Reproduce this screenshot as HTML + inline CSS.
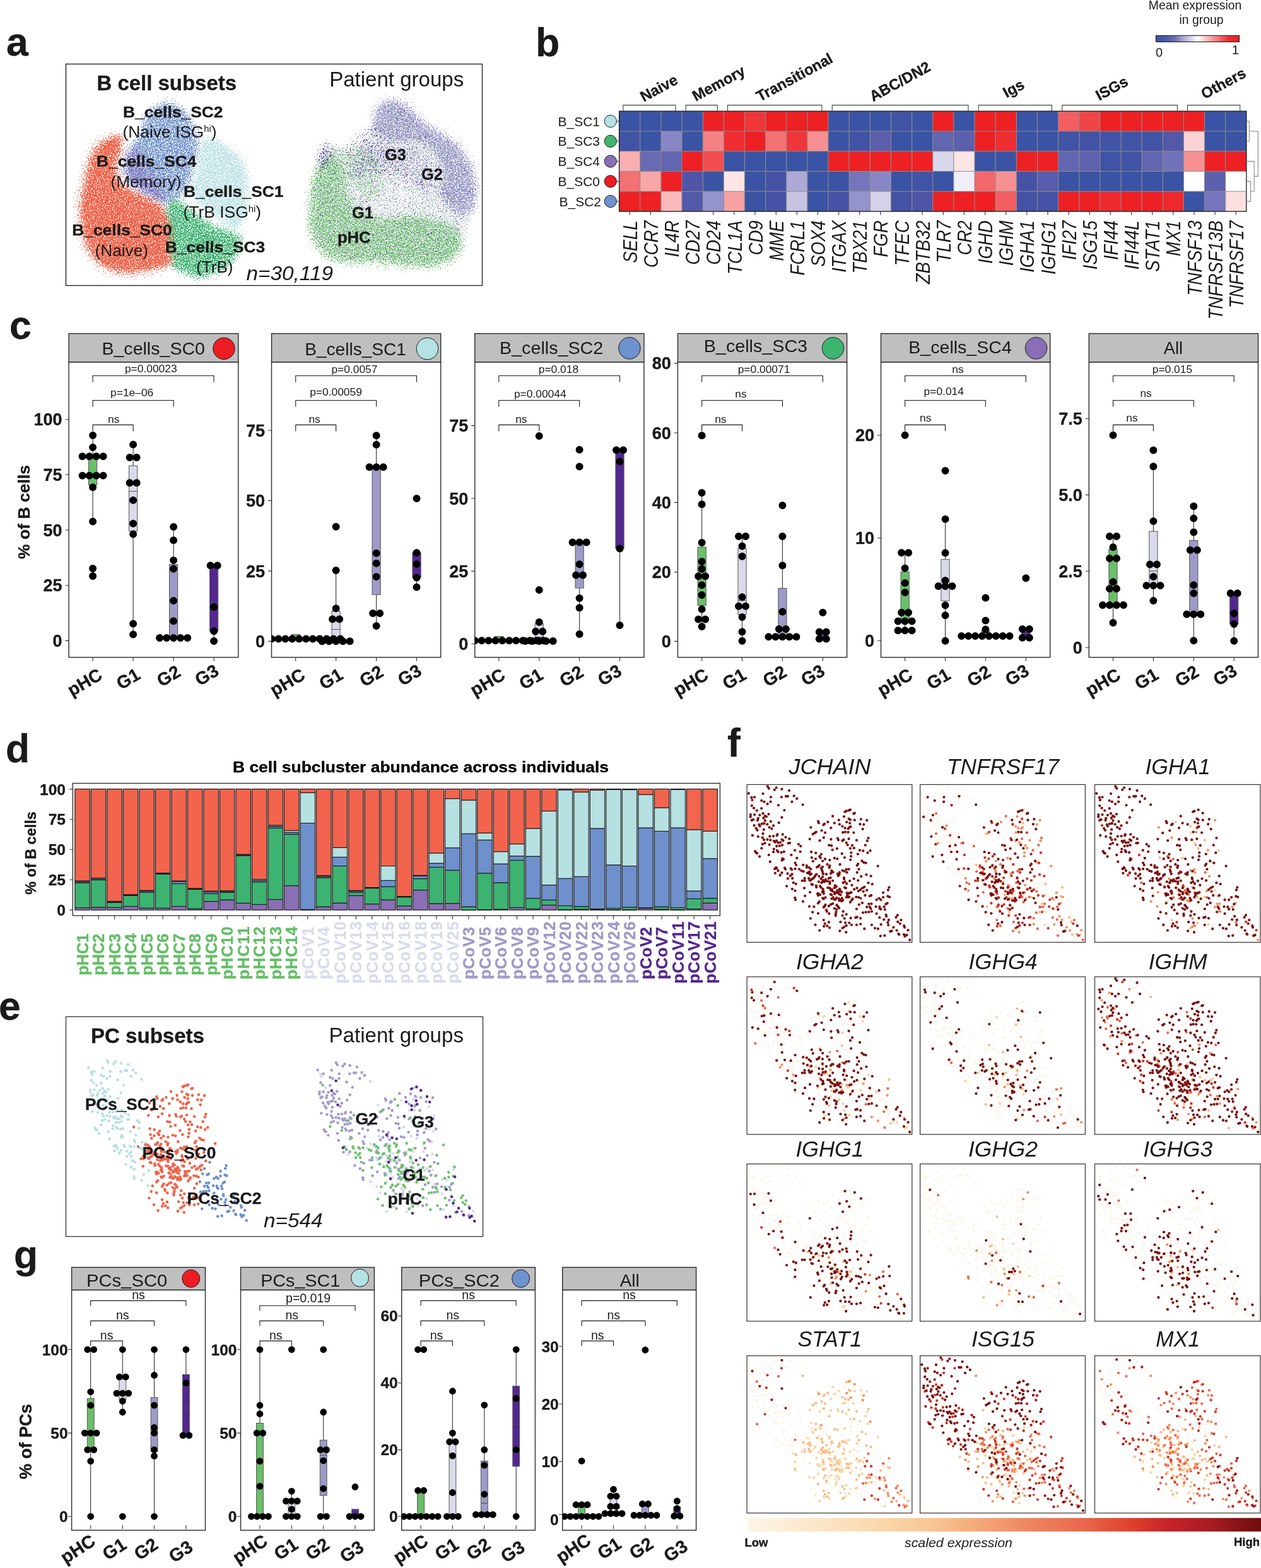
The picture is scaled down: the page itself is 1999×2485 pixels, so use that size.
<!DOCTYPE html>
<html lang="en">
<head>
<meta charset="utf-8">
<title>B cell and plasma cell subsets</title>
<style>
html,body{margin:0;padding:0;background:#fff;}
body{width:1999px;height:2485px;overflow:hidden;}
svg{display:block;font-family:'Liberation Sans', Arial, Helvetica, sans-serif;fill:#1a1a1a;}
</style>
</head>
<body>
<svg width="1999" height="2485" viewBox="0 0 1999 2485">
<defs>
<filter id="fa_red" x="-15%" y="-15%" width="130%" height="130%" color-interpolation-filters="sRGB"><feGaussianBlur in="SourceAlpha" stdDeviation="7" result="b"/><feTurbulence type="fractalNoise" baseFrequency="0.55" numOctaves="2" seed="3" result="n"/><feColorMatrix in="n" type="matrix" values="0 0 0 0 0 0 0 0 0 0 0 0 0 0 0 1 0 0 0 0" result="na"/><feComposite in="b" in2="na" operator="arithmetic" k1="0" k2="5" k3="13" k4="-9.500" result="m"/><feComponentTransfer in="b" result="bm"><feFuncA type="linear" slope="30" intercept="-1.2"/></feComponentTransfer><feComposite in="m" in2="bm" operator="in" result="mm"/><feFlood flood-color="#F0634A" result="c"/><feComposite in="c" in2="mm" operator="in"/></filter>
<filter id="fa_redtop" x="-15%" y="-15%" width="130%" height="130%" color-interpolation-filters="sRGB"><feGaussianBlur in="SourceAlpha" stdDeviation="6" result="b"/><feTurbulence type="fractalNoise" baseFrequency="0.55" numOctaves="2" seed="4" result="n"/><feColorMatrix in="n" type="matrix" values="0 0 0 0 0 0 0 0 0 0 0 0 0 0 0 1 0 0 0 0" result="na"/><feComposite in="b" in2="na" operator="arithmetic" k1="0" k2="5" k3="13" k4="-12.500" result="m"/><feComponentTransfer in="b" result="bm"><feFuncA type="linear" slope="30" intercept="-1.2"/></feComponentTransfer><feComposite in="m" in2="bm" operator="in" result="mm"/><feFlood flood-color="#F0634A" result="c"/><feComposite in="c" in2="mm" operator="in"/></filter>
<filter id="fa_blue" x="-15%" y="-15%" width="130%" height="130%" color-interpolation-filters="sRGB"><feGaussianBlur in="SourceAlpha" stdDeviation="7" result="b"/><feTurbulence type="fractalNoise" baseFrequency="0.55" numOctaves="2" seed="5" result="n"/><feColorMatrix in="n" type="matrix" values="0 0 0 0 0 0 0 0 0 0 0 0 0 0 0 1 0 0 0 0" result="na"/><feComposite in="b" in2="na" operator="arithmetic" k1="0" k2="5" k3="13" k4="-10.300" result="m"/><feComponentTransfer in="b" result="bm"><feFuncA type="linear" slope="30" intercept="-1.2"/></feComponentTransfer><feComposite in="m" in2="bm" operator="in" result="mm"/><feFlood flood-color="#6E90CC" result="c"/><feComposite in="c" in2="mm" operator="in"/></filter>
<filter id="fa_purp" x="-15%" y="-15%" width="130%" height="130%" color-interpolation-filters="sRGB"><feGaussianBlur in="SourceAlpha" stdDeviation="8" result="b"/><feTurbulence type="fractalNoise" baseFrequency="0.55" numOctaves="2" seed="7" result="n"/><feColorMatrix in="n" type="matrix" values="0 0 0 0 0 0 0 0 0 0 0 0 0 0 0 1 0 0 0 0" result="na"/><feComposite in="b" in2="na" operator="arithmetic" k1="0" k2="5" k3="13" k4="-11.250" result="m"/><feComponentTransfer in="b" result="bm"><feFuncA type="linear" slope="30" intercept="-1.2"/></feComponentTransfer><feComposite in="m" in2="bm" operator="in" result="mm"/><feFlood flood-color="#8B72B8" result="c"/><feComposite in="c" in2="mm" operator="in"/></filter>
<filter id="fa_cyan" x="-15%" y="-15%" width="130%" height="130%" color-interpolation-filters="sRGB"><feGaussianBlur in="SourceAlpha" stdDeviation="7" result="b"/><feTurbulence type="fractalNoise" baseFrequency="0.55" numOctaves="2" seed="9" result="n"/><feColorMatrix in="n" type="matrix" values="0 0 0 0 0 0 0 0 0 0 0 0 0 0 0 1 0 0 0 0" result="na"/><feComposite in="b" in2="na" operator="arithmetic" k1="0" k2="5" k3="13" k4="-10.400" result="m"/><feComponentTransfer in="b" result="bm"><feFuncA type="linear" slope="30" intercept="-1.2"/></feComponentTransfer><feComposite in="m" in2="bm" operator="in" result="mm"/><feFlood flood-color="#B7E0E4" result="c"/><feComposite in="c" in2="mm" operator="in"/></filter>
<filter id="fa_green" x="-15%" y="-15%" width="130%" height="130%" color-interpolation-filters="sRGB"><feGaussianBlur in="SourceAlpha" stdDeviation="7" result="b"/><feTurbulence type="fractalNoise" baseFrequency="0.55" numOctaves="2" seed="11" result="n"/><feColorMatrix in="n" type="matrix" values="0 0 0 0 0 0 0 0 0 0 0 0 0 0 0 1 0 0 0 0" result="na"/><feComposite in="b" in2="na" operator="arithmetic" k1="0" k2="5" k3="13" k4="-10.100" result="m"/><feComponentTransfer in="b" result="bm"><feFuncA type="linear" slope="30" intercept="-1.2"/></feComponentTransfer><feComposite in="m" in2="bm" operator="in" result="mm"/><feFlood flood-color="#3DB371" result="c"/><feComposite in="c" in2="mm" operator="in"/></filter>
<filter id="fb_g1" x="-15%" y="-15%" width="130%" height="130%" color-interpolation-filters="sRGB"><feGaussianBlur in="SourceAlpha" stdDeviation="7" result="b"/><feTurbulence type="fractalNoise" baseFrequency="0.47" numOctaves="2" seed="21" result="n"/><feColorMatrix in="n" type="matrix" values="0 0 0 0 0 0 0 0 0 0 0 0 0 0 0 1 0 0 0 0" result="na"/><feComposite in="b" in2="na" operator="arithmetic" k1="0" k2="5" k3="13" k4="-11.900" result="m"/><feComponentTransfer in="b" result="bm"><feFuncA type="linear" slope="30" intercept="-1.2"/></feComponentTransfer><feComposite in="m" in2="bm" operator="in" result="mm"/><feFlood flood-color="#DADAEB" result="c"/><feComposite in="c" in2="mm" operator="in"/></filter>
<filter id="fb_phc" x="-15%" y="-15%" width="130%" height="130%" color-interpolation-filters="sRGB"><feGaussianBlur in="SourceAlpha" stdDeviation="8" result="b"/><feTurbulence type="fractalNoise" baseFrequency="0.47" numOctaves="2" seed="25" result="n"/><feColorMatrix in="n" type="matrix" values="0 0 0 0 0 0 0 0 0 0 0 0 0 0 0 1 0 0 0 0" result="na"/><feComposite in="b" in2="na" operator="arithmetic" k1="0" k2="5" k3="13" k4="-10.750" result="m"/><feComponentTransfer in="b" result="bm"><feFuncA type="linear" slope="30" intercept="-1.2"/></feComponentTransfer><feComposite in="m" in2="bm" operator="in" result="mm"/><feFlood flood-color="#6CC46A" result="c"/><feComposite in="c" in2="mm" operator="in"/></filter>
<filter id="fb_phcm" x="-15%" y="-15%" width="130%" height="130%" color-interpolation-filters="sRGB"><feGaussianBlur in="SourceAlpha" stdDeviation="8" result="b"/><feTurbulence type="fractalNoise" baseFrequency="0.47" numOctaves="2" seed="26" result="n"/><feColorMatrix in="n" type="matrix" values="0 0 0 0 0 0 0 0 0 0 0 0 0 0 0 1 0 0 0 0" result="na"/><feComposite in="b" in2="na" operator="arithmetic" k1="0" k2="5" k3="13" k4="-12.300" result="m"/><feComponentTransfer in="b" result="bm"><feFuncA type="linear" slope="30" intercept="-1.2"/></feComponentTransfer><feComposite in="m" in2="bm" operator="in" result="mm"/><feFlood flood-color="#6CC46A" result="c"/><feComposite in="c" in2="mm" operator="in"/></filter>
<filter id="fb_g2" x="-15%" y="-15%" width="130%" height="130%" color-interpolation-filters="sRGB"><feGaussianBlur in="SourceAlpha" stdDeviation="7" result="b"/><feTurbulence type="fractalNoise" baseFrequency="0.47" numOctaves="2" seed="23" result="n"/><feColorMatrix in="n" type="matrix" values="0 0 0 0 0 0 0 0 0 0 0 0 0 0 0 1 0 0 0 0" result="na"/><feComposite in="b" in2="na" operator="arithmetic" k1="0" k2="5" k3="13" k4="-10.350" result="m"/><feComponentTransfer in="b" result="bm"><feFuncA type="linear" slope="30" intercept="-1.2"/></feComponentTransfer><feComposite in="m" in2="bm" operator="in" result="mm"/><feFlood flood-color="#A19CCF" result="c"/><feComposite in="c" in2="mm" operator="in"/></filter>
<filter id="fb_g2m" x="-15%" y="-15%" width="130%" height="130%" color-interpolation-filters="sRGB"><feGaussianBlur in="SourceAlpha" stdDeviation="8" result="b"/><feTurbulence type="fractalNoise" baseFrequency="0.47" numOctaves="2" seed="24" result="n"/><feColorMatrix in="n" type="matrix" values="0 0 0 0 0 0 0 0 0 0 0 0 0 0 0 1 0 0 0 0" result="na"/><feComposite in="b" in2="na" operator="arithmetic" k1="0" k2="5" k3="13" k4="-12.100" result="m"/><feComponentTransfer in="b" result="bm"><feFuncA type="linear" slope="30" intercept="-1.2"/></feComponentTransfer><feComposite in="m" in2="bm" operator="in" result="mm"/><feFlood flood-color="#A19CCF" result="c"/><feComposite in="c" in2="mm" operator="in"/></filter>
<filter id="fb_g1o" x="-15%" y="-15%" width="130%" height="130%" color-interpolation-filters="sRGB"><feGaussianBlur in="SourceAlpha" stdDeviation="8" result="b"/><feTurbulence type="fractalNoise" baseFrequency="0.47" numOctaves="2" seed="33" result="n"/><feColorMatrix in="n" type="matrix" values="0 0 0 0 0 0 0 0 0 0 0 0 0 0 0 1 0 0 0 0" result="na"/><feComposite in="b" in2="na" operator="arithmetic" k1="0" k2="5" k3="13" k4="-13.000" result="m"/><feComponentTransfer in="b" result="bm"><feFuncA type="linear" slope="30" intercept="-1.2"/></feComponentTransfer><feComposite in="m" in2="bm" operator="in" result="mm"/><feFlood flood-color="#DADAEB" result="c"/><feComposite in="c" in2="mm" operator="in"/></filter>
<filter id="fb_g2o" x="-15%" y="-15%" width="130%" height="130%" color-interpolation-filters="sRGB"><feGaussianBlur in="SourceAlpha" stdDeviation="8" result="b"/><feTurbulence type="fractalNoise" baseFrequency="0.47" numOctaves="2" seed="35" result="n"/><feColorMatrix in="n" type="matrix" values="0 0 0 0 0 0 0 0 0 0 0 0 0 0 0 1 0 0 0 0" result="na"/><feComposite in="b" in2="na" operator="arithmetic" k1="0" k2="5" k3="13" k4="-13.400" result="m"/><feComponentTransfer in="b" result="bm"><feFuncA type="linear" slope="30" intercept="-1.2"/></feComponentTransfer><feComposite in="m" in2="bm" operator="in" result="mm"/><feFlood flood-color="#A19CCF" result="c"/><feComposite in="c" in2="mm" operator="in"/></filter>
<filter id="fb_phco" x="-15%" y="-15%" width="130%" height="130%" color-interpolation-filters="sRGB"><feGaussianBlur in="SourceAlpha" stdDeviation="8" result="b"/><feTurbulence type="fractalNoise" baseFrequency="0.47" numOctaves="2" seed="37" result="n"/><feColorMatrix in="n" type="matrix" values="0 0 0 0 0 0 0 0 0 0 0 0 0 0 0 1 0 0 0 0" result="na"/><feComposite in="b" in2="na" operator="arithmetic" k1="0" k2="5" k3="13" k4="-13.500" result="m"/><feComponentTransfer in="b" result="bm"><feFuncA type="linear" slope="30" intercept="-1.2"/></feComponentTransfer><feComposite in="m" in2="bm" operator="in" result="mm"/><feFlood flood-color="#6CC46A" result="c"/><feComposite in="c" in2="mm" operator="in"/></filter>
<filter id="fb_g3" x="-15%" y="-15%" width="130%" height="130%" color-interpolation-filters="sRGB"><feGaussianBlur in="SourceAlpha" stdDeviation="6" result="b"/><feTurbulence type="fractalNoise" baseFrequency="0.42" numOctaves="2" seed="27" result="n"/><feColorMatrix in="n" type="matrix" values="0 0 0 0 0 0 0 0 0 0 0 0 0 0 0 1 0 0 0 0" result="na"/><feComposite in="b" in2="na" operator="arithmetic" k1="0" k2="5" k3="13" k4="-12.300" result="m"/><feComponentTransfer in="b" result="bm"><feFuncA type="linear" slope="30" intercept="-1.2"/></feComponentTransfer><feComposite in="m" in2="bm" operator="in" result="mm"/><feFlood flood-color="#54278F" result="c"/><feComposite in="c" in2="mm" operator="in"/></filter>
<filter id="fb_g3b" x="-15%" y="-15%" width="130%" height="130%" color-interpolation-filters="sRGB"><feGaussianBlur in="SourceAlpha" stdDeviation="8" result="b"/><feTurbulence type="fractalNoise" baseFrequency="0.42" numOctaves="2" seed="29" result="n"/><feColorMatrix in="n" type="matrix" values="0 0 0 0 0 0 0 0 0 0 0 0 0 0 0 1 0 0 0 0" result="na"/><feComposite in="b" in2="na" operator="arithmetic" k1="0" k2="5" k3="13" k4="-13.300" result="m"/><feComponentTransfer in="b" result="bm"><feFuncA type="linear" slope="30" intercept="-1.2"/></feComponentTransfer><feComposite in="m" in2="bm" operator="in" result="mm"/><feFlood flood-color="#54278F" result="c"/><feComposite in="c" in2="mm" operator="in"/></filter>
<filter id="fb_g3c" x="-15%" y="-15%" width="130%" height="130%" color-interpolation-filters="sRGB"><feGaussianBlur in="SourceAlpha" stdDeviation="8" result="b"/><feTurbulence type="fractalNoise" baseFrequency="0.42" numOctaves="2" seed="30" result="n"/><feColorMatrix in="n" type="matrix" values="0 0 0 0 0 0 0 0 0 0 0 0 0 0 0 1 0 0 0 0" result="na"/><feComposite in="b" in2="na" operator="arithmetic" k1="0" k2="5" k3="13" k4="-14.000" result="m"/><feComponentTransfer in="b" result="bm"><feFuncA type="linear" slope="30" intercept="-1.2"/></feComponentTransfer><feComposite in="m" in2="bm" operator="in" result="mm"/><feFlood flood-color="#54278F" result="c"/><feComposite in="c" in2="mm" operator="in"/></filter>
<filter id="fb_w" x="-15%" y="-15%" width="130%" height="130%" color-interpolation-filters="sRGB"><feGaussianBlur in="SourceAlpha" stdDeviation="7" result="b"/><feTurbulence type="fractalNoise" baseFrequency="0.47" numOctaves="2" seed="31" result="n"/><feColorMatrix in="n" type="matrix" values="0 0 0 0 0 0 0 0 0 0 0 0 0 0 0 1 0 0 0 0" result="na"/><feComposite in="b" in2="na" operator="arithmetic" k1="0" k2="5" k3="13" k4="-11.250" result="m"/><feComponentTransfer in="b" result="bm"><feFuncA type="linear" slope="30" intercept="-1.2"/></feComponentTransfer><feComposite in="m" in2="bm" operator="in" result="mm"/><feFlood flood-color="#FFFFFF" result="c"/><feComposite in="c" in2="mm" operator="in"/></filter>
<linearGradient id="bwr" x1="0" x2="1" y1="0" y2="0"><stop offset="0" stop-color="#3A53A4"/><stop offset="0.1" stop-color="#4456A7"/><stop offset="0.22" stop-color="#6D6DB3"/><stop offset="0.35" stop-color="#B5B2DA"/><stop offset="0.5" stop-color="#FFFFFF"/><stop offset="0.88" stop-color="#EE2A2E"/><stop offset="1" stop-color="#ED2024"/></linearGradient>
<clipPath id="clip_c1"><rect x="109.1" y="574" width="268.7" height="467.7"/></clipPath>
<clipPath id="clip_c2"><rect x="430.5" y="574" width="268.2" height="467.7"/></clipPath>
<clipPath id="clip_c3"><rect x="752.7" y="574" width="268.2" height="467.7"/></clipPath>
<clipPath id="clip_c4"><rect x="1074.4" y="574" width="268.2" height="467.7"/></clipPath>
<clipPath id="clip_c5"><rect x="1396.5" y="574" width="268.2" height="467.7"/></clipPath>
<clipPath id="clip_c6"><rect x="1726.3" y="574" width="268.2" height="467.7"/></clipPath>
<linearGradient id="orrd" x1="0" x2="1" y1="0" y2="0"><stop offset="0" stop-color="#FDF5E6"/><stop offset="0.12" stop-color="#FCE8CC"/><stop offset="0.25" stop-color="#FAD9AE"/><stop offset="0.36" stop-color="#F8C692"/><stop offset="0.45" stop-color="#F4A878"/><stop offset="0.55" stop-color="#EE8462"/><stop offset="0.65" stop-color="#E96A4C"/><stop offset="0.75" stop-color="#DD3F2C"/><stop offset="0.82" stop-color="#C6222A"/><stop offset="0.9" stop-color="#A81C22"/><stop offset="1" stop-color="#6E0C0C"/></linearGradient>
<clipPath id="clip_g1"><rect x="113.6" y="2044.5" width="211.9" height="380.7"/></clipPath>
<clipPath id="clip_g2"><rect x="381.5" y="2044.5" width="211.9" height="380.7"/></clipPath>
<clipPath id="clip_g3"><rect x="636.7" y="2044.5" width="211.7" height="380.7"/></clipPath>
<clipPath id="clip_g4"><rect x="891.7" y="2044.5" width="211.9" height="380.7"/></clipPath>
</defs>
<rect width="1999" height="2485" fill="#fff"/>
<g id="panel-a">
<rect x="104.5" y="101.5" width="660" height="351" fill="none" stroke="#1a1a1a" stroke-width="1.3"/>
<path d="M317 218L343 216L368 232L391 256L397 281L396 319L393 345L381 365L368 370L355 357L317 332L294 306L305 281L312 243Z" fill="#000" filter="url(#fa_cyan)"/>
<path d="M262 158L240 168L224 189L218 214L205 230L196 245L192 267L200 290L222 306L246 320L262 332L278 322L299 302L307 280L313 254L319 229L313 203L300 178L285 164Z" fill="#000" filter="url(#fa_blue)"/>
<path d="M262 322L279 308L305 332L343 357L381 370L388 383L381 400L368 421L343 436L317 444L292 437L268 423L262 395L260 357Z" fill="#000" filter="url(#fa_green)"/>
<path d="M124 327L130 294L136 263L145 238L158 224L178 213L196 214L194 240L184 266L192 290L218 304L246 316L262 330L270 350L272 375L274 398L274 421L244 430L203 435L172 430L150 415L134 392L127 357Z" fill="#000" filter="url(#fa_red)"/>
<path d="M150 232L165 218L185 208L200 212L196 235L180 250L160 250Z" fill="#000" filter="url(#fa_redtop)"/>
<path d="M218 222L196 238L186 262L192 286L212 304L238 318L262 332L270 310L256 284L240 262L232 238Z" fill="#000" filter="url(#fa_purp)"/>
<path d="M620.5 153L598.4 161.4L587.3 185.4L578.1 203.8L570.7 216.7L556 233.3L533.8 222.3L511.7 216.7L496.9 233.3L491.4 277.6L484 351.4L493.2 388.4L515.4 412.3L552.3 423.4L589.2 419.7L635.3 425.3L681.4 429L718.4 417.9L736.8 397.6L745 370L757 340L759 296.1L751.6 259.2L727.6 226L699.9 207.5L672.2 194.6L663 178L644.5 161.4Z" fill="#000" filter="url(#fb_g1)"/>
<path d="M487.7 314.5L491.4 277.6L506.1 250L533.8 240.7L548.6 268.4L556 305.3L570.7 333L607.6 342.2L644.5 336.7L681.4 338.5L718.4 351.4L736.8 369.9L736.8 397.6L718.4 417.9L681.4 429L635.3 425.3L589.2 419.7L552.3 423.4L515.4 412.3L493.2 388.4L484 351.4Z" fill="#000" filter="url(#fb_phc)"/>
<path d="M500 232L543 229L580 218.6L607.6 240.7L616.9 277.6L610 318L570.7 326L552.3 296.1L520 270Z" fill="#000" filter="url(#fb_phcm)"/>
<path d="M570.7 213L607.6 226L663 222.3L690.7 250L699.9 277.6L690.7 305.3L663 314.5L644.5 286.9L616.9 273.9L589.2 277.6L561.5 296.1L548.6 268.4L561.5 240.7Z" fill="#000" filter="url(#fb_g2m)"/>
<path d="M598.4 161.4L620.5 154L644.5 161.4L663 178L674 192L699.9 206L727.6 225L751.6 259.2L759 296.1L755.3 333L736.8 347.8L709.1 333L690.7 305.3L699.9 277.6L690.7 250L672.2 233.3L655 226L635.3 229.6L607.6 226L589.2 207.5L589.2 181.7Z" fill="#000" filter="url(#fb_g2)"/>
<path d="M487.7 314.5L491.4 277.6L506.1 250L533.8 240.7L548.6 268.4L556 305.3L570.7 333L607.6 342.2L644.5 336.7L681.4 338.5L718.4 351.4L736.8 369.9L736.8 397.6L718.4 417.9L681.4 429L635.3 425.3L589.2 419.7L552.3 423.4L515.4 412.3L493.2 388.4L484 351.4Z" fill="#000" filter="url(#fb_g1o)"/>
<path d="M620.5 153L598.4 161.4L587.3 185.4L578.1 203.8L570.7 216.7L556 233.3L533.8 222.3L511.7 216.7L496.9 233.3L491.4 277.6L484 351.4L493.2 388.4L515.4 412.3L552.3 423.4L589.2 419.7L635.3 425.3L681.4 429L718.4 417.9L736.8 397.6L745 370L757 340L759 296.1L751.6 259.2L727.6 226L699.9 207.5L672.2 194.6L663 178L644.5 161.4Z" fill="#000" filter="url(#fb_g2o)"/>
<path d="M620.5 153L598.4 161.4L587.3 185.4L578.1 203.8L570.7 216.7L556 233.3L533.8 222.3L511.7 216.7L496.9 233.3L491.4 277.6L484 351.4L493.2 388.4L515.4 412.3L552.3 423.4L589.2 419.7L635.3 425.3L681.4 429L718.4 417.9L736.8 397.6L745 370L757 340L759 296.1L751.6 259.2L727.6 226L699.9 207.5L672.2 194.6L663 178L644.5 161.4Z" fill="#000" filter="url(#fb_phco)"/>
<path d="M612 300L636 292L655 300L660 325L640 338L618 332Z" fill="#000" filter="url(#fb_w)"/>
<path d="M503 226L524 220L538 238L530 262L512 280L498 262Z" fill="#000" filter="url(#fb_g3)"/>
<path d="M545 215L585 190L610 185L640 235L680 275L725 300L735 325L700 318L650 300L610 290L570 300L540 270L535 235Z" fill="#000" filter="url(#fb_g3b)"/>
<path d="M620.5 153L598.4 161.4L587.3 185.4L578.1 203.8L570.7 216.7L556 233.3L533.8 222.3L511.7 216.7L496.9 233.3L491.4 277.6L484 351.4L493.2 388.4L515.4 412.3L552.3 423.4L589.2 419.7L635.3 425.3L681.4 429L718.4 417.9L736.8 397.6L745 370L757 340L759 296.1L751.6 259.2L727.6 226L699.9 207.5L672.2 194.6L663 178L644.5 161.4Z" fill="#000" filter="url(#fb_g3c)"/>
<text x="153.5" y="142.8" font-size="32.5" font-weight="bold" stroke="#1a1a1a" stroke-width="0.35" stroke-linejoin="round" textLength="221.5" lengthAdjust="spacingAndGlyphs">B cell subsets</text>
<text x="522.2" y="137.3" font-size="32.5" textLength="213" lengthAdjust="spacingAndGlyphs">Patient groups</text>
<text x="195" y="185.9" font-size="24.8" font-weight="bold" stroke="#1a1a1a" stroke-width="0.35" stroke-linejoin="round" textLength="158.5" lengthAdjust="spacingAndGlyphs">B_cells_SC2</text>
<text x="194.5" y="218.3" font-size="25" textLength="149" lengthAdjust="spacingAndGlyphs">(Naive ISG<tspan font-size="14" dy="-9">hi</tspan><tspan dy="9">)</tspan></text>
<text x="153" y="263.8" font-size="24.8" font-weight="bold" stroke="#1a1a1a" stroke-width="0.35" stroke-linejoin="round" textLength="158.5" lengthAdjust="spacingAndGlyphs">B_cells_SC4</text>
<text x="175.5" y="296.6" font-size="25" textLength="112" lengthAdjust="spacingAndGlyphs">(Memory)</text>
<text x="291" y="312.2" font-size="24.8" font-weight="bold" stroke="#1a1a1a" stroke-width="0.35" stroke-linejoin="round" textLength="158.5" lengthAdjust="spacingAndGlyphs">B_cells_SC1</text>
<text x="290.5" y="344.6" font-size="25" textLength="123.5" lengthAdjust="spacingAndGlyphs">(TrB ISG<tspan font-size="14" dy="-9">hi</tspan><tspan dy="9">)</tspan></text>
<text x="114.2" y="373" font-size="24.8" font-weight="bold" stroke="#1a1a1a" stroke-width="0.35" stroke-linejoin="round" textLength="158.5" lengthAdjust="spacingAndGlyphs">B_cells_SC0</text>
<text x="150.5" y="405.5" font-size="25" textLength="84.5" lengthAdjust="spacingAndGlyphs">(Naive)</text>
<text x="261.8" y="400.4" font-size="24.8" font-weight="bold" stroke="#1a1a1a" stroke-width="0.35" stroke-linejoin="round" textLength="158.5" lengthAdjust="spacingAndGlyphs">B_cells_SC3</text>
<text x="311" y="432.2" font-size="25" textLength="58.5" lengthAdjust="spacingAndGlyphs">(TrB)</text>
<text x="390.5" y="443.5" font-size="32" font-style="italic" textLength="137.5" lengthAdjust="spacingAndGlyphs">n=30,119</text>
<text x="610" y="254" font-size="25.5" font-weight="bold" stroke="#1a1a1a" stroke-width="0.35" stroke-linejoin="round">G3</text>
<text x="668" y="284.5" font-size="25.5" font-weight="bold" stroke="#1a1a1a" stroke-width="0.35" stroke-linejoin="round">G2</text>
<text x="558" y="346" font-size="25.5" font-weight="bold" stroke="#1a1a1a" stroke-width="0.35" stroke-linejoin="round">G1</text>
<text x="535" y="384.5" font-size="25.5" font-weight="bold" stroke="#1a1a1a" stroke-width="0.35" stroke-linejoin="round">pHC</text>
</g>
<g id="panel-b">
<rect x="981.6" y="176.2" width="33.3" height="32" fill="#3A53A4"/>
<rect x="981.6" y="208" width="33.3" height="32" fill="#4153A5"/>
<rect x="981.6" y="239.7" width="33.3" height="32" fill="#F9AFB0"/>
<rect x="981.6" y="271.5" width="33.3" height="32" fill="#F37073"/>
<rect x="981.6" y="303.2" width="33.3" height="32" fill="#ED2024"/>
<rect x="1014.7" y="176.2" width="33.3" height="32" fill="#3A53A4"/>
<rect x="1014.7" y="208" width="33.3" height="32" fill="#3A53A4"/>
<rect x="1014.7" y="239.7" width="33.3" height="32" fill="#696AB4"/>
<rect x="1014.7" y="271.5" width="33.3" height="32" fill="#F8A6A7"/>
<rect x="1014.7" y="303.2" width="33.3" height="32" fill="#ED2024"/>
<rect x="1047.9" y="176.2" width="33.3" height="32" fill="#3A53A4"/>
<rect x="1047.9" y="208" width="33.3" height="32" fill="#8986C5"/>
<rect x="1047.9" y="239.7" width="33.3" height="32" fill="#6265B0"/>
<rect x="1047.9" y="271.5" width="33.3" height="32" fill="#ED2024"/>
<rect x="1047.9" y="303.2" width="33.3" height="32" fill="#F9B8B9"/>
<rect x="1081" y="176.2" width="33.3" height="32" fill="#3A53A4"/>
<rect x="1081" y="208" width="33.3" height="32" fill="#3A53A4"/>
<rect x="1081" y="239.7" width="33.3" height="32" fill="#ED2024"/>
<rect x="1081" y="271.5" width="33.3" height="32" fill="#5055A8"/>
<rect x="1081" y="303.2" width="33.3" height="32" fill="#5458A9"/>
<rect x="1114.2" y="176.2" width="33.3" height="32" fill="#ED2024"/>
<rect x="1114.2" y="208" width="33.3" height="32" fill="#F58284"/>
<rect x="1114.2" y="239.7" width="33.3" height="32" fill="#F14D50"/>
<rect x="1114.2" y="271.5" width="33.3" height="32" fill="#3A53A4"/>
<rect x="1114.2" y="303.2" width="33.3" height="32" fill="#9593CB"/>
<rect x="1147.3" y="176.2" width="33.3" height="32" fill="#ED2024"/>
<rect x="1147.3" y="208" width="33.3" height="32" fill="#EE2D31"/>
<rect x="1147.3" y="239.7" width="33.3" height="32" fill="#3A53A4"/>
<rect x="1147.3" y="271.5" width="33.3" height="32" fill="#FDE4E5"/>
<rect x="1147.3" y="303.2" width="33.3" height="32" fill="#F7A1A3"/>
<rect x="1180.4" y="176.2" width="33.3" height="32" fill="#EF363A"/>
<rect x="1180.4" y="208" width="33.3" height="32" fill="#ED2024"/>
<rect x="1180.4" y="239.7" width="33.3" height="32" fill="#3A53A4"/>
<rect x="1180.4" y="271.5" width="33.3" height="32" fill="#3A53A4"/>
<rect x="1180.4" y="303.2" width="33.3" height="32" fill="#3A53A4"/>
<rect x="1213.6" y="176.2" width="33.3" height="32" fill="#ED2024"/>
<rect x="1213.6" y="208" width="33.3" height="32" fill="#F37073"/>
<rect x="1213.6" y="239.7" width="33.3" height="32" fill="#3A53A4"/>
<rect x="1213.6" y="271.5" width="33.3" height="32" fill="#4552A5"/>
<rect x="1213.6" y="303.2" width="33.3" height="32" fill="#4552A5"/>
<rect x="1246.7" y="176.2" width="33.3" height="32" fill="#ED2024"/>
<rect x="1246.7" y="208" width="33.3" height="32" fill="#EF363A"/>
<rect x="1246.7" y="239.7" width="33.3" height="32" fill="#3A53A4"/>
<rect x="1246.7" y="271.5" width="33.3" height="32" fill="#ADA9D6"/>
<rect x="1246.7" y="303.2" width="33.3" height="32" fill="#C6C3E2"/>
<rect x="1279.9" y="176.2" width="33.3" height="32" fill="#ED2024"/>
<rect x="1279.9" y="208" width="33.3" height="32" fill="#F69092"/>
<rect x="1279.9" y="239.7" width="33.3" height="32" fill="#3A53A4"/>
<rect x="1279.9" y="271.5" width="33.3" height="32" fill="#3A53A4"/>
<rect x="1279.9" y="303.2" width="33.3" height="32" fill="#3A53A4"/>
<rect x="1313" y="176.2" width="33.3" height="32" fill="#3A53A4"/>
<rect x="1313" y="208" width="33.3" height="32" fill="#3A53A4"/>
<rect x="1313" y="239.7" width="33.3" height="32" fill="#ED2024"/>
<rect x="1313" y="271.5" width="33.3" height="32" fill="#3A53A4"/>
<rect x="1313" y="303.2" width="33.3" height="32" fill="#4552A5"/>
<rect x="1346.1" y="176.2" width="33.3" height="32" fill="#3A53A4"/>
<rect x="1346.1" y="208" width="33.3" height="32" fill="#4153A5"/>
<rect x="1346.1" y="239.7" width="33.3" height="32" fill="#ED2024"/>
<rect x="1346.1" y="271.5" width="33.3" height="32" fill="#7675BB"/>
<rect x="1346.1" y="303.2" width="33.3" height="32" fill="#9593CB"/>
<rect x="1379.3" y="176.2" width="33.3" height="32" fill="#3A53A4"/>
<rect x="1379.3" y="208" width="33.3" height="32" fill="#5B5FAC"/>
<rect x="1379.3" y="239.7" width="33.3" height="32" fill="#ED2024"/>
<rect x="1379.3" y="271.5" width="33.3" height="32" fill="#8986C5"/>
<rect x="1379.3" y="303.2" width="33.3" height="32" fill="#D4D1E9"/>
<rect x="1412.4" y="176.2" width="33.3" height="32" fill="#4153A5"/>
<rect x="1412.4" y="208" width="33.3" height="32" fill="#3A53A4"/>
<rect x="1412.4" y="239.7" width="33.3" height="32" fill="#ED2024"/>
<rect x="1412.4" y="271.5" width="33.3" height="32" fill="#3A53A4"/>
<rect x="1412.4" y="303.2" width="33.3" height="32" fill="#4552A5"/>
<rect x="1445.6" y="176.2" width="33.3" height="32" fill="#3A53A4"/>
<rect x="1445.6" y="208" width="33.3" height="32" fill="#3A53A4"/>
<rect x="1445.6" y="239.7" width="33.3" height="32" fill="#ED2024"/>
<rect x="1445.6" y="271.5" width="33.3" height="32" fill="#4153A5"/>
<rect x="1445.6" y="303.2" width="33.3" height="32" fill="#5055A8"/>
<rect x="1478.7" y="176.2" width="33.3" height="32" fill="#ED2024"/>
<rect x="1478.7" y="208" width="33.3" height="32" fill="#6265B0"/>
<rect x="1478.7" y="239.7" width="33.3" height="32" fill="#D9D7EC"/>
<rect x="1478.7" y="271.5" width="33.3" height="32" fill="#3A53A4"/>
<rect x="1478.7" y="303.2" width="33.3" height="32" fill="#ED2024"/>
<rect x="1511.8" y="176.2" width="33.3" height="32" fill="#3A53A4"/>
<rect x="1511.8" y="208" width="33.3" height="32" fill="#5B5FAC"/>
<rect x="1511.8" y="239.7" width="33.3" height="32" fill="#FDE4E5"/>
<rect x="1511.8" y="271.5" width="33.3" height="32" fill="#F0EFF7"/>
<rect x="1511.8" y="303.2" width="33.3" height="32" fill="#ED2024"/>
<rect x="1545" y="176.2" width="33.3" height="32" fill="#ED2024"/>
<rect x="1545" y="208" width="33.3" height="32" fill="#ED2024"/>
<rect x="1545" y="239.7" width="33.3" height="32" fill="#3A53A4"/>
<rect x="1545" y="271.5" width="33.3" height="32" fill="#F3676A"/>
<rect x="1545" y="303.2" width="33.3" height="32" fill="#ED2024"/>
<rect x="1578.1" y="176.2" width="33.3" height="32" fill="#ED2024"/>
<rect x="1578.1" y="208" width="33.3" height="32" fill="#EE2D31"/>
<rect x="1578.1" y="239.7" width="33.3" height="32" fill="#3A53A4"/>
<rect x="1578.1" y="271.5" width="33.3" height="32" fill="#F69092"/>
<rect x="1578.1" y="303.2" width="33.3" height="32" fill="#F25E61"/>
<rect x="1611.3" y="176.2" width="33.3" height="32" fill="#3A53A4"/>
<rect x="1611.3" y="208" width="33.3" height="32" fill="#3A53A4"/>
<rect x="1611.3" y="239.7" width="33.3" height="32" fill="#ED2024"/>
<rect x="1611.3" y="271.5" width="33.3" height="32" fill="#4552A5"/>
<rect x="1611.3" y="303.2" width="33.3" height="32" fill="#4552A5"/>
<rect x="1644.4" y="176.2" width="33.3" height="32" fill="#3A53A4"/>
<rect x="1644.4" y="208" width="33.3" height="32" fill="#3A53A4"/>
<rect x="1644.4" y="239.7" width="33.3" height="32" fill="#ED2024"/>
<rect x="1644.4" y="271.5" width="33.3" height="32" fill="#575CAB"/>
<rect x="1644.4" y="303.2" width="33.3" height="32" fill="#4552A5"/>
<rect x="1677.5" y="176.2" width="33.3" height="32" fill="#F25E61"/>
<rect x="1677.5" y="208" width="33.3" height="32" fill="#4153A5"/>
<rect x="1677.5" y="239.7" width="33.3" height="32" fill="#6265B0"/>
<rect x="1677.5" y="271.5" width="33.3" height="32" fill="#3A53A4"/>
<rect x="1677.5" y="303.2" width="33.3" height="32" fill="#ED2024"/>
<rect x="1710.7" y="176.2" width="33.3" height="32" fill="#F04447"/>
<rect x="1710.7" y="208" width="33.3" height="32" fill="#4153A5"/>
<rect x="1710.7" y="239.7" width="33.3" height="32" fill="#5F62AE"/>
<rect x="1710.7" y="271.5" width="33.3" height="32" fill="#3A53A4"/>
<rect x="1710.7" y="303.2" width="33.3" height="32" fill="#ED2024"/>
<rect x="1743.8" y="176.2" width="33.3" height="32" fill="#ED2024"/>
<rect x="1743.8" y="208" width="33.3" height="32" fill="#4153A5"/>
<rect x="1743.8" y="239.7" width="33.3" height="32" fill="#4153A5"/>
<rect x="1743.8" y="271.5" width="33.3" height="32" fill="#3A53A4"/>
<rect x="1743.8" y="303.2" width="33.3" height="32" fill="#EE292D"/>
<rect x="1777" y="176.2" width="33.3" height="32" fill="#ED2024"/>
<rect x="1777" y="208" width="33.3" height="32" fill="#4153A5"/>
<rect x="1777" y="239.7" width="33.3" height="32" fill="#4153A5"/>
<rect x="1777" y="271.5" width="33.3" height="32" fill="#3A53A4"/>
<rect x="1777" y="303.2" width="33.3" height="32" fill="#ED2024"/>
<rect x="1810.1" y="176.2" width="33.3" height="32" fill="#ED2024"/>
<rect x="1810.1" y="208" width="33.3" height="32" fill="#4153A5"/>
<rect x="1810.1" y="239.7" width="33.3" height="32" fill="#6265B0"/>
<rect x="1810.1" y="271.5" width="33.3" height="32" fill="#3A53A4"/>
<rect x="1810.1" y="303.2" width="33.3" height="32" fill="#ED2024"/>
<rect x="1843.2" y="176.2" width="33.3" height="32" fill="#ED2024"/>
<rect x="1843.2" y="208" width="33.3" height="32" fill="#5458A9"/>
<rect x="1843.2" y="239.7" width="33.3" height="32" fill="#7272B9"/>
<rect x="1843.2" y="271.5" width="33.3" height="32" fill="#3A53A4"/>
<rect x="1843.2" y="303.2" width="33.3" height="32" fill="#EE292D"/>
<rect x="1876.4" y="176.2" width="33.3" height="32" fill="#ED2024"/>
<rect x="1876.4" y="208" width="33.3" height="32" fill="#FBD2D3"/>
<rect x="1876.4" y="239.7" width="33.3" height="32" fill="#F69092"/>
<rect x="1876.4" y="271.5" width="33.3" height="32" fill="#FFFDFD"/>
<rect x="1876.4" y="303.2" width="33.3" height="32" fill="#3A53A4"/>
<rect x="1909.5" y="176.2" width="33.3" height="32" fill="#3A53A4"/>
<rect x="1909.5" y="208" width="33.3" height="32" fill="#3A53A4"/>
<rect x="1909.5" y="239.7" width="33.3" height="32" fill="#ED2024"/>
<rect x="1909.5" y="271.5" width="33.3" height="32" fill="#5B5FAC"/>
<rect x="1909.5" y="303.2" width="33.3" height="32" fill="#7675BB"/>
<rect x="1942.7" y="176.2" width="33.3" height="32" fill="#3A53A4"/>
<rect x="1942.7" y="208" width="33.3" height="32" fill="#3A53A4"/>
<rect x="1942.7" y="239.7" width="33.3" height="32" fill="#ED2024"/>
<rect x="1942.7" y="271.5" width="33.3" height="32" fill="#FFFFFF"/>
<rect x="1942.7" y="303.2" width="33.3" height="32" fill="#FCE0E0"/>
<path d="M1014.7 176.2V335M1047.9 176.2V335M1081 176.2V335M1114.2 176.2V335M1147.3 176.2V335M1180.4 176.2V335M1213.6 176.2V335M1246.7 176.2V335M1279.9 176.2V335M1313 176.2V335M1346.1 176.2V335M1379.3 176.2V335M1412.4 176.2V335M1445.6 176.2V335M1478.7 176.2V335M1511.8 176.2V335M1545 176.2V335M1578.1 176.2V335M1611.3 176.2V335M1644.4 176.2V335M1677.5 176.2V335M1710.7 176.2V335M1743.8 176.2V335M1777 176.2V335M1810.1 176.2V335M1843.2 176.2V335M1876.4 176.2V335M1909.5 176.2V335M1942.7 176.2V335M981.6 208H1975.8M981.6 239.7H1975.8M981.6 271.5H1975.8M981.6 303.2H1975.8" fill="none" stroke="#8C8C8C" stroke-width="1.1"/>
<rect x="981.6" y="176.2" width="994.2" height="158.8" fill="none" stroke="#1a1a1a" stroke-width="1.3"/>
<path d="M998.2 335v5.8M1031.3 335v5.8M1130.7 335v5.8M1163.9 335v5.8M1197 335v5.8M1230.2 335v5.8M1263.3 335v5.8M1296.4 335v5.8M1329.6 335v5.8M1362.7 335v5.8M1395.8 335v5.8M1462.1 335v5.8M1495.3 335v5.8M1528.4 335v5.8M1561.6 335v5.8M1594.7 335v5.8M1627.8 335v5.8M1661 335v5.8M1694.1 335v5.8M1727.2 335v5.8M1760.4 335v5.8M1793.5 335v5.8M1826.7 335v5.8M1859.8 335v5.8M1893 335v5.8M1926.1 335v5.8M1959.2 335v5.8" fill="none" stroke="#333" stroke-width="1.1"/>
<text font-size="30.5" font-style="italic" text-anchor="end" transform="translate(1009.8 349.5) rotate(-90) scale(0.9 1)">SELL</text>
<text font-size="30.5" font-style="italic" text-anchor="end" transform="translate(1042.9 349.5) rotate(-90) scale(0.9 1)">CCR7</text>
<text font-size="30.5" font-style="italic" text-anchor="end" transform="translate(1076 349.5) rotate(-90) scale(0.9 1)">IL4R</text>
<text font-size="30.5" font-style="italic" text-anchor="end" transform="translate(1109.2 349.5) rotate(-90) scale(0.9 1)">CD27</text>
<text font-size="30.5" font-style="italic" text-anchor="end" transform="translate(1142.3 349.5) rotate(-90) scale(0.9 1)">CD24</text>
<text font-size="30.5" font-style="italic" text-anchor="end" transform="translate(1175.5 349.5) rotate(-90) scale(0.9 1)">TCL1A</text>
<text font-size="30.5" font-style="italic" text-anchor="end" transform="translate(1208.6 349.5) rotate(-90) scale(0.9 1)">CD9</text>
<text font-size="30.5" font-style="italic" text-anchor="end" transform="translate(1241.8 349.5) rotate(-90) scale(0.9 1)">MME</text>
<text font-size="30.5" font-style="italic" text-anchor="end" transform="translate(1274.9 349.5) rotate(-90) scale(0.9 1)">FCRL1</text>
<text font-size="30.5" font-style="italic" text-anchor="end" transform="translate(1308 349.5) rotate(-90) scale(0.9 1)">SOX4</text>
<text font-size="30.5" font-style="italic" text-anchor="end" transform="translate(1341.2 349.5) rotate(-90) scale(0.9 1)">ITGAX</text>
<text font-size="30.5" font-style="italic" text-anchor="end" transform="translate(1374.3 349.5) rotate(-90) scale(0.9 1)">TBX21</text>
<text font-size="30.5" font-style="italic" text-anchor="end" transform="translate(1407.4 349.5) rotate(-90) scale(0.9 1)">FGR</text>
<text font-size="30.5" font-style="italic" text-anchor="end" transform="translate(1440.6 349.5) rotate(-90) scale(0.9 1)">TFEC</text>
<text font-size="30.5" font-style="italic" text-anchor="end" transform="translate(1473.7 349.5) rotate(-90) scale(0.9 1)">ZBTB32</text>
<text font-size="30.5" font-style="italic" text-anchor="end" transform="translate(1506.9 349.5) rotate(-90) scale(0.9 1)">TLR7</text>
<text font-size="30.5" font-style="italic" text-anchor="end" transform="translate(1540 349.5) rotate(-90) scale(0.9 1)">CR2</text>
<text font-size="30.5" font-style="italic" text-anchor="end" transform="translate(1573.2 349.5) rotate(-90) scale(0.9 1)">IGHD</text>
<text font-size="30.5" font-style="italic" text-anchor="end" transform="translate(1606.3 349.5) rotate(-90) scale(0.9 1)">IGHM</text>
<text font-size="30.5" font-style="italic" text-anchor="end" transform="translate(1639.4 349.5) rotate(-90) scale(0.9 1)">IGHA1</text>
<text font-size="30.5" font-style="italic" text-anchor="end" transform="translate(1672.6 349.5) rotate(-90) scale(0.9 1)">IGHG1</text>
<text font-size="30.5" font-style="italic" text-anchor="end" transform="translate(1705.7 349.5) rotate(-90) scale(0.9 1)">IFI27</text>
<text font-size="30.5" font-style="italic" text-anchor="end" transform="translate(1738.8 349.5) rotate(-90) scale(0.9 1)">ISG15</text>
<text font-size="30.5" font-style="italic" text-anchor="end" transform="translate(1772 349.5) rotate(-90) scale(0.9 1)">IFI44</text>
<text font-size="30.5" font-style="italic" text-anchor="end" transform="translate(1805.1 349.5) rotate(-90) scale(0.9 1)">IFI44L</text>
<text font-size="30.5" font-style="italic" text-anchor="end" transform="translate(1838.3 349.5) rotate(-90) scale(0.9 1)">STAT1</text>
<text font-size="30.5" font-style="italic" text-anchor="end" transform="translate(1871.4 349.5) rotate(-90) scale(0.9 1)">MX1</text>
<text font-size="30.5" font-style="italic" text-anchor="end" transform="translate(1904.5 349.5) rotate(-90) scale(0.9 1)">TNFSF13</text>
<text font-size="30.5" font-style="italic" text-anchor="end" transform="translate(1937.7 349.5) rotate(-90) scale(0.9 1)">TNFRSF13B</text>
<text font-size="30.5" font-style="italic" text-anchor="end" transform="translate(1970.8 349.5) rotate(-90) scale(0.9 1)">TNFRSF17</text>
<path d="M987.8 176.2V166.6H1071V176.2" fill="none" stroke="#444" stroke-width="1.1"/>
<text x="1020.5" y="162" font-size="23.8" font-weight="bold" stroke="#1a1a1a" stroke-width="0.35" stroke-linejoin="round" transform="rotate(-28.5 1020.5 162)">Naive</text>
<path d="M1087.2 176.2V166.6H1137.2V176.2" fill="none" stroke="#444" stroke-width="1.1"/>
<text x="1103" y="161" font-size="23.8" font-weight="bold" stroke="#1a1a1a" stroke-width="0.35" stroke-linejoin="round" transform="rotate(-28.5 1103 161)">Memory</text>
<path d="M1153.5 176.2V166.6H1302.9V176.2" fill="none" stroke="#444" stroke-width="1.1"/>
<text x="1204.5" y="161.5" font-size="23.8" font-weight="bold" stroke="#1a1a1a" stroke-width="0.35" stroke-linejoin="round" transform="rotate(-28.5 1204.5 161.5)">Transitional</text>
<path d="M1319.2 176.2V166.6H1534.9V176.2" fill="none" stroke="#444" stroke-width="1.1"/>
<text x="1384" y="161.5" font-size="23.8" font-weight="bold" stroke="#1a1a1a" stroke-width="0.35" stroke-linejoin="round" transform="rotate(-28.5 1384 161.5)">ABC/DN2</text>
<path d="M1551.2 176.2V166.6H1667.5V176.2" fill="none" stroke="#444" stroke-width="1.1"/>
<text x="1595.5" y="155.5" font-size="23.8" font-weight="bold" stroke="#1a1a1a" stroke-width="0.35" stroke-linejoin="round" transform="rotate(-28.5 1595.5 155.5)">Igs</text>
<path d="M1683.7 176.2V166.6H1866.3V176.2" fill="none" stroke="#444" stroke-width="1.1"/>
<text x="1742.5" y="160" font-size="23.8" font-weight="bold" stroke="#1a1a1a" stroke-width="0.35" stroke-linejoin="round" transform="rotate(-28.5 1742.5 160)">ISGs</text>
<path d="M1882.5 176.2V166.6H1965.7V176.2" fill="none" stroke="#444" stroke-width="1.1"/>
<text x="1909.5" y="157.5" font-size="23.8" font-weight="bold" stroke="#1a1a1a" stroke-width="0.35" stroke-linejoin="round" transform="rotate(-28.5 1909.5 157.5)">Others</text>
<text x="951" y="199.7" font-size="20.5" text-anchor="end" textLength="66.5" lengthAdjust="spacingAndGlyphs">B_SC1</text>
<line x1="977" y1="192.1" x2="981.6" y2="192.1" stroke="#333" stroke-width="1"/>
<circle cx="967.8" cy="192.1" r="9.6" fill="#B5E2E4" stroke="#1a1a1a" stroke-width="1"/>
<text x="951" y="231.4" font-size="20.5" text-anchor="end" textLength="66.5" lengthAdjust="spacingAndGlyphs">B_SC3</text>
<line x1="977" y1="223.8" x2="981.6" y2="223.8" stroke="#333" stroke-width="1"/>
<circle cx="967.8" cy="223.8" r="9.6" fill="#3DB56E" stroke="#1a1a1a" stroke-width="1"/>
<text x="951" y="263.2" font-size="20.5" text-anchor="end" textLength="66.5" lengthAdjust="spacingAndGlyphs">B_SC4</text>
<line x1="977" y1="255.6" x2="981.6" y2="255.6" stroke="#333" stroke-width="1"/>
<circle cx="967.8" cy="255.6" r="9.6" fill="#8A6FB6" stroke="#1a1a1a" stroke-width="1"/>
<text x="951" y="295" font-size="20.5" text-anchor="end" textLength="66.5" lengthAdjust="spacingAndGlyphs">B_SC0</text>
<line x1="977" y1="287.4" x2="981.6" y2="287.4" stroke="#333" stroke-width="1"/>
<circle cx="967.8" cy="287.4" r="9.6" fill="#ED1C24" stroke="#1a1a1a" stroke-width="1"/>
<text x="953" y="326.7" font-size="20.5" text-anchor="end" textLength="66.5" lengthAdjust="spacingAndGlyphs">B_SC2</text>
<line x1="977" y1="319.1" x2="981.6" y2="319.1" stroke="#333" stroke-width="1"/>
<circle cx="967.8" cy="319.1" r="9.6" fill="#6E92CE" stroke="#1a1a1a" stroke-width="1"/>
<path d="M1976.4 192.1H1980.4V223.8H1976.4M1976.4 287.4H1982.6V319.1H1976.4M1976.4 255.6H1988.2V303.2H1982.6M1980.4 208H1994.3V279.4H1988.2" fill="none" stroke="#8A8A8A" stroke-width="1.1"/>
<rect x="1832.5" y="56.3" width="132" height="10" fill="url(#bwr)" stroke="#1a1a1a" stroke-width="1.1"/>
<text x="1894.5" y="15" font-size="19.8" text-anchor="middle" textLength="147.5" lengthAdjust="spacingAndGlyphs">Mean expression</text>
<text x="1904.5" y="37.7" font-size="19.8" text-anchor="middle" textLength="70" lengthAdjust="spacingAndGlyphs">in group</text>
<text x="1837.5" y="89.5" font-size="20" text-anchor="middle">0</text>
<text x="1958.5" y="85.8" font-size="20" text-anchor="middle">1</text>
</g>
<g id="panel-c">
<rect x="109.1" y="528.6" width="268.7" height="45.4" fill="#BFBFBF" stroke="#2a2a2a" stroke-width="1.4"/>
<rect x="109.1" y="574" width="268.7" height="467.7" fill="#fff" stroke="#2a2a2a" stroke-width="1.4"/>
<text x="161.4" y="562.2" font-size="27.4" textLength="163.6" lengthAdjust="spacingAndGlyphs">B<tspan dy="-2">_</tspan><tspan dy="2">cells</tspan><tspan dy="-2">_</tspan><tspan dy="2">SC0</tspan></text>
<circle cx="355" cy="552.3" r="17.2" fill="#ED1C24" stroke="#1a1a1a" stroke-width="1"/>
<text x="98.6" y="674.3" font-size="27" text-anchor="end" font-weight="bold" stroke="#1a1a1a" stroke-width="0.35" stroke-linejoin="round">100</text>
<text x="98.6" y="761.9" font-size="27" text-anchor="end" font-weight="bold" stroke="#1a1a1a" stroke-width="0.35" stroke-linejoin="round">75</text>
<text x="98.6" y="849.6" font-size="27" text-anchor="end" font-weight="bold" stroke="#1a1a1a" stroke-width="0.35" stroke-linejoin="round">50</text>
<text x="98.6" y="937.3" font-size="27" text-anchor="end" font-weight="bold" stroke="#1a1a1a" stroke-width="0.35" stroke-linejoin="round">25</text>
<text x="98.6" y="1025" font-size="27" text-anchor="end" font-weight="bold" stroke="#1a1a1a" stroke-width="0.35" stroke-linejoin="round">0</text>
<path d="M109.1 664.7h-5.6M109.1 752.3h-5.6M109.1 840h-5.6M109.1 927.7h-5.6M109.1 1015.4h-5.6M147.1 1041.7v6M211.1 1041.7v6M275.1 1041.7v6M339.1 1041.7v6" fill="none" stroke="#333" stroke-width="1.1"/>
<g clip-path="url(#clip_c1)">
<line x1="147.1" y1="690.1" x2="147.1" y2="826.6" stroke="#333" stroke-width="1.1"/>
<rect x="140.5" y="725.9" width="13.2" height="42.8" fill="#6ABF69" stroke="#555" stroke-width="1"/>
<line x1="211.1" y1="704.5" x2="211.1" y2="1005.5" stroke="#333" stroke-width="1.1"/>
<rect x="204.5" y="738.2" width="13.2" height="103.5" fill="#DADAEB" stroke="#555" stroke-width="1"/>
<line x1="204.5" y1="778.7" x2="217.7" y2="778.7" stroke="#555" stroke-width="1"/>
<line x1="275.1" y1="835" x2="275.1" y2="1011" stroke="#333" stroke-width="1.1"/>
<rect x="268.5" y="894.6" width="13.2" height="116.6" fill="#9E9AC8" stroke="#555" stroke-width="1"/>
<line x1="339.1" y1="896.2" x2="339.1" y2="1016" stroke="#333" stroke-width="1.1"/>
<rect x="332.5" y="896.2" width="13.2" height="104.1" fill="#54278F" stroke="#555" stroke-width="1"/>
<path d="M147.1 690.1h0M147.1 709h0M130.6 723.3h0M141.6 723.3h0M152.6 723.3h0M163.6 723.3h0M130.6 753.8h0M141.6 753.8h0M152.6 753.8h0M163.6 753.8h0M147.1 772.2h0M147.1 826.6h0M147.1 901h0M147.1 913h0M211.1 704.5h0M205.6 725h0M216.6 725h0M205.6 765.3h0M216.6 765.3h0M211.1 792.7h0M211.1 829.7h0M211.1 846.6h0M211.1 988.6h0M211.1 1005.5h0M275.1 835h0M275.1 856.2h0M275.1 888h0M275.1 901.6h0M275.1 952h0M275.1 984.3h0M253.1 1011h0M264.1 1011h0M275.1 1011h0M286.1 1011h0M297.1 1011h0M333.6 896.2h0M344.6 896.2h0M339.1 961.9h0M339.1 1000.3h0M339.1 1016h0" fill="none" stroke="#000" stroke-width="12" stroke-linecap="round"/>
</g>
<path d="M147.1 605.5V595.5H339.1V605.5" fill="none" stroke="#1a1a1a" stroke-width="1.1"/>
<text x="239.3" y="590" font-size="17.4" text-anchor="middle">p=0.00023</text>
<path d="M147.1 644.5V634.5H275.1V644.5" fill="none" stroke="#1a1a1a" stroke-width="1.1"/>
<text x="209.2" y="627.5" font-size="17.4" text-anchor="middle">p=1e–06</text>
<path d="M147.1 683.4V673.4H211.1V683.4" fill="none" stroke="#1a1a1a" stroke-width="1.1"/>
<text x="180.3" y="669.6" font-size="17.4" text-anchor="middle">ns</text>
<text x="139.1" y="1089.7" font-size="28.3" text-anchor="middle" font-weight="bold" stroke="#1a1a1a" stroke-width="0.35" stroke-linejoin="round" transform="rotate(-30 139.1 1089.7)">pHC</text>
<text x="208.1" y="1084.2" font-size="28.3" text-anchor="middle" font-weight="bold" stroke="#1a1a1a" stroke-width="0.35" stroke-linejoin="round" transform="rotate(-30 208.1 1084.2)">G1</text>
<text x="272.1" y="1079.7" font-size="28.3" text-anchor="middle" font-weight="bold" stroke="#1a1a1a" stroke-width="0.35" stroke-linejoin="round" transform="rotate(-30 272.1 1079.7)">G2</text>
<text x="332.6" y="1078.2" font-size="28.3" text-anchor="middle" font-weight="bold" stroke="#1a1a1a" stroke-width="0.35" stroke-linejoin="round" transform="rotate(-30 332.6 1078.2)">G3</text>
<rect x="430.5" y="528.6" width="268.2" height="45.4" fill="#BFBFBF" stroke="#2a2a2a" stroke-width="1.4"/>
<rect x="430.5" y="574" width="268.2" height="467.7" fill="#fff" stroke="#2a2a2a" stroke-width="1.4"/>
<text x="483.2" y="562.5" font-size="27.4" textLength="160.8" lengthAdjust="spacingAndGlyphs">B<tspan dy="-2">_</tspan><tspan dy="2">cells</tspan><tspan dy="-2">_</tspan><tspan dy="2">SC1</tspan></text>
<circle cx="677.4" cy="552.6" r="17.2" fill="#B5E2E4" stroke="#1a1a1a" stroke-width="1"/>
<text x="420" y="691.6" font-size="27" text-anchor="end" font-weight="bold" stroke="#1a1a1a" stroke-width="0.35" stroke-linejoin="round">75</text>
<text x="420" y="803" font-size="27" text-anchor="end" font-weight="bold" stroke="#1a1a1a" stroke-width="0.35" stroke-linejoin="round">50</text>
<text x="420" y="914.5" font-size="27" text-anchor="end" font-weight="bold" stroke="#1a1a1a" stroke-width="0.35" stroke-linejoin="round">25</text>
<text x="420" y="1026" font-size="27" text-anchor="end" font-weight="bold" stroke="#1a1a1a" stroke-width="0.35" stroke-linejoin="round">0</text>
<path d="M430.5 682h-5.6M430.5 793.4h-5.6M430.5 904.9h-5.6M430.5 1016.4h-5.6M468.7 1041.7v6M532.6 1041.7v6M596.6 1041.7v6M660.5 1041.7v6" fill="none" stroke="#333" stroke-width="1.1"/>
<g clip-path="url(#clip_c2)">
<rect x="462.1" y="1005.5" width="13.2" height="6.9" fill="#6ABF69" stroke="#555" stroke-width="1"/>
<line x1="532.6" y1="904" x2="532.6" y2="1015" stroke="#333" stroke-width="1.1"/>
<rect x="526" y="968.5" width="13.2" height="46.8" fill="#DADAEB" stroke="#555" stroke-width="1"/>
<line x1="526" y1="997.5" x2="539.2" y2="997.5" stroke="#555" stroke-width="1"/>
<line x1="596.6" y1="690.2" x2="596.6" y2="991.9" stroke="#333" stroke-width="1.1"/>
<rect x="590" y="740.3" width="13.2" height="202" fill="#9E9AC8" stroke="#555" stroke-width="1"/>
<line x1="660.5" y1="876.1" x2="660.5" y2="930.4" stroke="#333" stroke-width="1.1"/>
<rect x="653.9" y="876.1" width="13.2" height="39.4" fill="#54278F" stroke="#555" stroke-width="1"/>
<path d="M397.8 1012.4h0M408.8 1012.4h0M419.6 1012.4h0M430.6 1012.4h0M441.4 1012.4h0M452.3 1012.4h0M463.2 1012.4h0M474.1 1012.4h0M485.1 1012.4h0M495.9 1012.4h0M506.8 1012.4h0M517.8 1012.4h0M528.6 1012.4h0M539.5 1012.4h0M532.6 834.7h0M532.6 904h0M532.6 964.3h0M527.1 981.2h0M538.1 981.2h0M510.6 1016.2h0M521.6 1016.2h0M532.6 1016.2h0M543.6 1016.2h0M554.6 1016.2h0M596.6 690.2h0M596.6 704.7h0M585.6 740.3h0M596.6 740.3h0M607.6 740.3h0M596.6 876.8h0M596.6 892.8h0M596.6 914h0M591.1 972.1h0M602.1 972.1h0M596.6 991.9h0M660.5 790h0M660.5 876.1h0M660.5 893.9h0M660.5 915.5h0M660.5 930.4h0" fill="none" stroke="#000" stroke-width="12" stroke-linecap="round"/>
</g>
<path d="M468.7 605.5V595.5H660.5V605.5" fill="none" stroke="#1a1a1a" stroke-width="1.1"/>
<text x="561.9" y="591.4" font-size="17.4" text-anchor="middle">p=0.0057</text>
<path d="M468.7 644.5V634.5H596.6V644.5" fill="none" stroke="#1a1a1a" stroke-width="1.1"/>
<text x="532.5" y="627" font-size="17.4" text-anchor="middle">p=0.00059</text>
<path d="M468.7 683.4V673.4H532.6V683.4" fill="none" stroke="#1a1a1a" stroke-width="1.1"/>
<text x="498.6" y="669.6" font-size="17.4" text-anchor="middle">ns</text>
<text x="460.5" y="1089.7" font-size="28.3" text-anchor="middle" font-weight="bold" stroke="#1a1a1a" stroke-width="0.35" stroke-linejoin="round" transform="rotate(-30 460.5 1089.7)">pHC</text>
<text x="529.5" y="1084.2" font-size="28.3" text-anchor="middle" font-weight="bold" stroke="#1a1a1a" stroke-width="0.35" stroke-linejoin="round" transform="rotate(-30 529.5 1084.2)">G1</text>
<text x="593.5" y="1079.7" font-size="28.3" text-anchor="middle" font-weight="bold" stroke="#1a1a1a" stroke-width="0.35" stroke-linejoin="round" transform="rotate(-30 593.5 1079.7)">G2</text>
<text x="654" y="1078.2" font-size="28.3" text-anchor="middle" font-weight="bold" stroke="#1a1a1a" stroke-width="0.35" stroke-linejoin="round" transform="rotate(-30 654 1078.2)">G3</text>
<rect x="752.7" y="528.6" width="268.2" height="45.4" fill="#BFBFBF" stroke="#2a2a2a" stroke-width="1.4"/>
<rect x="752.7" y="574" width="268.2" height="467.7" fill="#fff" stroke="#2a2a2a" stroke-width="1.4"/>
<text x="792" y="561.2" font-size="27.4" textLength="164.3" lengthAdjust="spacingAndGlyphs">B<tspan dy="-2">_</tspan><tspan dy="2">cells</tspan><tspan dy="-2">_</tspan><tspan dy="2">SC2</tspan></text>
<circle cx="997.9" cy="551.8" r="17.2" fill="#6E92CE" stroke="#1a1a1a" stroke-width="1"/>
<text x="742.2" y="684.2" font-size="27" text-anchor="end" font-weight="bold" stroke="#1a1a1a" stroke-width="0.35" stroke-linejoin="round">75</text>
<text x="742.2" y="799.6" font-size="27" text-anchor="end" font-weight="bold" stroke="#1a1a1a" stroke-width="0.35" stroke-linejoin="round">50</text>
<text x="742.2" y="914.7" font-size="27" text-anchor="end" font-weight="bold" stroke="#1a1a1a" stroke-width="0.35" stroke-linejoin="round">25</text>
<text x="742.2" y="1029.8" font-size="27" text-anchor="end" font-weight="bold" stroke="#1a1a1a" stroke-width="0.35" stroke-linejoin="round">0</text>
<path d="M752.7 674.6h-5.6M752.7 790h-5.6M752.7 905.1h-5.6M752.7 1020.2h-5.6M790.8 1041.7v6M854.7 1041.7v6M918.6 1041.7v6M982.5 1041.7v6" fill="none" stroke="#333" stroke-width="1.1"/>
<g clip-path="url(#clip_c3)">
<rect x="784.2" y="1008.5" width="13.2" height="6.8" fill="#6ABF69" stroke="#555" stroke-width="1"/>
<line x1="854.7" y1="985.9" x2="854.7" y2="1015" stroke="#333" stroke-width="1.1"/>
<rect x="848.1" y="988.5" width="13.2" height="21.2" fill="#DADAEB" stroke="#555" stroke-width="1"/>
<line x1="918.6" y1="859.4" x2="918.6" y2="1005" stroke="#333" stroke-width="1.1"/>
<rect x="912" y="859.4" width="13.2" height="72.6" fill="#9E9AC8" stroke="#555" stroke-width="1"/>
<line x1="982.5" y1="713.2" x2="982.5" y2="991" stroke="#333" stroke-width="1.1"/>
<rect x="975.9" y="713.2" width="13.2" height="156.2" fill="#54278F" stroke="#555" stroke-width="1"/>
<path d="M720 1015.3h0M730.9 1015.3h0M741.8 1015.3h0M752.7 1015.3h0M763.6 1015.3h0M774.5 1015.3h0M785.4 1015.3h0M796.3 1015.3h0M807.2 1015.3h0M818.1 1015.3h0M829 1015.3h0M839.9 1015.3h0M850.8 1015.3h0M861.7 1015.3h0M854.7 690.9h0M854.7 935.1h0M854.7 985.9h0M849.2 1000.8h0M860.2 1000.8h0M832.7 1015.9h0M843.7 1015.9h0M854.7 1015.9h0M865.7 1015.9h0M876.7 1015.9h0M918.6 712.7h0M918.6 739.6h0M907.6 859.4h0M918.6 859.4h0M929.6 859.4h0M918.6 894.2h0M913.1 911.5h0M924.1 911.5h0M918.6 948h0M918.6 963.2h0M918.6 1005h0M977 713.2h0M988 713.2h0M982.5 731.4h0M982.5 869.4h0M982.5 991h0" fill="none" stroke="#000" stroke-width="12" stroke-linecap="round"/>
</g>
<path d="M790.8 605.5V595.5H982.5V605.5" fill="none" stroke="#1a1a1a" stroke-width="1.1"/>
<text x="885.4" y="591.2" font-size="17.4" text-anchor="middle">p=0.018</text>
<path d="M790.8 644.5V634.5H918.6V644.5" fill="none" stroke="#1a1a1a" stroke-width="1.1"/>
<text x="856.3" y="630.1" font-size="17.4" text-anchor="middle">p=0.00044</text>
<path d="M790.8 683.4V673.4H854.7V683.4" fill="none" stroke="#1a1a1a" stroke-width="1.1"/>
<text x="826.4" y="669.6" font-size="17.4" text-anchor="middle">ns</text>
<text x="777.7" y="1089.7" font-size="28.3" text-anchor="middle" font-weight="bold" stroke="#1a1a1a" stroke-width="0.35" stroke-linejoin="round" transform="rotate(-30 777.7 1089.7)">pHC</text>
<text x="846.7" y="1084.2" font-size="28.3" text-anchor="middle" font-weight="bold" stroke="#1a1a1a" stroke-width="0.35" stroke-linejoin="round" transform="rotate(-30 846.7 1084.2)">G1</text>
<text x="910.7" y="1079.7" font-size="28.3" text-anchor="middle" font-weight="bold" stroke="#1a1a1a" stroke-width="0.35" stroke-linejoin="round" transform="rotate(-30 910.7 1079.7)">G2</text>
<text x="971.2" y="1078.2" font-size="28.3" text-anchor="middle" font-weight="bold" stroke="#1a1a1a" stroke-width="0.35" stroke-linejoin="round" transform="rotate(-30 971.2 1078.2)">G3</text>
<rect x="1074.4" y="528.6" width="268.2" height="45.4" fill="#BFBFBF" stroke="#2a2a2a" stroke-width="1.4"/>
<rect x="1074.4" y="574" width="268.2" height="467.7" fill="#fff" stroke="#2a2a2a" stroke-width="1.4"/>
<text x="1115.8" y="557.6" font-size="27.4" textLength="164.3" lengthAdjust="spacingAndGlyphs">B<tspan dy="-2">_</tspan><tspan dy="2">cells</tspan><tspan dy="-2">_</tspan><tspan dy="2">SC3</tspan></text>
<circle cx="1320.5" cy="551.8" r="17.2" fill="#3DB56E" stroke="#1a1a1a" stroke-width="1"/>
<text x="1063.9" y="585.2" font-size="27" text-anchor="end" font-weight="bold" stroke="#1a1a1a" stroke-width="0.35" stroke-linejoin="round">80</text>
<text x="1063.9" y="695.6" font-size="27" text-anchor="end" font-weight="bold" stroke="#1a1a1a" stroke-width="0.35" stroke-linejoin="round">60</text>
<text x="1063.9" y="806" font-size="27" text-anchor="end" font-weight="bold" stroke="#1a1a1a" stroke-width="0.35" stroke-linejoin="round">40</text>
<text x="1063.9" y="916.2" font-size="27" text-anchor="end" font-weight="bold" stroke="#1a1a1a" stroke-width="0.35" stroke-linejoin="round">20</text>
<text x="1063.9" y="1026" font-size="27" text-anchor="end" font-weight="bold" stroke="#1a1a1a" stroke-width="0.35" stroke-linejoin="round">0</text>
<path d="M1074.4 575.6h-5.6M1074.4 686h-5.6M1074.4 796.4h-5.6M1074.4 906.6h-5.6M1074.4 1016.4h-5.6M1112.6 1041.7v6M1176.5 1041.7v6M1240.4 1041.7v6M1304.3 1041.7v6" fill="none" stroke="#333" stroke-width="1.1"/>
<g clip-path="url(#clip_c4)">
<line x1="1112.6" y1="781.1" x2="1112.6" y2="993" stroke="#333" stroke-width="1.1"/>
<rect x="1106" y="867" width="13.2" height="92.6" fill="#6ABF69" stroke="#555" stroke-width="1"/>
<line x1="1176.5" y1="850.1" x2="1176.5" y2="1015.7" stroke="#333" stroke-width="1.1"/>
<rect x="1169.9" y="869.4" width="13.2" height="104.7" fill="#DADAEB" stroke="#555" stroke-width="1"/>
<line x1="1169.9" y1="951.8" x2="1183.1" y2="951.8" stroke="#555" stroke-width="1"/>
<line x1="1240.4" y1="850.1" x2="1240.4" y2="1009" stroke="#333" stroke-width="1.1"/>
<rect x="1233.8" y="932.4" width="13.2" height="76.9" fill="#9E9AC8" stroke="#555" stroke-width="1"/>
<rect x="1297.7" y="1001.5" width="13.2" height="10.9" fill="#54278F" stroke="#555" stroke-width="1"/>
<path d="M1112.6 690.2h0M1112.6 781.1h0M1112.6 799.3h0M1112.6 859.9h0M1112.6 889.9h0M1112.6 901.7h0M1107.1 913.3h0M1118.1 913.3h0M1112.6 927.3h0M1112.6 942.9h0M1112.6 965.6h0M1107.1 981.4h0M1118.1 981.4h0M1112.6 993h0M1171 850.1h0M1182 850.1h0M1176.5 865.4h0M1176.5 881.7h0M1176.5 946.3h0M1171 960.7h0M1182 960.7h0M1176.5 977.9h0M1176.5 1001.2h0M1176.5 1015.7h0M1240.4 800.9h0M1240.4 850.1h0M1240.4 896.2h0M1240.4 969.6h0M1234.9 997h0M1245.9 997h0M1218.4 1009.3h0M1229.4 1009.3h0M1240.4 1009.3h0M1251.4 1009.3h0M1262.4 1009.3h0M1304.3 970.7h0M1298.8 1001.5h0M1309.8 1001.5h0M1298.8 1012.4h0M1309.8 1012.4h0" fill="none" stroke="#000" stroke-width="12" stroke-linecap="round"/>
</g>
<path d="M1112.6 605.5V595.5H1304.3V605.5" fill="none" stroke="#1a1a1a" stroke-width="1.1"/>
<text x="1211" y="591.2" font-size="17.4" text-anchor="middle">p=0.00071</text>
<path d="M1112.6 644.5V634.5H1240.4V644.5" fill="none" stroke="#1a1a1a" stroke-width="1.1"/>
<text x="1174.5" y="629.7" font-size="17.4" text-anchor="middle">ns</text>
<path d="M1112.6 683.4V673.4H1176.5V683.4" fill="none" stroke="#1a1a1a" stroke-width="1.1"/>
<text x="1142.4" y="669.6" font-size="17.4" text-anchor="middle">ns</text>
<text x="1099.9" y="1089.7" font-size="28.3" text-anchor="middle" font-weight="bold" stroke="#1a1a1a" stroke-width="0.35" stroke-linejoin="round" transform="rotate(-30 1099.9 1089.7)">pHC</text>
<text x="1168.9" y="1084.2" font-size="28.3" text-anchor="middle" font-weight="bold" stroke="#1a1a1a" stroke-width="0.35" stroke-linejoin="round" transform="rotate(-30 1168.9 1084.2)">G1</text>
<text x="1232.9" y="1079.7" font-size="28.3" text-anchor="middle" font-weight="bold" stroke="#1a1a1a" stroke-width="0.35" stroke-linejoin="round" transform="rotate(-30 1232.9 1079.7)">G2</text>
<text x="1293.4" y="1078.2" font-size="28.3" text-anchor="middle" font-weight="bold" stroke="#1a1a1a" stroke-width="0.35" stroke-linejoin="round" transform="rotate(-30 1293.4 1078.2)">G3</text>
<rect x="1396.5" y="528.6" width="268.2" height="45.4" fill="#BFBFBF" stroke="#2a2a2a" stroke-width="1.4"/>
<rect x="1396.5" y="574" width="268.2" height="467.7" fill="#fff" stroke="#2a2a2a" stroke-width="1.4"/>
<text x="1440.3" y="559.8" font-size="27.4" textLength="163.5" lengthAdjust="spacingAndGlyphs">B<tspan dy="-2">_</tspan><tspan dy="2">cells</tspan><tspan dy="-2">_</tspan><tspan dy="2">SC4</tspan></text>
<circle cx="1642.5" cy="551.8" r="17.2" fill="#8A6FB6" stroke="#1a1a1a" stroke-width="1"/>
<text x="1386" y="699.4" font-size="27" text-anchor="end" font-weight="bold" stroke="#1a1a1a" stroke-width="0.35" stroke-linejoin="round">20</text>
<text x="1386" y="862.1" font-size="27" text-anchor="end" font-weight="bold" stroke="#1a1a1a" stroke-width="0.35" stroke-linejoin="round">10</text>
<text x="1386" y="1024.9" font-size="27" text-anchor="end" font-weight="bold" stroke="#1a1a1a" stroke-width="0.35" stroke-linejoin="round">0</text>
<path d="M1396.5 689.8h-5.6M1396.5 852.5h-5.6M1396.5 1015.3h-5.6M1434.6 1041.7v6M1498.5 1041.7v6M1562.4 1041.7v6M1626.3 1041.7v6" fill="none" stroke="#333" stroke-width="1.1"/>
<g clip-path="url(#clip_c5)">
<line x1="1434.6" y1="876.1" x2="1434.6" y2="999.2" stroke="#333" stroke-width="1.1"/>
<rect x="1428" y="906.2" width="13.2" height="75.7" fill="#6ABF69" stroke="#555" stroke-width="1"/>
<line x1="1498.5" y1="822.7" x2="1498.5" y2="1015.7" stroke="#333" stroke-width="1.1"/>
<rect x="1491.9" y="886.6" width="13.2" height="65.7" fill="#DADAEB" stroke="#555" stroke-width="1"/>
<rect x="1555.8" y="1000" width="13.2" height="8.1" fill="#9E9AC8" stroke="#555" stroke-width="1"/>
<rect x="1619.7" y="998" width="13.2" height="12" fill="#54278F" stroke="#555" stroke-width="1"/>
<path d="M1434.6 689.8h0M1429.1 876.1h0M1440.1 876.1h0M1434.6 900.6h0M1434.6 924h0M1434.6 938.9h0M1429.1 970.7h0M1440.1 970.7h0M1423.6 984.5h0M1434.6 984.5h0M1445.6 984.5h0M1423.6 999.2h0M1434.6 999.2h0M1445.6 999.2h0M1498.5 745.9h0M1498.5 822.7h0M1498.5 876.3h0M1498.5 920h0M1487.5 928.9h0M1498.5 928.9h0M1509.5 928.9h0M1498.5 959.2h0M1498.5 975.2h0M1498.5 1015.7h0M1562.4 947.4h0M1562.4 983.4h0M1562.4 997.5h0M1524.2 1008.1h0M1535.1 1008.1h0M1546 1008.1h0M1556.9 1008.1h0M1567.8 1008.1h0M1578.7 1008.1h0M1589.6 1008.1h0M1600.5 1008.1h0M1626.3 916.2h0M1620.8 997h0M1631.8 997h0M1620.8 1010.8h0M1631.8 1010.8h0" fill="none" stroke="#000" stroke-width="12" stroke-linecap="round"/>
</g>
<path d="M1434.6 605.5V595.5H1626.3V605.5" fill="none" stroke="#1a1a1a" stroke-width="1.1"/>
<text x="1518.5" y="590.7" font-size="17.4" text-anchor="middle">ns</text>
<path d="M1434.6 644.5V634.5H1562.4V644.5" fill="none" stroke="#1a1a1a" stroke-width="1.1"/>
<text x="1496.3" y="625.7" font-size="17.4" text-anchor="middle">p=0.014</text>
<path d="M1434.6 683.4V673.4H1498.5V683.4" fill="none" stroke="#1a1a1a" stroke-width="1.1"/>
<text x="1467.3" y="668.4" font-size="17.4" text-anchor="middle">ns</text>
<text x="1423.5" y="1089.7" font-size="28.3" text-anchor="middle" font-weight="bold" stroke="#1a1a1a" stroke-width="0.35" stroke-linejoin="round" transform="rotate(-30 1423.5 1089.7)">pHC</text>
<text x="1492.5" y="1084.2" font-size="28.3" text-anchor="middle" font-weight="bold" stroke="#1a1a1a" stroke-width="0.35" stroke-linejoin="round" transform="rotate(-30 1492.5 1084.2)">G1</text>
<text x="1556.5" y="1079.7" font-size="28.3" text-anchor="middle" font-weight="bold" stroke="#1a1a1a" stroke-width="0.35" stroke-linejoin="round" transform="rotate(-30 1556.5 1079.7)">G2</text>
<text x="1617" y="1078.2" font-size="28.3" text-anchor="middle" font-weight="bold" stroke="#1a1a1a" stroke-width="0.35" stroke-linejoin="round" transform="rotate(-30 1617 1078.2)">G3</text>
<rect x="1726.3" y="528.6" width="268.2" height="45.4" fill="#BFBFBF" stroke="#2a2a2a" stroke-width="1.4"/>
<rect x="1726.3" y="574" width="268.2" height="467.7" fill="#fff" stroke="#2a2a2a" stroke-width="1.4"/>
<text x="1844.8" y="561.2" font-size="27.4" textLength="30.4" lengthAdjust="spacingAndGlyphs">All</text>
<text x="1715.8" y="673.1" font-size="27" text-anchor="end" font-weight="bold" stroke="#1a1a1a" stroke-width="0.35" stroke-linejoin="round">7.5</text>
<text x="1715.8" y="794" font-size="27" text-anchor="end" font-weight="bold" stroke="#1a1a1a" stroke-width="0.35" stroke-linejoin="round">5.0</text>
<text x="1715.8" y="914.9" font-size="27" text-anchor="end" font-weight="bold" stroke="#1a1a1a" stroke-width="0.35" stroke-linejoin="round">2.5</text>
<text x="1715.8" y="1035.8" font-size="27" text-anchor="end" font-weight="bold" stroke="#1a1a1a" stroke-width="0.35" stroke-linejoin="round">0</text>
<path d="M1726.3 663.5h-5.6M1726.3 784.4h-5.6M1726.3 905.3h-5.6M1726.3 1026.2h-5.6M1764.5 1041.7v6M1828.4 1041.7v6M1892.3 1041.7v6M1956.2 1041.7v6" fill="none" stroke="#333" stroke-width="1.1"/>
<g clip-path="url(#clip_c6)">
<line x1="1764.5" y1="849.9" x2="1764.5" y2="987" stroke="#333" stroke-width="1.1"/>
<rect x="1757.9" y="870.6" width="13.2" height="86.8" fill="#6ABF69" stroke="#555" stroke-width="1"/>
<line x1="1828.4" y1="739.2" x2="1828.4" y2="952" stroke="#333" stroke-width="1.1"/>
<rect x="1821.8" y="842.1" width="13.2" height="84.1" fill="#DADAEB" stroke="#555" stroke-width="1"/>
<line x1="1821.8" y1="905" x2="1835" y2="905" stroke="#555" stroke-width="1"/>
<line x1="1892.3" y1="802.2" x2="1892.3" y2="1015.3" stroke="#333" stroke-width="1.1"/>
<rect x="1885.7" y="856.5" width="13.2" height="116.9" fill="#9E9AC8" stroke="#555" stroke-width="1"/>
<line x1="1956.2" y1="940.2" x2="1956.2" y2="1015.7" stroke="#333" stroke-width="1.1"/>
<rect x="1949.6" y="940.2" width="13.2" height="48.8" fill="#54278F" stroke="#555" stroke-width="1"/>
<path d="M1764.5 689.8h0M1759 849.9h0M1770 849.9h0M1764.5 867.2h0M1759 885h0M1770 885h0M1764.5 922.2h0M1759 932.9h0M1770 932.9h0M1748 958.9h0M1759 958.9h0M1770 958.9h0M1781 958.9h0M1764.5 987h0M1828.4 713.6h0M1828.4 739.2h0M1828.4 826h0M1822.9 894.4h0M1833.9 894.4h0M1828.4 914h0M1817.4 928h0M1828.4 928h0M1839.4 928h0M1828.4 952h0M1892.3 802.2h0M1892.3 821.6h0M1892.3 843.6h0M1886.8 871.7h0M1897.8 871.7h0M1892.3 927.3h0M1892.3 940.2h0M1881.3 973.4h0M1892.3 973.4h0M1903.3 973.4h0M1892.3 1015.3h0M1950.7 940.2h0M1961.7 940.2h0M1956.2 971.9h0M1956.2 989h0M1956.2 1015.7h0" fill="none" stroke="#000" stroke-width="12" stroke-linecap="round"/>
</g>
<path d="M1764.5 605.5V595.5H1956.2V605.5" fill="none" stroke="#1a1a1a" stroke-width="1.1"/>
<text x="1858.4" y="591.2" font-size="17.4" text-anchor="middle">p=0.015</text>
<path d="M1764.5 644.5V634.5H1892.3V644.5" fill="none" stroke="#1a1a1a" stroke-width="1.1"/>
<text x="1816.6" y="629.4" font-size="17.4" text-anchor="middle">ns</text>
<path d="M1764.5 683.4V673.4H1828.4V683.4" fill="none" stroke="#1a1a1a" stroke-width="1.1"/>
<text x="1794.5" y="668.4" font-size="17.4" text-anchor="middle">ns</text>
<text x="1753.3" y="1089.7" font-size="28.3" text-anchor="middle" font-weight="bold" stroke="#1a1a1a" stroke-width="0.35" stroke-linejoin="round" transform="rotate(-30 1753.3 1089.7)">pHC</text>
<text x="1822.3" y="1084.2" font-size="28.3" text-anchor="middle" font-weight="bold" stroke="#1a1a1a" stroke-width="0.35" stroke-linejoin="round" transform="rotate(-30 1822.3 1084.2)">G1</text>
<text x="1886.3" y="1079.7" font-size="28.3" text-anchor="middle" font-weight="bold" stroke="#1a1a1a" stroke-width="0.35" stroke-linejoin="round" transform="rotate(-30 1886.3 1079.7)">G2</text>
<text x="1946.8" y="1078.2" font-size="28.3" text-anchor="middle" font-weight="bold" stroke="#1a1a1a" stroke-width="0.35" stroke-linejoin="round" transform="rotate(-30 1946.8 1078.2)">G3</text>
<text x="46.5" y="811.5" font-size="26.5" text-anchor="middle" font-weight="bold" stroke="#1a1a1a" stroke-width="0.35" stroke-linejoin="round" transform="rotate(-90 46.5 811.5)">% of B cells</text>
</g>
<g id="panel-d">
<rect x="115.4" y="1241.4" width="1026" height="209.7" fill="#fff" stroke="#1a1a1a" stroke-width="1.2"/>
<path d="M118.9 1250.6h23.3v191.5h-23.3zM144.4 1250.6h23.3v191.5h-23.3zM169.9 1250.6h23.3v191.5h-23.3zM195.4 1250.6h23.3v191.5h-23.3zM221 1250.6h23.3v191.5h-23.3zM246.5 1250.6h23.3v191.5h-23.3zM272 1250.6h23.3v191.5h-23.3zM297.5 1250.6h23.3v191.5h-23.3zM323 1250.6h23.3v191.5h-23.3zM348.5 1250.6h23.3v191.5h-23.3zM374.1 1250.6h23.3v191.5h-23.3zM399.6 1250.6h23.3v191.5h-23.3zM425.1 1250.6h23.3v191.5h-23.3zM450.6 1250.6h23.3v191.5h-23.3zM476.1 1250.6h23.3v191.5h-23.3zM501.6 1250.6h23.3v191.5h-23.3zM527.1 1250.6h23.3v191.5h-23.3zM552.7 1250.6h23.3v191.5h-23.3zM578.2 1250.6h23.3v191.5h-23.3zM603.7 1250.6h23.3v191.5h-23.3zM629.2 1250.6h23.3v191.5h-23.3zM654.7 1250.6h23.3v191.5h-23.3zM680.2 1250.6h23.3v191.5h-23.3zM705.7 1250.6h23.3v191.5h-23.3zM731.3 1250.6h23.3v191.5h-23.3zM756.8 1250.6h23.3v191.5h-23.3zM782.3 1250.6h23.3v191.5h-23.3zM807.8 1250.6h23.3v191.5h-23.3zM833.3 1250.6h23.3v191.5h-23.3zM858.8 1250.6h23.3v191.5h-23.3zM884.4 1250.6h23.3v191.5h-23.3zM909.9 1250.6h23.3v191.5h-23.3zM935.4 1250.6h23.3v191.5h-23.3zM960.9 1250.6h23.3v191.5h-23.3zM986.4 1250.6h23.3v191.5h-23.3zM1011.9 1250.6h23.3v191.5h-23.3zM1037.4 1250.6h23.3v191.5h-23.3zM1063 1250.6h23.3v191.5h-23.3zM1088.5 1250.6h23.3v191.5h-23.3zM1114 1250.6h23.3v191.5h-23.3z" fill="none" stroke="#B4B4B4" stroke-width="2.1"/>
<path d="M118.9 1438.6h23.3v3.5h-23.3zM144.4 1437.9h23.3v4.2h-23.3zM169.9 1438.2h23.3v3.9h-23.3zM195.4 1436.5h23.3v5.6h-23.3zM221 1439.2h23.3v2.9h-23.3zM246.5 1439.2h23.3v2.9h-23.3zM272 1436.5h23.3v5.6h-23.3zM297.5 1440.2h23.3v1.9h-23.3zM323 1428.6h23.3v13.5h-23.3zM348.5 1426.1h23.3v16h-23.3zM374.1 1431.3h23.3v10.8h-23.3zM399.6 1433.4h23.3v8.7h-23.3zM425.1 1425.5h23.3v16.6h-23.3zM450.6 1403.7h23.3v38.4h-23.3zM476.1 1441.8h23.3v0.3h-23.3zM501.6 1437.1h23.3v5h-23.3zM527.1 1431.1h23.3v11h-23.3zM552.7 1419.3h23.3v22.8h-23.3zM578.2 1432.7h23.3v9.4h-23.3zM603.7 1426h23.3v16.1h-23.3zM629.2 1435.7h23.3v6.4h-23.3zM654.7 1410.6h23.3v31.5h-23.3zM680.2 1432.1h23.3v10h-23.3zM705.7 1431.7h23.3v10.4h-23.3zM731.3 1441.9h23.3v0.2h-23.3zM756.8 1441.8h23.3v0.3h-23.3zM782.3 1441.1h23.3v1h-23.3zM807.8 1438.4h23.3v3.7h-23.3zM833.3 1440.4h23.3v1.7h-23.3zM858.8 1434.4h23.3v7.7h-23.3zM884.4 1441.8h23.3v0.3h-23.3zM909.9 1441.1h23.3v1h-23.3zM935.4 1441.8h23.3v0.3h-23.3zM960.9 1441.8h23.3v0.3h-23.3zM986.4 1441.8h23.3v0.3h-23.3zM1011.9 1439.4h23.3v2.7h-23.3zM1037.4 1441.1h23.3v1h-23.3zM1063 1441.8h23.3v0.3h-23.3zM1088.5 1440.4h23.3v1.7h-23.3zM1114 1431.1h23.3v11h-23.3z" fill="#8A6FB4" stroke="#111" stroke-width="1"/>
<path d="M118.9 1399.1h23.3v39.5h-23.3zM144.4 1394.5h23.3v43.4h-23.3zM169.9 1430.3h23.3v7.9h-23.3zM195.4 1419.3h23.3v17.2h-23.3zM221 1414.3h23.3v24.9h-23.3zM246.5 1385.2h23.3v54h-23.3zM272 1400.6h23.3v35.9h-23.3zM297.5 1409.5h23.3v30.7h-23.3zM323 1416.3h23.3v12.3h-23.3zM348.5 1414.3h23.3v11.8h-23.3zM374.1 1355.9h23.3v75.4h-23.3zM399.6 1397.7h23.3v35.7h-23.3zM425.1 1312.3h23.3v113.2h-23.3zM450.6 1322.3h23.3v81.4h-23.3zM476.1 1441.4h23.3v0.3h-23.3zM501.6 1390.9h23.3v46.2h-23.3zM527.1 1372.5h23.3v58.6h-23.3zM552.7 1414.3h23.3v5h-23.3zM578.2 1407.6h23.3v25.1h-23.3zM603.7 1405.3h23.3v20.8h-23.3zM629.2 1421.7h23.3v14.1h-23.3zM654.7 1392.6h23.3v18.1h-23.3zM680.2 1374.5h23.3v57.6h-23.3zM705.7 1379.2h23.3v52.6h-23.3zM731.3 1437.1h23.3v5h-23.3zM756.8 1383.8h23.3v57.9h-23.3zM782.3 1398.9h23.3v42.2h-23.3zM807.8 1363.4h23.3v75h-23.3zM833.3 1423.7h23.3v16.7h-23.3zM858.8 1426.4h23.3v8h-23.3zM884.4 1435.4h23.3v6.4h-23.3zM909.9 1436.7h23.3v4.4h-23.3zM935.4 1440.4h23.3v1.3h-23.3zM960.9 1439.4h23.3v2.3h-23.3zM986.4 1437.7h23.3v4h-23.3zM1011.9 1438.8h23.3v0.7h-23.3zM1037.4 1437.1h23.3v4h-23.3zM1063 1438.4h23.3v3.3h-23.3zM1088.5 1424.4h23.3v16.1h-23.3zM1114 1423.7h23.3v7.4h-23.3z" fill="#3CB371" stroke="#111" stroke-width="1"/>
<path d="M118.9 1397.2h23.3v1.9h-23.3zM144.4 1392.9h23.3v1.7h-23.3zM169.9 1429.2h23.3v1h-23.3zM195.4 1418.4h23.3v0.8h-23.3zM221 1412.4h23.3v1.9h-23.3zM246.5 1384.4h23.3v0.8h-23.3zM272 1397h23.3v3.5h-23.3zM297.5 1408.7h23.3v0.8h-23.3zM323 1413.6h23.3v2.7h-23.3zM348.5 1412.8h23.3v1.5h-23.3zM374.1 1354.9h23.3v1h-23.3zM399.6 1395.4h23.3v2.3h-23.3zM425.1 1309.8h23.3v2.5h-23.3zM450.6 1319.1h23.3v3.1h-23.3zM476.1 1304.5h23.3v136.9h-23.3zM501.6 1388.9h23.3v2h-23.3zM527.1 1358.4h23.3v14.1h-23.3zM552.7 1412h23.3v2.3h-23.3zM578.2 1406.9h23.3v0.7h-23.3zM603.7 1395.2h23.3v10h-23.3zM629.2 1421h23.3v0.7h-23.3zM654.7 1388.2h23.3v4.4h-23.3zM680.2 1368.1h23.3v6.4h-23.3zM705.7 1343.7h23.3v35.5h-23.3zM731.3 1321.2h23.3v115.8h-23.3zM756.8 1331.3h23.3v52.6h-23.3zM782.3 1369.1h23.3v29.8h-23.3zM807.8 1356.7h23.3v6.7h-23.3zM833.3 1357.1h23.3v66.6h-23.3zM858.8 1402.6h23.3v23.8h-23.3zM884.4 1392.2h23.3v43.2h-23.3zM909.9 1389.2h23.3v47.5h-23.3zM935.4 1312.9h23.3v127.6h-23.3zM960.9 1370.8h23.3v68.6h-23.3zM986.4 1372.5h23.3v65.3h-23.3zM1011.9 1311.9h23.3v126.9h-23.3zM1037.4 1317.2h23.3v119.9h-23.3zM1063 1311.9h23.3v126.6h-23.3zM1088.5 1412h23.3v12.4h-23.3zM1114 1360.7h23.3v62.9h-23.3z" fill="#6E90CC" stroke="#111" stroke-width="1"/>
<path d="M118.9 1396h23.3v1.2h-23.3zM144.4 1391.4h23.3v1.5h-23.3zM169.9 1428.4h23.3v0.8h-23.3zM195.4 1417.8h23.3v0.6h-23.3zM221 1411.2h23.3v1.2h-23.3zM246.5 1383.7h23.3v0.6h-23.3zM272 1396h23.3v1h-23.3zM297.5 1408h23.3v0.6h-23.3zM323 1412h23.3v1.7h-23.3zM348.5 1411.8h23.3v1h-23.3zM374.1 1354h23.3v0.8h-23.3zM399.6 1393.7h23.3v1.7h-23.3zM425.1 1307.9h23.3v1.9h-23.3zM450.6 1316.2h23.3v2.9h-23.3zM476.1 1256.3h23.3v48.2h-23.3zM501.6 1387.5h23.3v1.3h-23.3zM527.1 1343.3h23.3v15.1h-23.3zM552.7 1411.3h23.3v0.7h-23.3zM578.2 1406.6h23.3v0.3h-23.3zM603.7 1372.5h23.3v22.8h-23.3zM629.2 1420.7h23.3v0.3h-23.3zM654.7 1387.2h23.3v1h-23.3zM680.2 1352h23.3v16.1h-23.3zM705.7 1265.7h23.3v78h-23.3zM731.3 1268h23.3v53.2h-23.3zM756.8 1320.2h23.3v11h-23.3zM782.3 1349.7h23.3v19.4h-23.3zM807.8 1337.6h23.3v19.1h-23.3zM833.3 1312.9h23.3v44.2h-23.3zM858.8 1285.4h23.3v117.2h-23.3zM884.4 1251.9h23.3v140.3h-23.3zM909.9 1255.3h23.3v133.9h-23.3zM935.4 1252.3h23.3v60.6h-23.3zM960.9 1251.3h23.3v119.5h-23.3zM986.4 1251.6h23.3v120.9h-23.3zM1011.9 1259.3h23.3v52.6h-23.3zM1037.4 1280.1h23.3v37.2h-23.3zM1063 1251.3h23.3v60.6h-23.3zM1088.5 1314.9h23.3v97.1h-23.3zM1114 1317.2h23.3v43.5h-23.3z" fill="#B5E1E3" stroke="#111" stroke-width="1"/>
<path d="M118.9 1250.6h23.3v145.4h-23.3zM144.4 1250.6h23.3v140.8h-23.3zM169.9 1250.6h23.3v177.8h-23.3zM195.4 1250.6h23.3v167.2h-23.3zM221 1250.6h23.3v160.6h-23.3zM246.5 1250.6h23.3v133.1h-23.3zM272 1250.6h23.3v145.4h-23.3zM297.5 1250.6h23.3v157.4h-23.3zM323 1250.6h23.3v161.4h-23.3zM348.5 1250.6h23.3v161.2h-23.3zM374.1 1250.6h23.3v103.4h-23.3zM399.6 1250.6h23.3v143.1h-23.3zM425.1 1250.6h23.3v57.3h-23.3zM450.6 1250.6h23.3v65.6h-23.3zM476.1 1250.6h23.3v5.7h-23.3zM501.6 1250.6h23.3v136.9h-23.3zM527.1 1250.6h23.3v92.7h-23.3zM552.7 1250.6h23.3v160.7h-23.3zM578.2 1250.6h23.3v156h-23.3zM603.7 1250.6h23.3v121.9h-23.3zM629.2 1250.6h23.3v170.1h-23.3zM654.7 1250.6h23.3v136.6h-23.3zM680.2 1250.6h23.3v101.4h-23.3zM705.7 1250.6h23.3v15.1h-23.3zM731.3 1250.6h23.3v17.4h-23.3zM756.8 1250.6h23.3v69.6h-23.3zM782.3 1250.6h23.3v99.1h-23.3zM807.8 1250.6h23.3v87h-23.3zM833.3 1250.6h23.3v62.3h-23.3zM858.8 1250.6h23.3v34.8h-23.3zM884.4 1250.6h23.3v1.3h-23.3zM909.9 1250.6h23.3v4.7h-23.3zM935.4 1250.6h23.3v1.7h-23.3zM960.9 1250.6h23.3v0.7h-23.3zM986.4 1250.6h23.3v1h-23.3zM1011.9 1250.6h23.3v8.7h-23.3zM1037.4 1250.6h23.3v29.5h-23.3zM1063 1250.6h23.3v0.7h-23.3zM1088.5 1250.6h23.3v64.3h-23.3zM1114 1250.6h23.3v66.6h-23.3z" fill="#F2644E" stroke="#111" stroke-width="1"/>
<text x="104" y="1451" font-size="24.6" text-anchor="end" font-weight="bold" stroke="#1a1a1a" stroke-width="0.35" stroke-linejoin="round">0</text>
<text x="104" y="1403.1" font-size="24.6" text-anchor="end" font-weight="bold" stroke="#1a1a1a" stroke-width="0.35" stroke-linejoin="round">25</text>
<text x="104" y="1355.2" font-size="24.6" text-anchor="end" font-weight="bold" stroke="#1a1a1a" stroke-width="0.35" stroke-linejoin="round">50</text>
<text x="104" y="1307.4" font-size="24.6" text-anchor="end" font-weight="bold" stroke="#1a1a1a" stroke-width="0.35" stroke-linejoin="round">75</text>
<text x="104" y="1259.5" font-size="24.6" text-anchor="end" font-weight="bold" stroke="#1a1a1a" stroke-width="0.35" stroke-linejoin="round">100</text>
<path d="M130.6 1451.1v6M156.1 1451.1v6M181.6 1451.1v6M207.1 1451.1v6M232.6 1451.1v6M258.1 1451.1v6M283.6 1451.1v6M309.2 1451.1v6M334.7 1451.1v6M360.2 1451.1v6M385.7 1451.1v6M411.2 1451.1v6M436.7 1451.1v6M462.2 1451.1v6M487.8 1451.1v6M513.3 1451.1v6M538.8 1451.1v6M564.3 1451.1v6M589.8 1451.1v6M615.3 1451.1v6M640.9 1451.1v6M666.4 1451.1v6M691.9 1451.1v6M717.4 1451.1v6M742.9 1451.1v6M768.4 1451.1v6M793.9 1451.1v6M819.5 1451.1v6M845 1451.1v6M870.5 1451.1v6M896 1451.1v6M921.5 1451.1v6M947 1451.1v6M972.5 1451.1v6M998.1 1451.1v6M1023.6 1451.1v6M1049.1 1451.1v6M1074.6 1451.1v6M1100.1 1451.1v6M1125.6 1451.1v6M115.4 1442.1h-5M115.4 1394.2h-5M115.4 1346.3h-5M115.4 1298.5h-5M115.4 1250.6h-5" fill="none" stroke="#333" stroke-width="1.1"/>
<text x="139.8" y="1512.6" font-size="25.4" text-anchor="middle" font-weight="bold" stroke="#63BE65" stroke-width="0.35" stroke-linejoin="round" fill="#63BE65" transform="rotate(-90 139.8 1512.6)" textLength="66.2" lengthAdjust="spacing">pHC1</text>
<text x="165.3" y="1512.6" font-size="25.4" text-anchor="middle" font-weight="bold" stroke="#63BE65" stroke-width="0.35" stroke-linejoin="round" fill="#63BE65" transform="rotate(-90 165.3 1512.6)" textLength="66.2" lengthAdjust="spacing">pHC2</text>
<text x="190.8" y="1512.6" font-size="25.4" text-anchor="middle" font-weight="bold" stroke="#63BE65" stroke-width="0.35" stroke-linejoin="round" fill="#63BE65" transform="rotate(-90 190.8 1512.6)" textLength="66.2" lengthAdjust="spacing">pHC3</text>
<text x="216.3" y="1512.6" font-size="25.4" text-anchor="middle" font-weight="bold" stroke="#63BE65" stroke-width="0.35" stroke-linejoin="round" fill="#63BE65" transform="rotate(-90 216.3 1512.6)" textLength="66.2" lengthAdjust="spacing">pHC4</text>
<text x="241.8" y="1512.6" font-size="25.4" text-anchor="middle" font-weight="bold" stroke="#63BE65" stroke-width="0.35" stroke-linejoin="round" fill="#63BE65" transform="rotate(-90 241.8 1512.6)" textLength="66.2" lengthAdjust="spacing">pHC5</text>
<text x="267.3" y="1512.6" font-size="25.4" text-anchor="middle" font-weight="bold" stroke="#63BE65" stroke-width="0.35" stroke-linejoin="round" fill="#63BE65" transform="rotate(-90 267.3 1512.6)" textLength="66.2" lengthAdjust="spacing">pHC6</text>
<text x="292.8" y="1512.6" font-size="25.4" text-anchor="middle" font-weight="bold" stroke="#63BE65" stroke-width="0.35" stroke-linejoin="round" fill="#63BE65" transform="rotate(-90 292.8 1512.6)" textLength="66.2" lengthAdjust="spacing">pHC7</text>
<text x="318.4" y="1512.6" font-size="25.4" text-anchor="middle" font-weight="bold" stroke="#63BE65" stroke-width="0.35" stroke-linejoin="round" fill="#63BE65" transform="rotate(-90 318.4 1512.6)" textLength="66.2" lengthAdjust="spacing">pHC8</text>
<text x="343.9" y="1512.6" font-size="25.4" text-anchor="middle" font-weight="bold" stroke="#63BE65" stroke-width="0.35" stroke-linejoin="round" fill="#63BE65" transform="rotate(-90 343.9 1512.6)" textLength="66.2" lengthAdjust="spacing">pHC9</text>
<text x="369.4" y="1510.3" font-size="25.4" text-anchor="middle" font-weight="bold" stroke="#63BE65" stroke-width="0.35" stroke-linejoin="round" fill="#63BE65" transform="rotate(-90 369.4 1510.3)" textLength="84" lengthAdjust="spacing">pHC10</text>
<text x="394.9" y="1510.3" font-size="25.4" text-anchor="middle" font-weight="bold" stroke="#63BE65" stroke-width="0.35" stroke-linejoin="round" fill="#63BE65" transform="rotate(-90 394.9 1510.3)" textLength="84" lengthAdjust="spacing">pHC11</text>
<text x="420.4" y="1510.3" font-size="25.4" text-anchor="middle" font-weight="bold" stroke="#63BE65" stroke-width="0.35" stroke-linejoin="round" fill="#63BE65" transform="rotate(-90 420.4 1510.3)" textLength="84" lengthAdjust="spacing">pHC12</text>
<text x="445.9" y="1510.3" font-size="25.4" text-anchor="middle" font-weight="bold" stroke="#63BE65" stroke-width="0.35" stroke-linejoin="round" fill="#63BE65" transform="rotate(-90 445.9 1510.3)" textLength="84" lengthAdjust="spacing">pHC13</text>
<text x="471.4" y="1510.3" font-size="25.4" text-anchor="middle" font-weight="bold" stroke="#63BE65" stroke-width="0.35" stroke-linejoin="round" fill="#63BE65" transform="rotate(-90 471.4 1510.3)" textLength="84" lengthAdjust="spacing">pHC14</text>
<text x="497" y="1510.6" font-size="25.4" text-anchor="middle" font-weight="bold" stroke="#D9DBEE" stroke-width="0.35" stroke-linejoin="round" fill="#D9DBEE" transform="rotate(-90 497 1510.6)" textLength="83" lengthAdjust="spacing">pCoV1</text>
<text x="522.5" y="1510.6" font-size="25.4" text-anchor="middle" font-weight="bold" stroke="#D9DBEE" stroke-width="0.35" stroke-linejoin="round" fill="#D9DBEE" transform="rotate(-90 522.5 1510.6)" textLength="83" lengthAdjust="spacing">pCoV4</text>
<text x="548" y="1509.6" font-size="25.4" text-anchor="middle" font-weight="bold" stroke="#D9DBEE" stroke-width="0.35" stroke-linejoin="round" fill="#D9DBEE" transform="rotate(-90 548 1509.6)" textLength="98.5" lengthAdjust="spacing">pCoV10</text>
<text x="573.5" y="1509.6" font-size="25.4" text-anchor="middle" font-weight="bold" stroke="#D9DBEE" stroke-width="0.35" stroke-linejoin="round" fill="#D9DBEE" transform="rotate(-90 573.5 1509.6)" textLength="98.5" lengthAdjust="spacing">pCoV13</text>
<text x="599" y="1509.6" font-size="25.4" text-anchor="middle" font-weight="bold" stroke="#D9DBEE" stroke-width="0.35" stroke-linejoin="round" fill="#D9DBEE" transform="rotate(-90 599 1509.6)" textLength="98.5" lengthAdjust="spacing">pCoV14</text>
<text x="624.5" y="1509.6" font-size="25.4" text-anchor="middle" font-weight="bold" stroke="#D9DBEE" stroke-width="0.35" stroke-linejoin="round" fill="#D9DBEE" transform="rotate(-90 624.5 1509.6)" textLength="98.5" lengthAdjust="spacing">pCoV15</text>
<text x="650.1" y="1509.6" font-size="25.4" text-anchor="middle" font-weight="bold" stroke="#D9DBEE" stroke-width="0.35" stroke-linejoin="round" fill="#D9DBEE" transform="rotate(-90 650.1 1509.6)" textLength="98.5" lengthAdjust="spacing">pCoV16</text>
<text x="675.6" y="1509.6" font-size="25.4" text-anchor="middle" font-weight="bold" stroke="#D9DBEE" stroke-width="0.35" stroke-linejoin="round" fill="#D9DBEE" transform="rotate(-90 675.6 1509.6)" textLength="98.5" lengthAdjust="spacing">pCoV18</text>
<text x="701.1" y="1509.6" font-size="25.4" text-anchor="middle" font-weight="bold" stroke="#D9DBEE" stroke-width="0.35" stroke-linejoin="round" fill="#D9DBEE" transform="rotate(-90 701.1 1509.6)" textLength="98.5" lengthAdjust="spacing">pCoV19</text>
<text x="726.6" y="1509.6" font-size="25.4" text-anchor="middle" font-weight="bold" stroke="#D9DBEE" stroke-width="0.35" stroke-linejoin="round" fill="#D9DBEE" transform="rotate(-90 726.6 1509.6)" textLength="98.5" lengthAdjust="spacing">pCoV25</text>
<text x="752.1" y="1510.6" font-size="25.4" text-anchor="middle" font-weight="bold" stroke="#9E9AC8" stroke-width="0.35" stroke-linejoin="round" fill="#9E9AC8" transform="rotate(-90 752.1 1510.6)" textLength="83" lengthAdjust="spacing">pCoV3</text>
<text x="777.6" y="1510.6" font-size="25.4" text-anchor="middle" font-weight="bold" stroke="#9E9AC8" stroke-width="0.35" stroke-linejoin="round" fill="#9E9AC8" transform="rotate(-90 777.6 1510.6)" textLength="83" lengthAdjust="spacing">pCoV5</text>
<text x="803.1" y="1510.6" font-size="25.4" text-anchor="middle" font-weight="bold" stroke="#9E9AC8" stroke-width="0.35" stroke-linejoin="round" fill="#9E9AC8" transform="rotate(-90 803.1 1510.6)" textLength="83" lengthAdjust="spacing">pCoV6</text>
<text x="828.7" y="1510.6" font-size="25.4" text-anchor="middle" font-weight="bold" stroke="#9E9AC8" stroke-width="0.35" stroke-linejoin="round" fill="#9E9AC8" transform="rotate(-90 828.7 1510.6)" textLength="83" lengthAdjust="spacing">pCoV8</text>
<text x="854.2" y="1510.6" font-size="25.4" text-anchor="middle" font-weight="bold" stroke="#9E9AC8" stroke-width="0.35" stroke-linejoin="round" fill="#9E9AC8" transform="rotate(-90 854.2 1510.6)" textLength="83" lengthAdjust="spacing">pCoV9</text>
<text x="879.7" y="1509.6" font-size="25.4" text-anchor="middle" font-weight="bold" stroke="#9E9AC8" stroke-width="0.35" stroke-linejoin="round" fill="#9E9AC8" transform="rotate(-90 879.7 1509.6)" textLength="98.5" lengthAdjust="spacing">pCoV12</text>
<text x="905.2" y="1509.6" font-size="25.4" text-anchor="middle" font-weight="bold" stroke="#9E9AC8" stroke-width="0.35" stroke-linejoin="round" fill="#9E9AC8" transform="rotate(-90 905.2 1509.6)" textLength="98.5" lengthAdjust="spacing">pCoV20</text>
<text x="930.7" y="1509.6" font-size="25.4" text-anchor="middle" font-weight="bold" stroke="#9E9AC8" stroke-width="0.35" stroke-linejoin="round" fill="#9E9AC8" transform="rotate(-90 930.7 1509.6)" textLength="98.5" lengthAdjust="spacing">pCoV22</text>
<text x="956.2" y="1509.6" font-size="25.4" text-anchor="middle" font-weight="bold" stroke="#9E9AC8" stroke-width="0.35" stroke-linejoin="round" fill="#9E9AC8" transform="rotate(-90 956.2 1509.6)" textLength="98.5" lengthAdjust="spacing">pCoV23</text>
<text x="981.7" y="1509.6" font-size="25.4" text-anchor="middle" font-weight="bold" stroke="#9E9AC8" stroke-width="0.35" stroke-linejoin="round" fill="#9E9AC8" transform="rotate(-90 981.7 1509.6)" textLength="98.5" lengthAdjust="spacing">pCoV24</text>
<text x="1007.3" y="1509.6" font-size="25.4" text-anchor="middle" font-weight="bold" stroke="#9E9AC8" stroke-width="0.35" stroke-linejoin="round" fill="#9E9AC8" transform="rotate(-90 1007.3 1509.6)" textLength="98.5" lengthAdjust="spacing">pCoV26</text>
<text x="1032.8" y="1510.6" font-size="25.4" text-anchor="middle" font-weight="bold" stroke="#54278F" stroke-width="0.35" stroke-linejoin="round" fill="#54278F" transform="rotate(-90 1032.8 1510.6)" textLength="83" lengthAdjust="spacing">pCoV2</text>
<text x="1058.3" y="1510.6" font-size="25.4" text-anchor="middle" font-weight="bold" stroke="#54278F" stroke-width="0.35" stroke-linejoin="round" fill="#54278F" transform="rotate(-90 1058.3 1510.6)" textLength="83" lengthAdjust="spacing">pCoV7</text>
<text x="1083.8" y="1509.6" font-size="25.4" text-anchor="middle" font-weight="bold" stroke="#54278F" stroke-width="0.35" stroke-linejoin="round" fill="#54278F" transform="rotate(-90 1083.8 1509.6)" textLength="98.5" lengthAdjust="spacing">pCoV11</text>
<text x="1109.3" y="1509.6" font-size="25.4" text-anchor="middle" font-weight="bold" stroke="#54278F" stroke-width="0.35" stroke-linejoin="round" fill="#54278F" transform="rotate(-90 1109.3 1509.6)" textLength="98.5" lengthAdjust="spacing">pCoV17</text>
<text x="1134.8" y="1509.6" font-size="25.4" text-anchor="middle" font-weight="bold" stroke="#54278F" stroke-width="0.35" stroke-linejoin="round" fill="#54278F" transform="rotate(-90 1134.8 1509.6)" textLength="98.5" lengthAdjust="spacing">pCoV21</text>
<text x="56.5" y="1352" font-size="23.4" text-anchor="middle" font-weight="bold" stroke="#1a1a1a" stroke-width="0.35" stroke-linejoin="round" transform="rotate(-90 56.5 1352)">% of B cells</text>
<text x="369" y="1224.3" font-size="24.5" font-weight="bold" stroke="#000" stroke-width="0.35" stroke-linejoin="round" fill="#000" textLength="596" lengthAdjust="spacingAndGlyphs">B cell subcluster abundance across individuals</text>
</g>
<g id="panel-e">
<rect x="104.5" y="1611.3" width="661" height="348.3" fill="none" stroke="#333" stroke-width="1.3"/>
<g fill="none" stroke-linecap="round" stroke-width="4.6">
<path d="M169.7 1680.5h0M171.7 1683.7h0M183.3 1682.4h0M180.4 1686h0M191.8 1684.8h0M203.2 1687.3h0M140.3 1692.1h0M162.6 1692.4h0M149.4 1698.1h0M144.8 1698.9h0M145.9 1702.9h0M174.7 1698.1h0M191.4 1698.1h0M198.2 1696.6h0M201.2 1696.6h0M210.8 1696.1h0M215.3 1700.6h0M160.3 1703.9h0M164.4 1705.8h0M174.4 1705.8h0M207.6 1705.8h0M169.5 1709.5h0M224.4 1710.6h0M145.1 1712.2h0M186.5 1711.4h0M148.5 1716.3h0M160.3 1716.8h0M153 1720.3h0M195.8 1719.8h0M162.6 1725.1h0M143.3 1727.2h0M149.4 1727.1h0M157.6 1727.9h0M171.3 1726.3h0M165.6 1729.2h0M167.9 1730.5h0M143.1 1730.8h0M155 1733.2h0M163.3 1732.7h0M191.8 1731.8h0M147.4 1735.3h0M145.1 1736.4h0M154.2 1736.4h0M165.9 1736.9h0M174.7 1738.4h0M187.3 1740.5h0M164.4 1741.6h0M160.7 1742.4h0M156.5 1743.7h0M169.1 1743h0M148.9 1745h0M178.8 1745.3h0M157.7 1746.1h0M172.4 1748h0M151.9 1749.8h0M176.2 1750.4h0M153.8 1752.9h0M163.8 1751.7h0M162.6 1758.5h0M185 1759.8h0M184.2 1761.4h0M193.2 1759.8h0M146.2 1761.4h0M155 1763.3h0M173.2 1763h0M178.8 1762.5h0M161.8 1765.1h0M197.9 1764.3h0M203.5 1767.1h0M164.1 1768.7h0M169.4 1768.2h0M174.2 1769.1h0M191.8 1768.3h0M193.9 1770h0M179.7 1770.8h0M183.5 1770.3h0M181.2 1772.7h0M186.1 1773.5h0M189.5 1773h0M202 1774.3h0M204.2 1773.8h0M165.6 1774.3h0M161.8 1775.9h0M172.4 1776.7h0M217.9 1775.9h0M221.2 1779.1h0M183.8 1779.1h0M188.3 1778.7h0M192.4 1777.5h0M160.3 1782.7h0M179.5 1784h0M184.5 1786.4h0M178.8 1788.8h0M186.1 1788.8h0M191.1 1789.6h0M195.1 1788.5h0M220.5 1788.3h0M150.4 1787.7h0M151.9 1790.1h0M153.5 1790.9h0M171.7 1793.6h0M157.2 1796.4h0M206.5 1793.6h0M215.3 1799h0M192.9 1799.6h0M194.4 1800.9h0M192.1 1802.5h0M173.6 1804.9h0M212.6 1806.9h0M214.1 1810.2h0M225 1810.2h0M182.7 1814.6h0M183.8 1815.9h0M180.7 1816.7h0M196.4 1814.9h0M197.4 1817.3h0M205.8 1816.2h0M207.3 1817.8h0M212.6 1816.7h0M186.1 1819.8h0M222.4 1819.9h0M225.5 1821h0M181.5 1823.8h0M191.8 1823.1h0M189.1 1827.2h0M200.8 1824.6h0M207.7 1825.6h0M205 1828.3h0M201.2 1832.7h0M208.3 1832.3h0M231.5 1823.5h0M233.8 1832.3h0M209.9 1839.6h0M213.8 1841.5h0M199.4 1845.2h0M208 1850.1h0M212.6 1853h0M235.6 1855.4h0M227.7 1861.3h0M212.3 1864.6h0M213 1867.8h0M224.7 1870.7h0M234.6 1878.8h0M230.5 1811.4h0" stroke="#B7E0E4"/>
<path d="M298.2 1719.2h0M296 1720h0M292.2 1721.1h0M289.9 1722.4h0M305.1 1724.7h0M303.5 1725.5h0M271 1729.7h0M288.5 1730.3h0M296 1734h0M298.2 1735.6h0M305.1 1736.1h0M314.9 1734.7h0M324 1736.4h0M280.5 1735.9h0M248.2 1738h0M249.3 1740.8h0M263.4 1739.2h0M258.1 1742.4h0M256.6 1744h0M273.7 1740.9h0M292.6 1739.3h0M297.5 1741.3h0M281.6 1743h0M286.1 1746.4h0M313.4 1742.9h0M319.2 1743.4h0M299 1746.9h0M296.7 1748.2h0M295.2 1750.1h0M290.2 1749.3h0M268.2 1749h0M236.8 1748.2h0M317.6 1750.9h0M253.8 1753.4h0M259.1 1756.9h0M245.2 1755.8h0M242.9 1757.4h0M240.2 1759.3h0M286.6 1756.6h0M290.4 1755.8h0M294.9 1756.1h0M303.5 1756.9h0M257 1765.1h0M235.3 1767.5h0M250.8 1770h0M268.4 1767.9h0M278.5 1766.2h0M279.6 1769h0M288.1 1768.7h0M286.1 1770.3h0M296 1767.1h0M308.1 1769.5h0M326.3 1765.8h0M324.8 1770.3h0M292.2 1773.5h0M212.1 1786.1h0M265.3 1777.5h0M269.1 1778.3h0M294.1 1777.2h0M301.3 1778h0M321.7 1777.5h0M298.2 1782.7h0M304 1782.4h0M277.8 1783.2h0M270.5 1785.3h0M313.1 1785.9h0M318.3 1786.9h0M329.3 1786.7h0M325.2 1790.1h0M237.6 1788.8h0M244.7 1790.4h0M299.8 1789.9h0M253.1 1792.5h0M250.5 1796.1h0M285.4 1791.6h0M310.1 1792.4h0M299.5 1796.1h0M238.4 1798.2h0M244.4 1800.1h0M252 1798.5h0M259.1 1800.6h0M273.7 1799h0M278.1 1800.1h0M289.4 1798h0M266.4 1802.2h0M298.5 1801.7h0M255.3 1803.8h0M240.2 1804.1h0M316.4 1803.6h0M319.2 1806.1h0M322.5 1807h0M250 1810.9h0M248.5 1813h0M262.6 1809.3h0M266.4 1811.7h0M265.6 1814.6h0M282.3 1809.4h0M310.4 1808.6h0M308.9 1811.1h0M341.1 1812.2h0M219 1817.3h0M230.5 1814.3h0M236.8 1817h0M253.2 1815.7h0M254.3 1818.6h0M286.1 1819.4h0M289.1 1820.6h0M296 1817.3h0M311.6 1817.3h0M271.4 1822.2h0M267.9 1824.3h0M292.9 1822.7h0M308.9 1822.7h0M234.6 1824.3h0M237.6 1825.1h0M245.9 1825.9h0M243.7 1828.3h0M249.7 1829.1h0M255.8 1824.8h0M261.1 1825.6h0M255.3 1829.9h0M278.5 1825.1h0M279.6 1828.3h0M267.5 1831.5h0M315.2 1829.1h0M323.3 1826.4h0M330.4 1828.6h0M227.3 1832.3h0M240.6 1832.3h0M238.4 1833.9h0M235 1835.6h0M223.5 1836.4h0M227.4 1836.4h0M252.8 1833.1h0M255.8 1835.6h0M258.8 1837.2h0M262.6 1837.2h0M266.4 1838h0M271 1836.4h0M249.3 1838h0M254.3 1838.8h0M288.7 1833.5h0M303.9 1833.1h0M310.4 1835.9h0M297.5 1836.7h0M289.9 1838h0M226.7 1848.4h0M239.6 1842.8h0M245.2 1844.4h0M245.9 1846.8h0M251.2 1845.2h0M252.8 1847.6h0M255.8 1850.1h0M256.6 1854.1h0M266.4 1841.2h0M292.6 1841.2h0M300.8 1843.6h0M326.3 1839.9h0M276.6 1846h0M274 1847.6h0M266.4 1848.4h0M269.9 1850.9h0M267.9 1851.7h0M281.6 1850.1h0M282.3 1853.3h0M289.4 1847.6h0M291.4 1848.4h0M308.6 1848.4h0M304.3 1850.5h0M320.2 1846.5h0M317.2 1848.4h0M314.2 1851.2h0M311.1 1853.3h0M318.7 1854.1h0M278.5 1854.9h0M251.2 1859.4h0M248.2 1860.5h0M257 1857.3h0M259.6 1864.1h0M255.3 1865.1h0M269.1 1859.7h0M271.7 1863.8h0M276.3 1856.5h0M274 1858.1h0M280.8 1858.1h0M283.1 1859.7h0M277 1864.6h0M275.5 1867h0M280.8 1866.2h0M285.4 1865.1h0M286.9 1868.6h0M284.6 1870.2h0M292.9 1856.5h0M296 1857.3h0M299.8 1855.7h0M293.7 1860.5h0M292.2 1863.8h0M296.7 1863h0M307.3 1863.3h0M311.1 1863.8h0M314.5 1865.4h0M302 1866.2h0M300.5 1868.6h0M298.2 1871.8h0M250.2 1871h0M248.2 1873.4h0M241.8 1879.4h0M259.6 1876.2h0M258.4 1878.3h0M257 1880.2h0M264.9 1878.3h0M267.9 1875.5h0M271 1874.2h0M277.3 1876.7h0M279.3 1879.1h0M280.8 1881.5h0M273.7 1882h0M277 1883.9h0M261.1 1884.7h0M261.9 1887.1h0M311.9 1875.9h0M308.1 1883.1h0M287.2 1887.1h0M239.6 1888.4h0M248.2 1890.4h0M265.3 1890.7h0M276.3 1887.9h0M275.5 1891.2h0M292.2 1892h0M286.1 1894.1h0M275.5 1893.9h0M308.9 1896.5h0M306.6 1897.3h0M314.2 1898.4h0M299 1898.1h0M289.1 1898.7h0M236.4 1898.7h0M256.9 1901.3h0M264.9 1904.9h0M283.1 1904.5h0M290.7 1905.7h0M296.7 1906h0M244 1909.2h0M258.8 1907.3h0M257.3 1911.6h0M262.3 1911h0M266.1 1914.1h0M300.2 1909.4h0M308.1 1909.4h0M314.2 1908.1h0M292.2 1910.5h0M288.7 1912.9h0M286.1 1914.5h0M250.5 1918.6h0M282 1919.4h0M291.7 1921.5h0M246.4 1813.9h0M265.9 1813.8h0M234.2 1814.5h0M255.2 1813.4h0M255.1 1821.4h0M292.1 1817.7h0M269.2 1819.8h0M269.9 1822.3h0M234.9 1821.6h0M235.8 1826.2h0M244.8 1826.4h0M242.4 1830.1h0M256.2 1824.9h0M281.5 1822.7h0M281.2 1826.1h0M264.6 1832.6h0M236.2 1836.1h0M257.9 1838.3h0M259.8 1834.4h0M253.6 1839.8h0M288.5 1831.4h0M287.2 1839.6h0M238 1842.1h0M245.6 1847.1h0M256 1853.2h0M274.6 1844.4h0M273.9 1848.2h0M263.4 1847.9h0M270.3 1853.7h0M282.3 1851.2h0M284.8 1855h0M277.9 1852.4h0M248.6 1857.6h0M247.2 1857.8h0M254.9 1854.8h0M256.7 1866.4h0M267.6 1858.8h0M269.4 1865.9h0M273.9 1855.5h0M279.8 1856.7h0M274.1 1867.4h0M273.3 1867.3h0M281 1869.2h0M283.8 1868.1h0M297.7 1856.3h0M295.6 1863.5h0" stroke="#F0634A"/>
<path d="M332.4 1842h0M324 1852h0M358.6 1847.3h0M357.1 1851.7h0M321.3 1860.5h0M328.6 1861.7h0M330.8 1860.5h0M349.5 1856h0M349.5 1863.8h0M356.6 1862.1h0M359.3 1863.3h0M343 1865.4h0M345.7 1867.8h0M339.2 1867.8h0M316.9 1872.9h0M327 1874.7h0M331.1 1874.6h0M324 1879.9h0M328.6 1879.6h0M330.1 1882.3h0M338.1 1879.1h0M343.7 1879.6h0M350.9 1879.6h0M353.6 1875h0M355.9 1873.4h0M344.2 1882.3h0M345.7 1883.4h0M352.1 1883.9h0M331.6 1887.1h0M327 1887.9h0M322.5 1888.4h0M318 1889.1h0M339.2 1890.7h0M353.9 1892.8h0M354.3 1895.2h0M371.8 1893.3h0M369.5 1896.8h0M343.7 1897.3h0M350.5 1900.5h0M358.1 1901.2h0M377.1 1901.3h0M356.6 1905.3h0M372.1 1904.4h0M331.6 1909.4h0M346 1908.6h0M357.4 1909.7h0M375.6 1907.3h0M381.9 1910.8h0M382.7 1913.4h0M365.4 1913.4h0M336.6 1914.9h0M341.5 1915.8h0M320.2 1915.8h0M362.7 1919.4h0M360.4 1920.2h0M370.6 1918.6h0M345.2 1927.8h0M351.6 1926.9h0M373.3 1924.2h0M374 1925.3h0M381.6 1925h0M383.9 1927.1h0M386.2 1926.1h0M383.1 1928.2h0M390.7 1934.2h0M388.1 1918.1h0" stroke="#6E90CC"/>
</g>
<g fill="none" stroke-linecap="round" stroke-width="4.6">
<path d="M508.1 1702.5h0M509.1 1706.4h0M587.1 1714.1h0M516.2 1723.7h0M658.2 1723.4h0M665.7 1728.8h0M660.4 1738.8h0M636 1744.1h0M654.8 1742.5h0M599.4 1751.3h0M679.7 1754h0M648.8 1759.6h0M657.1 1759.1h0M564.8 1777.1h0M641.9 1771.8h0M688.3 1768.6h0M580.6 1778.7h0M683.7 1780.3h0M660.4 1785.4h0M640.1 1785.9h0M680.3 1789.5h0M687.2 1792.7h0M601 1800.7h0M651.7 1800.6h0M660.7 1804.2h0M684.5 1809.5h0M587.7 1812.7h0M671 1813.5h0M581.7 1819.7h0M593.1 1816.7h0M633.8 1824.5h0M655.1 1825h0M671 1825h0M552 1829.4h0M594.2 1825.8h0M606.2 1830.5h0M612.2 1831.3h0M618.3 1827h0M623.5 1827.8h0M685.3 1828.6h0M596.4 1834.5h0M597.6 1837.7h0M621.3 1839.3h0M628.8 1840.1h0M611.8 1840.1h0M616.8 1840.9h0M652.1 1840.1h0M607.7 1846.5h0M608.5 1848.9h0M636.3 1849.7h0M628.8 1850.5h0M630.3 1853.7h0M666.4 1852.5h0M679.2 1850.5h0M676.2 1853.2h0M673.2 1855.3h0M686 1854h0M718.8 1853.7h0M587.4 1872.5h0M613.7 1861.3h0M619.5 1859.2h0M622 1865.9h0M617.8 1866.9h0M638.6 1858.4h0M645.4 1861.6h0M637.8 1868.8h0M647.6 1866.9h0M662.7 1870.4h0M692.8 1862.4h0M707.5 1869.6h0M701.1 1869.6h0M612.7 1872.8h0M597.2 1880.5h0M620.8 1880h0M633.3 1876h0M643.1 1883.2h0M636 1883.7h0M639.3 1885.6h0M624.3 1888.8h0M689 1876.5h0M602.2 1890h0M638.6 1889.6h0M637.8 1895.5h0M701.1 1892.3h0M715.7 1894.3h0M668.7 1898.8h0M676.2 1899.9h0M661.2 1899.6h0M621.3 1908.7h0M624.7 1912.4h0M662.4 1910.8h0M650.9 1914.3h0M719.1 1911.1h0M703.3 1917.1h0M613 1919.9h0M644.3 1920.7h0M735.7 1926.6h0M749.7 1919.4h0M608.9 1816.3h0M654.3 1820.1h0M631.6 1822.1h0M598.4 1828.5h0M605 1832.3h0M618.7 1827.2h0M643.8 1825h0M598.8 1838.3h0M620.3 1840.4h0M622.3 1836.6h0M649.5 1841.8h0M600.6 1844.2h0M640.2 1854.4h0M611.1 1859.5h0M617.4 1856.8h0M630 1860.7h0M642.1 1858.6h0M636.4 1869.2h0" stroke="#DADAEB"/>
<path d="M532.8 1684.3h0M534.7 1687.5h0M546.3 1686.2h0M543.4 1689.7h0M554.7 1688.6h0M566 1691h0M503.6 1695.8h0M525.7 1696.1h0M512.6 1701.7h0M537.7 1701.7h0M554.3 1701.7h0M561.1 1700.2h0M564.1 1700.2h0M573.6 1699.7h0M578.1 1704.2h0M523.4 1707.4h0M527.5 1709.3h0M537.4 1709.3h0M570.4 1709.3h0M508.4 1715.7h0M549.5 1714.9h0M523.4 1720.2h0M558.7 1723.2h0M654.4 1724.5h0M506.6 1730.5h0M512.6 1730.4h0M520.7 1731.2h0M534.4 1729.6h0M528.7 1732.4h0M531 1733.7h0M506.4 1734h0M518.2 1736.4h0M526.4 1736h0M554.7 1735h0M510.6 1738.5h0M508.4 1739.6h0M517.4 1739.6h0M529 1740.1h0M537.7 1741.5h0M550.2 1743.6h0M633.3 1732.9h0M650.8 1733.6h0M658.2 1737.2h0M667.2 1739.3h0M686 1739.6h0M642.8 1739.1h0M610.7 1741.2h0M611.8 1743.9h0M620.5 1745.5h0M619 1747.1h0M527.5 1744.7h0M523.9 1745.5h0M519.7 1746.8h0M532.2 1746.2h0M512.1 1748.1h0M541.8 1748.4h0M520.9 1749.2h0M515.1 1752.9h0M539.2 1753.5h0M517 1755.9h0M526.9 1754.8h0M648.4 1749.5h0M675.5 1746h0M658.9 1751.3h0M657.4 1753.2h0M616.3 1756.4h0M621.6 1759.9h0M607.7 1758.8h0M602.8 1762.3h0M665.7 1759.9h0M525.7 1761.5h0M548 1762.7h0M547.2 1764.3h0M556.1 1762.7h0M509.4 1764.3h0M518.2 1766.3h0M536.2 1765.9h0M541.8 1765.5h0M524.9 1768h0M566.3 1769.9h0M527.2 1771.5h0M532.5 1771h0M537.3 1772h0M554.7 1771.2h0M556.8 1772.8h0M542.7 1773.6h0M546.5 1773.1h0M544.2 1775.5h0M549 1776.3h0M567.1 1776.6h0M528.7 1777.1h0M619.5 1768h0M597.9 1770.4h0M613.3 1772.8h0M630.8 1770.7h0M648.4 1773.1h0M658.2 1769.9h0M670.2 1772.3h0M686.8 1773.1h0M524.9 1778.7h0M535.5 1779.5h0M546.8 1781.9h0M551.3 1781.4h0M555.3 1780.3h0M542.5 1786.7h0M547.5 1789.1h0M549 1791.5h0M554 1792.3h0M558 1791.1h0M574.9 1788.7h0M583.2 1791h0M513.6 1790.3h0M515.1 1792.7h0M516.7 1793.5h0M627.7 1780.3h0M631.5 1781.1h0M656.3 1780h0M666.1 1785.1h0M632.9 1787.9h0M675.2 1788.6h0M691.3 1789.4h0M600.2 1791.5h0M607.3 1793.1h0M661.9 1792.6h0M534.7 1796.2h0M520.4 1799h0M569.3 1796.2h0M615.6 1795.1h0M647.6 1794.2h0M672.2 1795h0M661.6 1798.6h0M607 1802.6h0M614.5 1801h0M578.1 1801.5h0M555.8 1802.1h0M555 1805h0M536.7 1807.4h0M636 1801.5h0M640.4 1802.6h0M617.8 1806.3h0M602.8 1806.6h0M575.4 1809.3h0M678.5 1806.1h0M681.2 1808.5h0M576.9 1812.7h0M612.5 1813.3h0M546.8 1818.3h0M570.1 1820.2h0M615.7 1818.1h0M673.7 1819.7h0M544.5 1826.1h0M554.7 1825.4h0M640.8 1827.3h0M641.9 1830.5h0M677.3 1831.3h0M603.2 1834.5h0M586.2 1838.5h0M590.1 1838.5h0M615.3 1835.3h0M633.3 1838.5h0M666 1835.3h0M572.7 1841.7h0M562.3 1847.3h0M570.8 1852.1h0M618.3 1852.1h0M628.8 1843.3h0M688.3 1842h0M632.3 1852.9h0M643.9 1852.1h0M651.7 1849.7h0M680.7 1856.1h0M640.8 1856.9h0M598.2 1857.3h0M575.1 1866.4h0M575.8 1869.6h0M634.1 1865.6h0M643.1 1860h0M646.9 1872h0M655.1 1858.4h0M658.9 1864.8h0M669.4 1865.1h0M683.3 1862.4h0M623.5 1886.4h0M674 1877.6h0M693.1 1876.3h0M686 1881.6h0M700 1880.8h0M712.6 1881.3h0M715.4 1876.8h0M649.4 1888.8h0M689 1889.6h0M637.8 1892.7h0M654.4 1893.5h0M627.3 1906.3h0M712.3 1902h0M652.9 1907.1h0M670.2 1910.8h0M743.5 1912.2h0M698.5 1916.2h0M732.2 1919.9h0M743.2 1926.2h0M745.5 1928.3h0M597.5 1823.9h0M647 1857h0M609.8 1859.7h0M631.8 1867.8h0M643.3 1871h0" stroke="#A19CCF"/>
<path d="M511.7 1719.7h0M625.8 1742.3h0M630.6 1752.1h0M605.5 1760.4h0M560.8 1767.2h0M552.5 1775.8h0M650.3 1771.5h0M654.4 1776.3h0M523.4 1785.4h0M541.8 1791.5h0M663.4 1780.8h0M557.3 1803.4h0M611 1815.4h0M625 1811.7h0M628.8 1814.1h0M628 1817h0M644.6 1811.9h0M672.5 1811.1h0M703 1814.6h0M545.7 1817h0M559.3 1817.3h0M560.3 1819.7h0M568.6 1818.6h0M575.4 1819.1h0M599.4 1819.4h0M616.8 1821h0M648.4 1821.8h0M651.4 1822.9h0M658.2 1819.7h0M549 1822.1h0M585.1 1822.2h0M588.2 1823.4h0M630.3 1826.5h0M563.6 1826.9h0M570.5 1827.8h0M567.8 1830.5h0M564.1 1834.8h0M571.1 1834.5h0M597.2 1826.5h0M600.2 1827.3h0M608.5 1828.1h0M617.8 1832.1h0M629.9 1833.7h0M692.3 1830.9h0M590 1834.5h0M601 1836.1h0M618.3 1837.7h0M625 1839.3h0M650.9 1835.6h0M576.6 1843.6h0M575.4 1854.9h0M589.4 1850.5h0M602.2 1844.9h0M613.7 1847.3h0M615.3 1849.7h0M619 1856.1h0M654.8 1843.3h0M663 1845.7h0M694.3 1844.1h0M638.9 1848.1h0M644.6 1855.3h0M653.6 1850.5h0M670.7 1850.5h0M682.2 1848.6h0M720.3 1849.4h0M590.4 1863.2h0M610.7 1862.4h0M631.5 1861.6h0M636.3 1860h0M639.3 1866.4h0M643.1 1868h0M649.1 1870.4h0M658.2 1859.2h0M661.9 1857.7h0M655.9 1862.4h0M654.4 1865.6h0M673.2 1865.6h0M676.5 1867.2h0M664.2 1868h0M690.5 1863.6h0M711.3 1858h0M711.3 1865.6h0M718.4 1864h0M704.8 1867.2h0M660.4 1873.6h0M610.7 1875.2h0M604.4 1881.1h0M622 1877.9h0M619.5 1881.9h0M627.3 1880h0M630.3 1877.3h0M639.6 1878.4h0M641.6 1880.8h0M678.9 1874.7h0M690.5 1881.3h0M692 1884h0M705.6 1881.3h0M717.6 1875.2h0M706 1884h0M713.9 1885.6h0M670.2 1884.8h0M693.5 1888.8h0M684.5 1890h0M680 1890.7h0M610.7 1891.9h0M627.7 1892.3h0M648.4 1895.6h0M733.4 1894.8h0M731.2 1898.3h0M705.6 1898.8h0M671 1898h0M651.4 1900.2h0M599 1900.2h0M619.3 1902.8h0M719.9 1902.6h0M738.7 1902.8h0M658.9 1907.4h0M733.7 1905.8h0M606.5 1910.6h0M619.8 1913h0M628.5 1915.4h0M676.2 1909.5h0M654.4 1911.9h0M648.4 1915.9h0M693.5 1910.8h0M707.8 1910h0M737.2 1908.7h0M682.2 1917.1h0M722.1 1921.5h0M628.3 1816.2h0M593.2 1813.8h0M596.8 1816.9h0M617.7 1815.8h0M617.5 1823.7h0M632.2 1824.6h0M607.4 1828.7h0M643.5 1828.4h0M650.7 1833.6h0M608.2 1849.2h0M618.5 1855.2h0M636.9 1846.4h0M636.2 1850.2h0M625.8 1850h0M632.7 1855.7h0M644.6 1853.2h0M636.2 1857.5h0M635.7 1869.1h0M646.1 1870h0M659.8 1858.2h0M657.8 1865.4h0" stroke="#6CC46A"/>
<path d="M532.6 1713h0M660.4 1722.6h0M652.1 1725.7h0M667.2 1728h0M525.7 1728.5h0M677 1737.9h0M659.7 1744.4h0M535.5 1751.1h0M643.9 1746.2h0M681.2 1746.5h0M661.2 1750h0M652.4 1752.4h0M652.6 1758.8h0M640.8 1769.1h0M583.9 1781.9h0M613 1798.6h0M621.6 1803.1h0M628.8 1804.7h0M543.7 1819.1h0M672.5 1838h0M659.7 1838.8h0M721.1 1865.1h0M707.5 1885.1h0M716.1 1896.7h0M645.4 1906h0M718.4 1906.8h0M744.3 1914.8h0M727.1 1914.8h0M653.9 1922.7h0M724.4 1920.7h0M707.1 1928.9h0M713.4 1928.2h0M734.9 1925.4h0M747.7 1927.4h0M744.7 1929.4h0M752.2 1935.3h0M627.1 1834.8h0M616.1 1841.9h0M619.1 1868.2h0" stroke="#54278F"/>
</g>
<text x="144" y="1652.5" font-size="33.2" font-weight="bold" stroke="#1a1a1a" stroke-width="0.35" stroke-linejoin="round" textLength="180" lengthAdjust="spacingAndGlyphs">PC subsets</text>
<text x="521.5" y="1652" font-size="33.2" textLength="213.5" lengthAdjust="spacingAndGlyphs">Patient groups</text>
<text x="135" y="1758.5" font-size="26.5" font-weight="bold" stroke="#1a1a1a" stroke-width="0.35" stroke-linejoin="round" textLength="116" lengthAdjust="spacingAndGlyphs">PCs_SC1</text>
<text x="225.5" y="1836" font-size="26.5" font-weight="bold" stroke="#1a1a1a" stroke-width="0.35" stroke-linejoin="round" textLength="117" lengthAdjust="spacingAndGlyphs">PCs_SC0</text>
<text x="296.5" y="1908" font-size="26.5" font-weight="bold" stroke="#1a1a1a" stroke-width="0.35" stroke-linejoin="round" textLength="118" lengthAdjust="spacingAndGlyphs">PCs_SC2</text>
<text x="418" y="1945" font-size="31.5" font-style="italic" textLength="93.5" lengthAdjust="spacingAndGlyphs">n=544</text>
<text x="563.5" y="1782" font-size="26.5" font-weight="bold" stroke="#1a1a1a" stroke-width="0.35" stroke-linejoin="round">G2</text>
<text x="652.5" y="1786.5" font-size="26.5" font-weight="bold" stroke="#1a1a1a" stroke-width="0.35" stroke-linejoin="round">G3</text>
<text x="638.5" y="1870.5" font-size="26.5" font-weight="bold" stroke="#1a1a1a" stroke-width="0.35" stroke-linejoin="round">G1</text>
<text x="614.5" y="1908.5" font-size="26.5" font-weight="bold" stroke="#1a1a1a" stroke-width="0.35" stroke-linejoin="round">pHC</text>
</g>
<g id="panel-f">
<g fill="none" stroke-linecap="round" stroke-width="4.3">
<path d="M1192.5 1267.9h0M1320.8 1422.1h0M1364.4 1423.6h0M1283 1436.5h0M1310 1442.2h0" stroke="#A81414"/>
<path d="M1216.8 1246.4h0M1218.8 1249.5h0M1230.7 1248.3h0M1227.8 1251.7h0M1239.4 1250.6h0M1251 1252.9h0M1186.8 1257.5h0M1209.5 1257.8h0M1196.1 1263.3h0M1191.4 1264h0M1221.9 1263.3h0M1238.9 1263.3h0M1245.9 1261.9h0M1248.9 1261.9h0M1258.7 1261.4h0M1263.3 1265.7h0M1207.2 1268.8h0M1211.4 1270.7h0M1221.6 1270.7h0M1255.4 1270.7h0M1216.6 1274.2h0M1272.6 1275.3h0M1191.7 1276.8h0M1233.9 1276.1h0M1195.1 1280.7h0M1207.2 1281.2h0M1199.8 1284.6h0M1243.4 1284.1h0M1347.9 1283.5h0M1345.6 1284.3h0M1341.7 1285.3h0M1339.4 1286.6h0M1354.8 1288.7h0M1353.3 1289.5h0M1209.5 1289.2h0M1189.9 1291.2h0M1196.1 1291.1h0M1204.4 1291.8h0M1218.5 1290.3h0M1212.6 1293.1h0M1214.9 1294.3h0M1189.7 1294.6h0M1201.8 1296.9h0M1210.3 1296.5h0M1239.4 1295.5h0M1194.1 1298.9h0M1191.7 1300h0M1201 1300h0M1212.9 1300.5h0M1221.9 1301.9h0M1234.7 1303.9h0M1320.1 1293.5h0M1338 1294.2h0M1345.6 1297.7h0M1347.9 1299.3h0M1354.8 1299.7h0M1364.9 1298.3h0M1374.2 1300h0M1329.8 1299.6h0M1296.9 1301.6h0M1297.9 1304.2h0M1312.3 1302.7h0M1306.9 1305.7h0M1305.4 1307.3h0M1322.8 1304.4h0M1342.2 1302.8h0M1347.1 1304.7h0M1211.4 1305h0M1207.7 1305.7h0M1203.3 1307h0M1216.2 1306.4h0M1195.6 1308.2h0M1226.1 1308.5h0M1204.6 1309.3h0M1219.6 1311.2h0M1198.7 1312.9h0M1223.4 1313.5h0M1200.6 1315.8h0M1210.8 1314.7h0M1330.9 1306.4h0M1335.5 1309.6h0M1363.3 1306.2h0M1369.2 1306.7h0M1348.6 1310.1h0M1346.3 1311.3h0M1344.8 1313.2h0M1339.7 1312.4h0M1317.3 1312.1h0M1285.3 1311.3h0M1367.7 1313.9h0M1302.6 1316.3h0M1308 1319.6h0M1293.8 1318.6h0M1291.5 1320.1h0M1288.7 1322h0M1336 1319.3h0M1339.8 1318.6h0M1344.5 1318.9h0M1353.3 1319.6h0M1209.5 1321.2h0M1232.4 1322.4h0M1231.6 1324h0M1240.8 1322.4h0M1192.8 1324h0M1201.8 1325.8h0M1220.3 1325.5h0M1226.1 1325.1h0M1208.8 1327.5h0M1245.5 1326.8h0M1251.3 1329.4h0M1211.1 1330.9h0M1216.5 1330.5h0M1221.4 1331.4h0M1239.4 1330.6h0M1241.5 1332.2h0M1227 1332.9h0M1230.9 1332.5h0M1228.5 1334.8h0M1233.5 1335.6h0M1237 1335.1h0M1249.7 1336.3h0M1252 1335.9h0M1212.6 1336.3h0M1305.8 1327.5h0M1283.7 1329.8h0M1299.5 1332.2h0M1317.4 1330.2h0M1327.8 1328.6h0M1328.9 1331.2h0M1337.5 1330.9h0M1335.5 1332.5h0M1345.6 1329.4h0M1357.9 1331.7h0M1376.5 1328.1h0M1374.9 1332.5h0M1341.7 1335.6h0M1208.8 1337.9h0M1219.6 1338.7h0M1265.9 1337.9h0M1269.3 1341h0M1231.2 1341h0M1235.8 1340.5h0M1240 1339.4h0M1207.2 1344.4h0M1226.8 1345.6h0M1231.9 1347.9h0M1226.1 1350.2h0M1233.5 1350.2h0M1238.6 1351h0M1242.8 1349.9h0M1260.1 1347.6h0M1268.6 1349.8h0M1197.2 1349.2h0M1198.7 1351.5h0M1200.2 1352.3h0M1314.3 1339.4h0M1318.2 1340.2h0M1343.7 1339.1h0M1351 1339.9h0M1371.8 1339.4h0M1347.9 1344.4h0M1353.8 1344.1h0M1327 1344.8h0M1319.6 1346.8h0M1363 1347.5h0M1368.3 1348.4h0M1379.6 1348.2h0M1375.4 1351.5h0M1286 1350.2h0M1293.3 1351.8h0M1349.4 1351.3h0M1218.8 1354.9h0M1204.1 1357.5h0M1254.4 1354.9h0M1301.8 1353.8h0M1299.2 1357.2h0M1334.7 1352.9h0M1359.9 1353.6h0M1349.1 1357.2h0M1286.8 1359.2h0M1293 1361.1h0M1300.7 1359.5h0M1308 1361.5h0M1263.3 1360h0M1240.4 1360.6h0M1242 1361.8h0M1239.7 1363.4h0M1220.8 1365.7h0M1322.8 1360h0M1327.3 1361.1h0M1338.9 1359.1h0M1315.4 1363.1h0M1348.2 1362.6h0M1304.1 1364.6h0M1288.7 1364.9h0M1260.5 1367.6h0M1366.4 1364.5h0M1369.2 1366.8h0M1372.6 1367.7h0M1262.1 1370.8h0M1273.2 1370.8h0M1298.7 1371.4h0M1297.2 1373.4h0M1311.5 1369.9h0M1315.4 1372.2h0M1314.6 1375h0M1331.6 1370h0M1360.2 1369.2h0M1358.7 1371.6h0M1391.6 1372.6h0M1230.1 1375h0M1231.2 1376.2h0M1228.1 1377h0M1244 1375.3h0M1245.1 1377.6h0M1253.6 1376.5h0M1255.1 1378.1h0M1260.5 1377h0M1267 1377.6h0M1278.8 1374.7h0M1285.3 1377.3h0M1302 1376h0M1303 1378.8h0M1335.5 1379.6h0M1338.6 1380.7h0M1345.6 1377.6h0M1361.5 1377.6h0M1233.5 1379.9h0M1270.6 1380.1h0M1273.7 1381.1h0M1320.5 1382.2h0M1317 1384.2h0M1342.5 1382.7h0M1358.7 1382.7h0M1228.8 1383.8h0M1239.4 1383.2h0M1236.6 1387h0M1248.5 1384.5h0M1255.6 1385.5h0M1252.8 1388.1h0M1248.9 1392.3h0M1256.2 1392h0M1279.9 1383.5h0M1283 1384.2h0M1286 1385h0M1294.5 1385.8h0M1292.2 1388.1h0M1298.4 1388.9h0M1304.6 1384.7h0M1310 1385.5h0M1304.1 1389.6h0M1327.8 1385h0M1328.9 1388.1h0M1316.5 1391.2h0M1365.2 1388.9h0M1373.4 1386.2h0M1380.6 1388.4h0M1275.5 1392h0M1282.2 1392h0M1289.1 1392h0M1286.8 1393.5h0M1283.4 1395.1h0M1271.7 1395.8h0M1275.7 1395.8h0M1301.5 1392.7h0M1304.6 1395.1h0M1307.7 1396.6h0M1311.5 1396.6h0M1315.4 1397.4h0M1320.1 1395.8h0M1297.9 1397.4h0M1303 1398.1h0M1338.1 1393h0M1353.6 1392.7h0M1360.2 1395.4h0M1347.1 1396.1h0M1339.4 1397.4h0M1257.8 1398.9h0M1261.8 1400.8h0M1247.1 1404.3h0M1255.9 1409h0M1260.5 1411.7h0M1274.9 1407.4h0M1288.1 1402h0M1293.8 1403.6h0M1294.5 1405.9h0M1300 1404.3h0M1301.5 1406.6h0M1304.6 1409h0M1305.4 1412.8h0M1315.4 1400.5h0M1342.2 1400.5h0M1350.5 1402.8h0M1376.5 1399.2h0M1382.7 1401.2h0M1325.8 1405.1h0M1323.1 1406.6h0M1315.4 1407.4h0M1319 1409.7h0M1317 1410.5h0M1330.9 1409h0M1331.6 1412.1h0M1338.9 1406.6h0M1340.9 1407.4h0M1358.4 1407.4h0M1354.1 1409.4h0M1370.3 1405.6h0M1367.2 1407.4h0M1364.1 1410h0M1361 1412.1h0M1368.7 1412.8h0M1374.2 1410.8h0M1409.4 1406.3h0M1407.9 1410.5h0M1327.8 1413.6h0M1284 1414.1h0M1276 1419.8h0M1260.2 1422.9h0M1261 1426h0M1272.9 1428.7h0M1300 1417.9h0M1296.9 1419h0M1305.8 1415.9h0M1308.5 1422.4h0M1304.1 1423.3h0M1318.2 1418.2h0M1325.5 1415.1h0M1323.1 1416.7h0M1330.1 1416.7h0M1332.4 1418.2h0M1326.2 1422.9h0M1324.7 1425.2h0M1330.1 1424.4h0M1334.7 1423.3h0M1336.3 1426.7h0M1334 1428.3h0M1342.5 1415.1h0M1345.6 1415.9h0M1349.4 1414.4h0M1343.2 1419h0M1341.7 1422.1h0M1346.3 1421.3h0M1357.2 1421.6h0M1361 1422.1h0M1351.7 1424.4h0M1350.2 1426.7h0M1371.4 1419h0M1378.8 1420.1h0M1381.1 1419h0M1400.1 1414.7h0M1400.1 1422.1h0M1407.4 1420.5h0M1410.2 1421.6h0M1393.5 1423.6h0M1396.3 1426h0M1389.6 1426h0M1347.9 1429.8h0M1298.9 1429h0M1296.9 1431.4h0M1290.4 1437.1h0M1308.5 1434h0M1307.2 1436h0M1305.8 1437.9h0M1313.9 1436h0M1317 1433.4h0M1320.1 1432.1h0M1326.5 1434.5h0M1328.6 1436.8h0M1330.1 1439.1h0M1322.8 1439.6h0M1326.2 1441.4h0M1310.8 1444.5h0M1361.8 1433.7h0M1366.9 1430.9h0M1377.2 1432.6h0M1381.4 1432.4h0M1374.2 1437.5h0M1378.8 1437.2h0M1380.3 1439.9h0M1388.5 1436.8h0M1394.3 1437.2h0M1401.5 1437.2h0M1404.3 1432.9h0M1406.6 1431.4h0M1394.7 1439.9h0M1396.3 1440.9h0M1402.8 1441.4h0M1357.9 1440.6h0M1336.6 1444.5h0M1381.9 1444.5h0M1377.2 1445.3h0M1372.6 1445.7h0M1368 1446.4h0M1288.1 1445.7h0M1296.9 1447.6h0M1314.3 1447.9h0M1325.5 1445.3h0M1324.7 1448.4h0M1341.7 1449.1h0M1335.5 1451.1h0M1324.7 1451h0M1389.6 1447.9h0M1404.6 1449.9h0M1405.1 1452.2h0M1422.8 1450.4h0M1420.5 1453.8h0M1394.3 1454.2h0M1358.7 1453.5h0M1356.4 1454.2h0M1364.1 1455.3h0M1348.6 1455h0M1338.6 1455.6h0M1284.8 1455.6h0M1305.7 1458.1h0M1313.9 1461.5h0M1332.4 1461.2h0M1401.2 1457.3h0M1408.9 1457.9h0M1428.3 1458.1h0M1340.1 1462.3h0M1346.3 1462.6h0M1407.4 1462h0M1423.2 1461h0M1292.5 1465.7h0M1307.7 1463.8h0M1306.1 1468h0M1311.2 1467.4h0M1315.1 1470.3h0M1349.9 1465.8h0M1357.9 1465.8h0M1364.1 1464.6h0M1341.7 1466.9h0M1338.1 1469.2h0M1335.5 1470.8h0M1381.9 1465.8h0M1396.6 1465.1h0M1408.2 1466.1h0M1426.7 1463.8h0M1433.2 1467.2h0M1434 1469.7h0M1416.4 1469.7h0M1387 1471.1h0M1391.9 1472h0M1370.3 1472h0M1299.2 1474.6h0M1331.3 1475.4h0M1341.2 1477.4h0M1413.6 1475.4h0M1411.3 1476.2h0M1421.6 1474.6h0M1395.8 1483.4h0M1402.3 1482.7h0M1424.4 1480h0M1425.2 1481.1h0M1432.9 1480.8h0M1435.2 1482.8h0M1437.5 1481.9h0M1434.4 1483.9h0M1442.2 1489.6h0M1439.5 1474.2h0M1295 1374.3h0M1314.9 1374.2h0M1278.8 1371.9h0M1282.6 1374.8h0M1304 1373.8h0M1303.8 1381.5h0M1341.6 1378h0M1318.3 1380h0M1318.9 1382.3h0M1283.2 1381.6h0M1284.2 1386.1h0M1293.4 1386.3h0M1291 1389.9h0M1305.1 1384.9h0M1330.8 1382.7h0M1330.5 1386h0M1313.6 1392.2h0M1284.6 1395.6h0M1306.7 1397.7h0M1308.7 1394h0M1302.3 1399.1h0M1337.9 1391.1h0M1336.6 1399h0M1286.5 1401.4h0M1294.2 1406.2h0M1304.8 1412h0M1323.8 1403.5h0M1323 1407.2h0M1312.3 1406.9h0M1319.4 1412.4h0M1331.6 1410h0M1334.1 1413.7h0M1327.2 1411.2h0M1297.3 1416.2h0M1295.9 1416.3h0M1303.7 1413.5h0M1305.5 1424.6h0M1316.7 1417.3h0M1318.5 1424.2h0M1323 1414.2h0M1329.1 1415.3h0M1323.3 1425.6h0M1322.5 1425.4h0M1330.3 1427.3h0M1333.1 1426.3h0M1347.3 1414.9h0M1345.2 1421.9h0" stroke="#7A0E0E"/>
</g>
<rect x="1184.1" y="1243.4" width="261.7" height="250" fill="none" stroke="#333" stroke-width="1.2"/>
<text x="1315.4" y="1227.2" font-size="35.5" text-anchor="middle" font-style="italic" textLength="130" lengthAdjust="spacingAndGlyphs">JCHAIN</text>
<g fill="none" stroke-linecap="round" stroke-width="4.3">
<path d="M1491.3 1246.4h0M1493.3 1249.5h0M1505.2 1248.3h0M1502.3 1251.7h0M1513.9 1250.6h0M1525.5 1252.9h0M1461.3 1257.5h0M1484 1257.8h0M1465.9 1264h0M1467 1267.9h0M1513.4 1263.3h0M1523.5 1261.9h0M1533.2 1261.4h0M1537.8 1265.7h0M1485.9 1270.7h0M1530 1270.7h0M1491.1 1274.2h0M1466.2 1276.8h0M1469.7 1280.7h0M1481.7 1281.2h0M1474.3 1284.6h0M1517.9 1284.1h0M1464.4 1291.2h0M1470.6 1291.1h0M1493 1290.3h0M1487.1 1293.1h0M1489.4 1294.3h0M1476.3 1296.9h0M1484.8 1296.5h0M1513.9 1295.5h0M1468.6 1298.9h0M1466.2 1300h0M1487.4 1300.5h0M1496.4 1301.9h0M1509.2 1303.9h0M1622.4 1299.3h0M1597.4 1304.4h0M1485.9 1305h0M1482.2 1305.7h0M1477.8 1307h0M1490.7 1306.4h0M1470.1 1308.2h0M1479.1 1309.3h0M1473.2 1312.9h0M1475.1 1315.8h0M1485.3 1314.7h0M1623.2 1310.1h0M1591.8 1312.1h0M1506.9 1322.4h0M1515.3 1322.4h0M1467.3 1324h0M1494.9 1325.5h0M1500.6 1325.1h0M1483.3 1327.5h0M1525.8 1329.4h0M1485.6 1330.9h0M1491 1330.5h0M1495.9 1331.4h0M1513.9 1330.6h0M1516 1332.2h0M1501.5 1332.9h0M1505.4 1332.5h0M1503.1 1334.8h0M1508 1335.6h0M1511.6 1335.1h0M1580.4 1327.5h0M1558.3 1329.8h0M1574 1332.2h0M1592 1330.2h0M1494.1 1338.7h0M1540.5 1337.9h0M1510.3 1340.5h0M1481.7 1344.4h0M1501.4 1345.6h0M1506.5 1347.9h0M1500.6 1350.2h0M1513.1 1351h0M1534.6 1347.6h0M1543.1 1349.8h0M1471.7 1349.2h0M1473.2 1351.5h0M1474.8 1352.3h0M1642.9 1348.4h0M1654.1 1348.2h0M1575.3 1359.5h0M1537.8 1360h0M1515 1360.6h0M1514.2 1363.4h0M1622.7 1362.6h0M1535.1 1367.6h0M1536.6 1370.8h0M1504.6 1375h0M1505.7 1376.2h0M1502.6 1377h0M1518.5 1375.3h0M1529.7 1378.1h0M1541.6 1377.6h0M1610.1 1379.6h0M1508 1379.9h0M1545.1 1380.1h0M1591.5 1384.2h0M1503.4 1383.8h0M1513.9 1383.2h0M1511.1 1387h0M1523 1384.5h0M1530.1 1385.5h0M1527.3 1388.1h0M1523.5 1392.3h0M1556.7 1392h0M1594.6 1395.8h0M1651 1399.2h0M1593.5 1409.7h0M1591.5 1410.5h0M1644.9 1405.6h0M1641.8 1407.4h0M1648.7 1410.8h0M1682.4 1410.5h0M1534.8 1422.9h0M1607 1418.2h0M1573.4 1429h0M1594.6 1432.1h0M1603.1 1436.8h0M1636.4 1433.7h0M1654.9 1439.9h0M1668.8 1437.2h0M1632.5 1440.6h0M1611.1 1444.5h0M1599.2 1448.4h0M1664.2 1447.9h0M1679.2 1449.9h0M1697.4 1450.4h0M1559.3 1455.6h0M1589.7 1470.3h0M1708.6 1469.7h0M1666.5 1472h0M1670.4 1483.4h0M1699 1480h0M1709 1483.9h0M1605 1386h0M1588.2 1392.2h0M1559.2 1395.6h0M1597.6 1407.2h0M1608.7 1413.7h0M1591.2 1417.3h0M1597 1425.4h0" stroke="#FDF6EC"/>
<path d="M1656.5 1444.5h0M1656.5 1465.8h0" stroke="#FBD3A2"/>
<path d="M1622.4 1283.5h0M1621.7 1304.7h0M1563.2 1322h0M1547.7 1370.8h0M1571.7 1373.4h0M1590 1397.4h0M1657.2 1401.2h0M1600.3 1405.1h0M1684 1406.3h0M1592.7 1418.2h0M1604.7 1416.7h0M1600.8 1422.9h0M1620.1 1415.9h0M1620.9 1421.3h0M1635.6 1422.1h0M1655.7 1419h0M1682 1420.5h0M1670.8 1426h0M1564.9 1437.1h0M1584.6 1442.2h0M1651.8 1432.6h0M1670.8 1440.9h0M1647.2 1445.7h0M1600 1445.3h0M1695.1 1453.8h0M1697.8 1461h0M1699.8 1481.1h0M1712.1 1481.9h0" stroke="#F9BB88"/>
<path d="M1612.5 1294.2h0M1648.7 1300h0M1586.9 1302.7h0M1500.6 1308.5h0M1610.1 1309.6h0M1643.8 1306.7h0M1620.9 1311.3h0M1619.3 1313.2h0M1614.2 1312.4h0M1566 1320.1h0M1610.5 1319.3h0M1524.2 1336.3h0M1487.1 1336.3h0M1610.1 1332.5h0M1632.5 1331.7h0M1649.5 1332.5h0M1616.3 1335.6h0M1625.5 1339.9h0M1628.3 1344.1h0M1624 1351.3h0M1623.7 1357.2h0M1597.4 1360h0M1578.7 1364.6h0M1563.2 1364.9h0M1643.8 1366.8h0M1666.2 1372.6h0M1577.6 1378.8h0M1530.7 1392h0M1602.3 1385h0M1561.4 1393.5h0M1576 1392.7h0M1612.7 1393h0M1535.1 1411.7h0M1625.1 1402.8h0M1604.7 1424.4h0M1626.3 1424.4h0M1674.7 1414.7h0M1684.8 1421.6h0M1580.4 1437.9h0M1681.2 1431.4h0M1679.7 1452.2h0M1683.5 1457.9h0M1638.7 1464.6h0M1671.2 1465.1h0M1690.9 1469.7h0M1615.8 1477.4h0M1696.2 1474.6h0M1707.5 1480.8h0M1714.1 1474.2h0M1578.4 1381.5h0M1567.9 1386.3h0M1606.2 1410h0M1578.2 1413.5h0" stroke="#F68E5E"/>
<path d="M1484 1289.2h0M1594.6 1293.5h0M1484 1321.2h0M1620.1 1329.4h0M1651 1328.1h0M1543.9 1341h0M1646.4 1339.4h0M1637.6 1347.5h0M1586.1 1369.9h0M1553.3 1374.7h0M1613.2 1380.7h0M1548.2 1381.1h0M1579.1 1384.7h0M1532.3 1398.9h0M1536.3 1400.8h0M1643.3 1412.8h0M1558.6 1414.1h0M1624 1414.4h0M1631.7 1421.6h0M1668.1 1423.6h0M1622.4 1429.8h0M1597.4 1439.6h0M1656 1432.4h0M1653.4 1437.2h0M1676.1 1437.2h0M1642.5 1446.4h0M1668.8 1454.2h0M1638.7 1455.3h0M1580.2 1458.1h0M1607 1461.2h0M1675.8 1457.3h0M1702.9 1458.1h0M1585.8 1467.4h0M1644.9 1472h0M1605.9 1475.4h0M1676.9 1482.7h0M1716.8 1489.6h0M1557.8 1381.6h0M1558.7 1386.1h0M1611.2 1399h0M1568.8 1406.2h0M1598.3 1403.5h0M1619.7 1421.9h0" stroke="#EC654A"/>
<path d="M1620.1 1297.7h0M1572.5 1304.2h0M1498 1313.5h0M1568.3 1318.6h0M1627.9 1319.6h0M1506.1 1324h0M1526.6 1335.9h0M1602.3 1328.6h0M1650 1351.5h0M1528.9 1354.9h0M1573.7 1357.2h0M1561.4 1359.2h0M1567.5 1361.1h0M1601.9 1361.1h0M1647.2 1367.7h0M1606.2 1370h0M1528.1 1376.5h0M1576.5 1376h0M1617 1382.7h0M1603.4 1388.1h0M1591 1391.2h0M1639.8 1388.9h0M1648 1386.2h0M1655.2 1388.4h0M1546.2 1395.8h0M1550.2 1395.8h0M1628.2 1392.7h0M1634.8 1395.4h0M1530.4 1409h0M1568.3 1403.6h0M1569.1 1405.9h0M1606.2 1412.1h0M1613.5 1406.6h0M1638.7 1410h0M1602.3 1413.6h0M1550.5 1419.8h0M1580.4 1415.9h0M1595.4 1422.1h0M1617.8 1419h0M1645.9 1419h0M1653.4 1420.1h0M1664.2 1426h0M1571.4 1431.4h0M1583 1434h0M1581.8 1436h0M1591.5 1433.4h0M1648.7 1437.5h0M1663.1 1436.8h0M1678.9 1432.9h0M1669.3 1439.9h0M1651.8 1445.3h0M1610.1 1451.1h0M1599.2 1451h0M1633.3 1453.5h0M1630.9 1454.2h0M1620.9 1462.6h0M1580.7 1468h0M1610.1 1470.8h0M1701.3 1463.8h0M1661.6 1471.1h0M1709.8 1482.8h0M1553.4 1371.9h0M1616.1 1378h0M1592.8 1380h0M1605.3 1382.7h0M1593.9 1412.4h0M1607.7 1426.3h0" stroke="#D63222"/>
<path d="M1508.5 1276.1h0M1475.5 1300h0M1605.4 1306.4h0M1483.3 1337.9h0M1508 1350.2h0M1588.9 1339.4h0M1576.4 1353.8h0M1634.5 1353.6h0M1590 1363.1h0M1519.6 1377.6h0M1559.8 1377.3h0M1566.8 1388.1h0M1573 1388.9h0M1521.6 1404.3h0M1562.6 1402h0M1579.1 1409h0M1579.9 1412.8h0M1628.6 1409.4h0M1547.4 1428.7h0M1583 1422.4h0M1600 1415.1h0M1599.2 1425.2h0M1616.3 1422.1h0M1588.4 1436h0M1585.3 1444.5h0M1632.5 1465.8h0M1616.3 1466.9h0M1565.5 1389.9h0M1581.3 1397.7h0M1603.7 1415.3h0M1604.8 1427.3h0M1621.9 1414.9h0" stroke="#A81414"/>
<path d="M1470.6 1263.3h0M1496.4 1263.3h0M1520.4 1261.9h0M1481.7 1268.8h0M1496.1 1270.7h0M1547.1 1275.3h0M1620.1 1284.3h0M1616.3 1285.3h0M1613.9 1286.6h0M1629.4 1288.7h0M1627.9 1289.5h0M1478.9 1291.8h0M1464.2 1294.6h0M1629.4 1299.7h0M1639.4 1298.3h0M1604.3 1299.6h0M1571.4 1301.6h0M1581.5 1305.7h0M1579.9 1307.3h0M1616.7 1302.8h0M1494.1 1311.2h0M1637.9 1306.2h0M1559.8 1311.3h0M1642.2 1313.9h0M1577.1 1316.3h0M1582.5 1319.6h0M1614.4 1318.6h0M1619 1318.9h0M1476.3 1325.8h0M1520.1 1326.8h0M1603.4 1331.2h0M1612.1 1330.9h0M1505.7 1341h0M1514.5 1339.4h0M1517.3 1349.9h0M1592.7 1340.2h0M1618.3 1339.1h0M1622.4 1344.4h0M1601.6 1344.8h0M1594.1 1346.8h0M1560.6 1350.2h0M1567.8 1351.8h0M1493.3 1354.9h0M1478.6 1357.5h0M1609.3 1352.9h0M1582.5 1361.5h0M1516.5 1361.8h0M1495.3 1365.7h0M1613.5 1359.1h0M1641 1364.5h0M1573.3 1371.4h0M1590 1372.2h0M1589.2 1375h0M1634.8 1369.2h0M1633.3 1371.6h0M1535.1 1377h0M1620.1 1377.6h0M1636 1377.6h0M1595.1 1382.2h0M1633.3 1382.7h0M1554.4 1383.5h0M1557.5 1384.2h0M1560.6 1385h0M1569.1 1385.8h0M1584.6 1385.5h0M1578.7 1389.6h0M1550.1 1392h0M1563.7 1392h0M1558 1395.1h0M1579.1 1395.1h0M1582.2 1396.6h0M1586.1 1396.6h0M1572.5 1397.4h0M1577.6 1398.1h0M1621.7 1396.1h0M1613.9 1397.4h0M1549.4 1407.4h0M1574.5 1404.3h0M1576 1406.6h0M1590 1400.5h0M1616.7 1400.5h0M1597.7 1406.6h0M1590 1407.4h0M1605.4 1409h0M1615.5 1407.4h0M1633 1407.4h0M1635.6 1412.1h0M1535.5 1426h0M1574.5 1417.9h0M1571.4 1419h0M1578.7 1423.3h0M1597.7 1416.7h0M1609.3 1423.3h0M1610.8 1426.7h0M1608.5 1428.3h0M1617 1415.1h0M1639 1423.6h0M1624.8 1426.7h0M1674.7 1422.1h0M1557.5 1436.5h0M1601.1 1434.5h0M1604.7 1439.1h0M1600.8 1441.4h0M1641.5 1430.9h0M1677.3 1441.4h0M1562.6 1445.7h0M1571.4 1447.6h0M1588.9 1447.9h0M1616.3 1449.1h0M1623.2 1455h0M1613.2 1455.6h0M1588.4 1461.5h0M1614.7 1462.3h0M1682 1462h0M1567.1 1465.7h0M1582.2 1463.8h0M1624.4 1465.8h0M1612.7 1469.2h0M1682.7 1466.1h0M1707.8 1467.2h0M1573.7 1474.6h0M1688.2 1475.4h0M1685.8 1476.2h0M1569.5 1374.3h0M1589.4 1374.2h0M1557.1 1374.8h0M1578.5 1373.8h0M1593.5 1382.3h0M1579.6 1384.9h0M1583.3 1394h0M1576.9 1399.1h0M1612.5 1391.1h0M1561 1401.4h0M1579.4 1412h0M1586.9 1406.9h0M1601.7 1411.2h0M1571.8 1416.2h0M1570.4 1416.3h0M1580 1424.6h0M1593 1424.2h0M1597.6 1414.2h0M1597.8 1425.6h0" stroke="#7A0E0E"/>
</g>
<rect x="1458.6" y="1243.4" width="261.8" height="250" fill="none" stroke="#333" stroke-width="1.2"/>
<text x="1590" y="1227.2" font-size="35.5" text-anchor="middle" font-style="italic" textLength="178" lengthAdjust="spacingAndGlyphs">TNFRSF17</text>
<g fill="none" stroke-linecap="round" stroke-width="4.3">
<path d="M1897.4 1284.3h0M1905.1 1289.5h0M1889.8 1294.2h0M1881.6 1299.6h0M1921.1 1306.7h0M1891.5 1312.4h0M1859.7 1319.6h0M1845.5 1318.6h0M1840.3 1322h0M1772.9 1331.4h0M1887.3 1332.5h0M1926.8 1332.5h0M1794.3 1349.9h0M1905.6 1344.1h0M1878.8 1344.8h0M1920.2 1348.4h0M1886.5 1352.9h0M1840.3 1364.9h0M1848.9 1373.4h0M1836.9 1377.3h0M1897.4 1377.6h0M1850.1 1388.9h0M1856.3 1384.7h0M1861.7 1385.5h0M1855.8 1389.6h0M1880.7 1388.1h0M1925.3 1386.2h0M1856.3 1409h0M1870.7 1409.7h0M1910.3 1407.4h0M1905.9 1409.4h0M1881.9 1424.4h0M1902 1426.7h0M1952.1 1414.7h0M1945.4 1423.6h0M1842.1 1437.1h0M1859 1436h0M1865.6 1436h0M1862.5 1444.5h0M1946.7 1439.9h0M1924.5 1445.7h0M1919.9 1446.4h0M1877.2 1445.3h0M1956.6 1449.9h0M1946.2 1454.2h0M1901.7 1465.8h0M1965.6 1475.4h0M1963.3 1476.2h0M1985 1480.8h0M1842.7 1389.9h0M1858.4 1397.7h0M1897 1421.9h0" stroke="#FDF6EC"/>
<path d="M1887.8 1319.3h0M1893.5 1335.6h0M1921.1 1366.8h0M1853.7 1376h0M1867.2 1407.4h0M1926.1 1410.8h0M1909 1421.6h0M1850.6 1429h0M1916 1464.6h0M1845.9 1406.2h0" stroke="#FBD3A2"/>
<path d="M1864.1 1302.7h0M1887.3 1309.6h0M1896.6 1313.2h0M1909.8 1331.7h0M1899.7 1344.4h0M1931.5 1348.2h0M1838.5 1359.2h0M1874.6 1360h0M1845.5 1403.6h0M1877.5 1405.1h0M1898.2 1421.3h0M1857.4 1458.1h0M1898.2 1462.6h0M1887.3 1470.8h0M1986.5 1483.9h0M1870.1 1380h0M1884.9 1426.3h0" stroke="#F9BB88"/>
<path d="M1926.1 1300h0M1836.9 1311.3h0M1896.3 1318.9h0M1857.6 1327.5h0M1895.5 1339.1h0M1914.9 1347.5h0M1887.3 1379.6h0M1894.3 1382.7h0M1917.1 1388.9h0M1853.2 1392.7h0M1912.9 1412.1h0M1879.6 1413.6h0M1835.7 1414.1h0M1824.5 1428.7h0M1877.2 1415.1h0M1884.2 1418.2h0M1930.7 1420.1h0M1834.6 1436.5h0M1929.2 1432.6h0M1933.3 1432.4h0M1926.1 1437.5h0M1953.5 1437.2h0M1958.6 1431.4h0M1890.4 1455.6h0M1890 1469.2h0M1994.3 1489.6h0M1866.6 1374.2h0M1893.4 1378h0M1882.1 1427.3h0" stroke="#F68E5E"/>
<path d="M1850.9 1357.2h0M1859.7 1361.5h0M1910.6 1382.7h0M1809.3 1398.9h0M1890.7 1406.6h0M1860.2 1422.4h0M1876.5 1425.2h0M1885.8 1428.3h0M1912.9 1422.1h0M1933.8 1444.5h0M1959.4 1462h0M1893.5 1466.9h0M1878.9 1411.2h0M1855.4 1413.5h0M1868.4 1417.3h0M1870.2 1424.2h0" stroke="#EC654A"/>
<path d="M1747 1308.2h0M1805.9 1354.9h0M1793.5 1361.8h0M1788.1 1387h0M1865.6 1461.5h0M1975.2 1461h0M1977.2 1481.1h0M1991.6 1474.2h0M1875.5 1403.5h0" stroke="#D63222"/>
<path d="M1768.3 1246.4h0M1770.3 1249.5h0M1782.2 1248.3h0M1779.3 1251.7h0M1790.9 1250.6h0M1802.5 1252.9h0M1738.2 1257.5h0M1761 1257.8h0M1747.5 1263.3h0M1742.9 1264h0M1743.9 1267.9h0M1773.4 1263.3h0M1790.4 1263.3h0M1797.4 1261.9h0M1800.5 1261.9h0M1810.3 1261.4h0M1814.9 1265.7h0M1758.7 1268.8h0M1762.8 1270.7h0M1773.1 1270.7h0M1807 1270.7h0M1768.1 1274.2h0M1824.2 1275.3h0M1743.2 1276.8h0M1785.5 1276.1h0M1746.6 1280.7h0M1758.7 1281.2h0M1751.2 1284.6h0M1794.9 1284.1h0M1899.7 1283.5h0M1893.5 1285.3h0M1891.2 1286.6h0M1906.7 1288.7h0M1761 1289.2h0M1741.3 1291.2h0M1747.5 1291.1h0M1755.9 1291.8h0M1770 1290.3h0M1764.1 1293.1h0M1766.4 1294.3h0M1741.2 1294.6h0M1753.2 1296.9h0M1761.8 1296.5h0M1790.9 1295.5h0M1745.5 1298.9h0M1743.2 1300h0M1752.5 1300h0M1764.4 1300.5h0M1773.4 1301.9h0M1786.3 1303.9h0M1871.8 1293.5h0M1897.4 1297.7h0M1899.7 1299.3h0M1906.7 1299.7h0M1916.8 1298.3h0M1848.6 1301.6h0M1849.7 1304.2h0M1858.6 1305.7h0M1857.1 1307.3h0M1874.6 1304.4h0M1894 1302.8h0M1898.9 1304.7h0M1762.8 1305h0M1759.1 1305.7h0M1754.8 1307h0M1767.7 1306.4h0M1777.6 1308.5h0M1756 1309.3h0M1771.1 1311.2h0M1750.1 1312.9h0M1774.9 1313.5h0M1752 1315.8h0M1762.2 1314.7h0M1882.7 1306.4h0M1915.2 1306.2h0M1900.5 1310.1h0M1898.2 1311.3h0M1869 1312.1h0M1919.6 1313.9h0M1854.3 1316.3h0M1843.1 1320.1h0M1891.7 1318.6h0M1905.1 1319.6h0M1761 1321.2h0M1783.9 1322.4h0M1783.2 1324h0M1792.3 1322.4h0M1744.2 1324h0M1753.2 1325.8h0M1771.8 1325.5h0M1777.6 1325.1h0M1760.2 1327.5h0M1797.1 1326.8h0M1802.8 1329.4h0M1762.5 1330.9h0M1768 1330.5h0M1790.9 1330.6h0M1793.1 1332.2h0M1778.5 1332.9h0M1782.4 1332.5h0M1780.1 1334.8h0M1785 1335.6h0M1788.6 1335.1h0M1801.3 1336.3h0M1803.6 1335.9h0M1764.1 1336.3h0M1835.4 1329.8h0M1851.2 1332.2h0M1869.2 1330.2h0M1879.6 1328.6h0M1880.7 1331.2h0M1889.3 1330.9h0M1897.4 1329.4h0M1928.4 1328.1h0M1760.2 1337.9h0M1771.1 1338.7h0M1817.6 1337.9h0M1821 1341h0M1782.7 1341h0M1787.3 1340.5h0M1791.5 1339.4h0M1758.7 1344.4h0M1778.3 1345.6h0M1783.5 1347.9h0M1777.6 1350.2h0M1785 1350.2h0M1790.1 1351h0M1811.7 1347.6h0M1820.2 1349.8h0M1748.6 1349.2h0M1750.1 1351.5h0M1751.7 1352.3h0M1866.1 1339.4h0M1870 1340.2h0M1902.8 1339.9h0M1923.7 1339.4h0M1871.3 1346.8h0M1927.3 1351.5h0M1837.7 1350.2h0M1845 1351.8h0M1901.3 1351.3h0M1770.3 1354.9h0M1755.6 1357.5h0M1853.5 1353.8h0M1911.8 1353.6h0M1901 1357.2h0M1844.7 1361.1h0M1852.4 1359.5h0M1814.9 1360h0M1792 1360.6h0M1791.2 1363.4h0M1772.3 1365.7h0M1879.1 1361.1h0M1890.7 1359.1h0M1867.2 1363.1h0M1900 1362.6h0M1855.8 1364.6h0M1812.1 1367.6h0M1918.3 1364.5h0M1924.5 1367.7h0M1813.7 1370.8h0M1824.8 1370.8h0M1850.4 1371.4h0M1863.3 1369.9h0M1867.2 1372.2h0M1866.4 1375h0M1883.4 1370h0M1912.1 1369.2h0M1910.6 1371.6h0M1943.6 1372.6h0M1781.6 1375h0M1782.7 1376.2h0M1779.6 1377h0M1795.6 1375.3h0M1796.6 1377.6h0M1805.2 1376.5h0M1806.7 1378.1h0M1812.1 1377h0M1818.7 1377.6h0M1830.4 1374.7h0M1854.8 1378.8h0M1890.4 1380.7h0M1913.4 1377.6h0M1785 1379.9h0M1822.2 1380.1h0M1825.3 1381.1h0M1872.3 1382.2h0M1868.7 1384.2h0M1780.4 1383.8h0M1790.9 1383.2h0M1800 1384.5h0M1807.2 1385.5h0M1804.4 1388.1h0M1800.5 1392.3h0M1807.8 1392h0M1831.5 1383.5h0M1834.6 1384.2h0M1837.7 1385h0M1846.2 1385.8h0M1843.9 1388.1h0M1879.6 1385h0M1868.2 1391.2h0M1932.6 1388.4h0M1827.2 1392h0M1833.8 1392h0M1840.8 1392h0M1838.5 1393.5h0M1835.1 1395.1h0M1823.3 1395.8h0M1827.3 1395.8h0M1856.3 1395.1h0M1859.4 1396.6h0M1863.3 1396.6h0M1867.2 1397.4h0M1871.8 1395.8h0M1849.7 1397.4h0M1854.8 1398.1h0M1890 1393h0M1905.5 1392.7h0M1912.1 1395.4h0M1898.9 1396.1h0M1891.2 1397.4h0M1813.4 1400.8h0M1798.7 1404.3h0M1807.5 1409h0M1812.1 1411.7h0M1826.6 1407.4h0M1839.7 1402h0M1846.2 1405.9h0M1851.7 1404.3h0M1853.2 1406.6h0M1857.1 1412.8h0M1867.2 1400.5h0M1894 1400.5h0M1902.3 1402.8h0M1928.4 1399.2h0M1934.6 1401.2h0M1874.9 1406.6h0M1868.7 1410.5h0M1882.7 1409h0M1883.4 1412.1h0M1892.7 1407.4h0M1922.2 1405.6h0M1919.1 1407.4h0M1916 1410h0M1920.6 1412.8h0M1961.4 1406.3h0M1959.9 1410.5h0M1827.6 1419.8h0M1811.8 1422.9h0M1812.6 1426h0M1851.7 1417.9h0M1848.6 1419h0M1857.6 1415.9h0M1855.8 1423.3h0M1870 1418.2h0M1872.6 1422.1h0M1874.9 1416.7h0M1881.9 1416.7h0M1878 1422.9h0M1886.5 1423.3h0M1888.1 1426.7h0M1894.3 1415.1h0M1897.4 1415.9h0M1901.3 1414.4h0M1895.1 1419h0M1893.5 1422.1h0M1916.3 1423.6h0M1903.6 1424.4h0M1923.3 1419h0M1933 1419h0M1952.1 1422.1h0M1959.4 1420.5h0M1962.2 1421.6h0M1948.2 1426h0M1941.6 1426h0M1899.7 1429.8h0M1848.6 1431.4h0M1860.2 1434h0M1857.6 1437.9h0M1868.7 1433.4h0M1871.8 1432.1h0M1878.3 1434.5h0M1880.3 1436.8h0M1881.9 1439.1h0M1874.6 1439.6h0M1878 1441.4h0M1861.7 1442.2h0M1913.7 1433.7h0M1918.8 1430.9h0M1930.7 1437.2h0M1932.3 1439.9h0M1940.5 1436.8h0M1946.2 1437.2h0M1956.3 1432.9h0M1948.2 1440.9h0M1954.7 1441.4h0M1909.8 1440.6h0M1888.4 1444.5h0M1929.2 1445.3h0M1839.7 1445.7h0M1848.6 1447.6h0M1866.1 1447.9h0M1876.5 1448.4h0M1893.5 1449.1h0M1887.3 1451.1h0M1876.5 1451h0M1941.6 1447.9h0M1957.1 1452.2h0M1974.9 1450.4h0M1972.6 1453.8h0M1910.6 1453.5h0M1908.2 1454.2h0M1916 1455.3h0M1900.5 1455h0M1836.5 1455.6h0M1884.2 1461.2h0M1953.2 1457.3h0M1960.9 1457.9h0M1980.3 1458.1h0M1892 1462.3h0M1844.2 1465.7h0M1859.4 1463.8h0M1857.9 1468h0M1863 1467.4h0M1866.9 1470.3h0M1909.8 1465.8h0M1933.8 1465.8h0M1948.5 1465.1h0M1960.2 1466.1h0M1978.8 1463.8h0M1985.3 1467.2h0M1986 1469.7h0M1968.4 1469.7h0M1938.9 1471.1h0M1943.9 1472h0M1922.2 1472h0M1850.9 1474.6h0M1883.1 1475.4h0M1893 1477.4h0M1973.7 1474.6h0M1947.8 1483.4h0M1954.3 1482.7h0M1976.4 1480h0M1987.3 1482.8h0M1989.6 1481.9h0M1846.7 1374.3h0M1830.5 1371.9h0M1834.3 1374.8h0M1855.7 1373.8h0M1855.6 1381.5h0M1870.7 1382.3h0M1834.9 1381.6h0M1835.9 1386.1h0M1845.1 1386.3h0M1856.8 1384.9h0M1882.6 1382.7h0M1882.3 1386h0M1865.4 1392.2h0M1836.3 1395.6h0M1860.4 1394h0M1854.1 1399.1h0M1889.7 1391.1h0M1888.4 1399h0M1838.2 1401.4h0M1856.6 1412h0M1874.8 1407.2h0M1864.1 1406.9h0M1871.1 1412.4h0M1883.4 1410h0M1885.9 1413.7h0M1849 1416.2h0M1847.6 1416.3h0M1857.2 1424.6h0M1874.8 1414.2h0M1880.9 1415.3h0M1875 1425.6h0M1874.3 1425.4h0M1899.1 1414.9h0" stroke="#7A0E0E"/>
</g>
<rect x="1735.5" y="1243.4" width="262.4" height="250" fill="none" stroke="#333" stroke-width="1.2"/>
<text x="1867.2" y="1227.2" font-size="35.5" text-anchor="middle" font-style="italic" textLength="103" lengthAdjust="spacingAndGlyphs">IGHA1</text>
<g fill="none" stroke-linecap="round" stroke-width="4.3">
<path d="M1216.8 1551h0M1218.8 1554.1h0M1230.7 1552.9h0M1239.4 1555.2h0M1251 1557.5h0M1186.8 1562.1h0M1209.5 1562.4h0M1196.1 1567.8h0M1238.9 1567.8h0M1245.9 1566.4h0M1248.9 1566.4h0M1211.4 1575.2h0M1221.6 1575.2h0M1255.4 1575.2h0M1272.6 1579.9h0M1199.8 1589.1h0M1243.4 1588.7h0M1347.9 1588.1h0M1341.7 1589.9h0M1189.9 1595.8h0M1196.1 1595.6h0M1204.4 1596.4h0M1218.5 1594.9h0M1214.9 1598.9h0M1189.7 1599.2h0M1201.8 1601.5h0M1210.3 1601h0M1239.4 1600.1h0M1194.1 1603.5h0M1191.7 1604.6h0M1201 1604.6h0M1212.9 1605h0M1338 1598.7h0M1364.9 1602.9h0M1312.3 1607.2h0M1347.1 1609.2h0M1203.3 1611.5h0M1216.2 1610.9h0M1195.6 1612.8h0M1226.1 1613.1h0M1204.6 1613.8h0M1219.6 1615.7h0M1198.7 1617.4h0M1223.4 1618h0M1200.6 1620.3h0M1335.5 1614.2h0M1346.3 1615.9h0M1344.8 1617.7h0M1339.7 1616.9h0M1285.3 1615.9h0M1308 1624.2h0M1288.7 1626.5h0M1336 1623.9h0M1339.8 1623.1h0M1344.5 1623.4h0M1209.5 1625.7h0M1232.4 1627h0M1240.8 1627h0M1220.3 1630.1h0M1226.1 1629.6h0M1208.8 1632.1h0M1211.1 1635.5h0M1216.5 1635h0M1221.4 1635.9h0M1239.4 1635.2h0M1241.5 1636.7h0M1227 1637.5h0M1230.9 1637h0M1228.5 1639.3h0M1237 1639.6h0M1249.7 1640.9h0M1299.5 1636.7h0M1337.5 1635.5h0M1357.9 1636.2h0M1374.9 1637h0M1341.7 1640.1h0M1208.8 1642.4h0M1219.6 1643.2h0M1265.9 1642.4h0M1269.3 1645.5h0M1231.2 1645.5h0M1235.8 1645h0M1240 1644h0M1207.2 1648.9h0M1226.8 1650.1h0M1231.9 1652.4h0M1226.1 1654.8h0M1233.5 1654.8h0M1242.8 1654.5h0M1260.1 1652.1h0M1268.6 1654.3h0M1198.7 1656h0M1200.2 1656.8h0M1314.3 1644h0M1343.7 1643.6h0M1371.8 1644h0M1353.8 1648.6h0M1327 1649.4h0M1319.6 1651.4h0M1368.3 1652.9h0M1379.6 1652.8h0M1375.4 1656h0M1286 1654.8h0M1293.3 1656.3h0M1349.4 1655.8h0M1218.8 1659.4h0M1204.1 1662h0M1254.4 1659.4h0M1301.8 1658.3h0M1359.9 1658.2h0M1293 1665.6h0M1308 1666h0M1263.3 1664.5h0M1240.4 1665.1h0M1242 1666.3h0M1220.8 1670.2h0M1322.8 1664.5h0M1338.9 1663.6h0M1348.2 1667.1h0M1262.1 1675.3h0M1315.4 1676.7h0M1360.2 1673.7h0M1391.6 1677.1h0M1230.1 1679.5h0M1228.1 1681.5h0M1245.1 1682.1h0M1255.1 1682.5h0M1260.5 1681.5h0M1267 1682.1h0M1278.8 1679.2h0M1302 1680.5h0M1303 1683.3h0M1233.5 1684.4h0M1270.6 1684.6h0M1342.5 1687.2h0M1228.8 1688.3h0M1248.5 1689h0M1255.6 1690h0M1252.8 1692.6h0M1256.2 1696.4h0M1283 1688.7h0M1294.5 1690.3h0M1292.2 1692.6h0M1304.6 1689.2h0M1328.9 1692.6h0M1380.6 1692.9h0M1289.1 1696.4h0M1301.5 1697.2h0M1315.4 1701.8h0M1347.1 1700.6h0M1339.4 1701.8h0M1274.9 1711.9h0M1288.1 1706.5h0M1293.8 1708h0M1294.5 1710.3h0M1325.8 1709.6h0M1330.9 1713.4h0M1367.2 1711.9h0M1364.1 1714.5h0M1361 1716.5h0M1374.2 1715.3h0M1407.9 1715h0M1300 1722.4h0M1305.8 1720.4h0M1304.1 1727.8h0M1330.1 1721.1h0M1330.1 1728.9h0M1341.7 1726.6h0M1346.3 1725.8h0M1357.2 1726.1h0M1361 1726.6h0M1371.4 1723.5h0M1381.1 1723.5h0M1400.1 1719.1h0M1400.1 1726.6h0M1410.2 1726.1h0M1396.3 1730.4h0M1298.9 1733.5h0M1296.9 1735.8h0M1307.2 1740.4h0M1320.1 1736.6h0M1326.5 1738.9h0M1328.6 1741.2h0M1380.3 1744.3h0M1388.5 1741.2h0M1394.3 1741.7h0M1401.5 1741.7h0M1404.3 1737.4h0M1394.7 1744.3h0M1396.3 1745.4h0M1402.8 1745.9h0M1368 1750.8h0M1296.9 1752h0M1324.7 1752.8h0M1335.5 1755.6h0M1394.3 1758.7h0M1348.6 1759.4h0M1408.9 1762.4h0M1407.4 1766.4h0M1423.2 1765.5h0M1292.5 1770.1h0M1311.2 1771.8h0M1349.9 1770.2h0M1396.6 1769.5h0M1408.2 1770.6h0M1387 1775.5h0M1331.3 1779.8h0M1395.8 1787.8h0M1424.4 1784.4h0M1425.2 1785.5h0M1435.2 1787.2h0M1314.9 1678.7h0M1318.3 1684.4h0M1283.2 1686.1h0M1291 1694.3h0M1313.6 1696.7h0M1306.7 1702.2h0M1286.5 1705.8h0M1294.2 1710.6h0M1323.8 1708h0M1331.6 1714.5h0M1297.3 1720.7h0M1305.5 1729.1h0M1345.2 1726.3h0" stroke="#FDF6EC"/>
<path d="M1345.6 1588.8h0M1306.9 1610.3h0M1305.4 1611.8h0M1363.3 1610.8h0M1367.7 1618.5h0M1335.5 1637h0M1311.5 1701.1h0M1376.5 1703.7h0M1319 1714.2h0M1340.9 1711.9h0M1261 1730.4h0M1320.8 1726.6h0M1343.2 1723.5h0M1364.4 1728.1h0M1317 1737.8h0M1378.8 1741.7h0M1336.6 1748.9h0M1338.6 1760.1h0M1346.3 1767h0M1307.7 1768.2h0M1413.6 1779.8h0M1411.3 1780.6h0M1421.6 1779h0M1437.5 1786.3h0M1434.4 1788.3h0M1293.4 1690.8h0M1305.1 1689.3h0" stroke="#FBD3A2"/>
<path d="M1345.6 1602.3h0M1297.9 1608.7h0M1299.2 1661.7h0M1334.7 1657.4h0M1303 1702.6h0M1409.4 1710.8h0M1296.9 1723.5h0M1318.2 1722.7h0M1389.6 1730.4h0M1330.1 1743.5h0M1314.3 1752.3h0M1405.1 1756.7h0M1433.2 1771.6h0M1334.1 1718.2h0M1318.5 1728.6h0" stroke="#F9BB88"/>
<path d="M1315.4 1667.6h0M1239.4 1687.6h0M1236.6 1691.5h0M1316.5 1695.7h0M1307.7 1701.1h0M1257.8 1703.4h0M1300 1708.8h0M1368.7 1717.3h0M1334.7 1727.8h0M1342.5 1719.6h0M1345.6 1720.4h0M1350.2 1731.2h0M1406.6 1735.8h0M1338.1 1773.6h0M1381.9 1770.2h0M1391.9 1776.4h0M1284.2 1690.6h0" stroke="#F68E5E"/>
<path d="M1233.9 1580.7h0M1207.2 1585.7h0M1212.6 1597.6h0M1197.2 1653.7h0M1327.3 1665.6h0M1335.5 1684.1h0M1407.4 1725h0M1372.6 1750.2h0M1401.2 1761.8h0M1402.3 1787.1h0" stroke="#EC654A"/>
<path d="M1191.4 1568.6h0M1258.7 1566h0M1209.5 1593.8h0M1251.3 1633.9h0M1233.5 1640.1h0M1248.9 1696.8h0" stroke="#D63222"/>
<path d="M1227.8 1556.3h0M1192.5 1572.5h0M1221.9 1567.8h0M1263.3 1570.3h0M1207.2 1573.4h0M1216.6 1578.8h0M1191.7 1581.4h0M1195.1 1585.3h0M1339.4 1591.1h0M1354.8 1593.3h0M1353.3 1594.1h0M1221.9 1606.4h0M1234.7 1608.4h0M1320.1 1598.1h0M1347.9 1603.8h0M1354.8 1604.3h0M1374.2 1604.6h0M1329.8 1604.1h0M1296.9 1606.1h0M1322.8 1608.9h0M1342.2 1607.4h0M1211.4 1609.5h0M1207.7 1610.3h0M1210.8 1619.2h0M1330.9 1610.9h0M1369.2 1611.2h0M1348.6 1614.6h0M1317.3 1616.6h0M1302.6 1620.8h0M1293.8 1623.1h0M1291.5 1624.7h0M1353.3 1624.2h0M1231.6 1628.5h0M1192.8 1628.5h0M1201.8 1630.4h0M1245.5 1631.3h0M1252 1640.4h0M1212.6 1640.9h0M1305.8 1632.1h0M1283.7 1634.4h0M1317.4 1634.7h0M1327.8 1633.1h0M1328.9 1635.8h0M1345.6 1633.9h0M1376.5 1632.7h0M1238.6 1655.5h0M1318.2 1644.7h0M1351 1644.4h0M1347.9 1648.9h0M1363 1652h0M1349.1 1661.7h0M1286.8 1663.7h0M1300.7 1664h0M1239.7 1667.9h0M1304.1 1669.1h0M1288.7 1669.4h0M1260.5 1672.1h0M1366.4 1669h0M1369.2 1671.3h0M1372.6 1672.2h0M1273.2 1675.3h0M1298.7 1675.9h0M1297.2 1677.9h0M1311.5 1674.4h0M1314.6 1679.5h0M1331.6 1674.5h0M1358.7 1676.1h0M1231.2 1680.7h0M1244 1679.8h0M1253.6 1681h0M1285.3 1681.8h0M1338.6 1685.2h0M1345.6 1682.1h0M1361.5 1682.1h0M1273.7 1685.6h0M1320.5 1686.7h0M1317 1688.7h0M1358.7 1687.2h0M1279.9 1688h0M1286 1689.5h0M1298.4 1693.4h0M1310 1690h0M1304.1 1694.1h0M1327.8 1689.5h0M1365.2 1693.4h0M1373.4 1690.7h0M1275.5 1696.4h0M1282.2 1696.4h0M1286.8 1698h0M1283.4 1699.5h0M1271.7 1700.3h0M1275.7 1700.3h0M1304.6 1699.5h0M1320.1 1700.3h0M1297.9 1701.8h0M1338.1 1697.5h0M1353.6 1697.2h0M1360.2 1699.8h0M1261.8 1705.2h0M1247.1 1708.8h0M1255.9 1713.4h0M1260.5 1716.2h0M1301.5 1711.1h0M1304.6 1713.4h0M1305.4 1717.3h0M1315.4 1704.9h0M1342.2 1704.9h0M1350.5 1707.3h0M1382.7 1705.7h0M1323.1 1711.1h0M1315.4 1711.9h0M1317 1715h0M1331.6 1716.5h0M1338.9 1711.1h0M1358.4 1711.9h0M1354.1 1713.9h0M1370.3 1710h0M1327.8 1718.1h0M1284 1718.5h0M1276 1724.2h0M1260.2 1727.3h0M1272.9 1733.2h0M1308.5 1726.9h0M1325.5 1719.6h0M1323.1 1721.1h0M1332.4 1722.7h0M1326.2 1727.3h0M1324.7 1729.6h0M1336.3 1731.2h0M1334 1732.7h0M1349.4 1718.8h0M1351.7 1728.9h0M1378.8 1724.5h0M1393.5 1728.1h0M1347.9 1734.3h0M1283 1740.9h0M1290.4 1741.5h0M1308.5 1738.4h0M1305.8 1742.3h0M1313.9 1740.4h0M1322.8 1744h0M1326.2 1745.9h0M1310 1746.6h0M1310.8 1748.9h0M1361.8 1738.1h0M1366.9 1735.4h0M1377.2 1737.1h0M1381.4 1736.9h0M1374.2 1742h0M1357.9 1745.1h0M1381.9 1748.9h0M1377.2 1749.7h0M1288.1 1750.2h0M1325.5 1749.7h0M1341.7 1753.6h0M1324.7 1755.4h0M1389.6 1752.3h0M1404.6 1754.3h0M1422.8 1754.8h0M1420.5 1758.2h0M1358.7 1757.9h0M1356.4 1758.7h0M1364.1 1759.7h0M1284.8 1760.1h0M1305.7 1762.5h0M1313.9 1765.9h0M1332.4 1765.6h0M1428.3 1762.5h0M1340.1 1766.7h0M1306.1 1772.4h0M1315.1 1774.7h0M1357.9 1770.2h0M1364.1 1769h0M1341.7 1771.3h0M1335.5 1775.2h0M1426.7 1768.2h0M1434 1774.1h0M1416.4 1774.1h0M1370.3 1776.4h0M1299.2 1779h0M1341.2 1781.8h0M1432.9 1785.2h0M1442.2 1794h0M1439.5 1778.6h0M1295 1678.8h0M1278.8 1676.4h0M1282.6 1679.3h0M1304 1678.3h0M1303.8 1686h0M1341.6 1682.5h0M1318.9 1686.8h0M1330.8 1687.2h0M1330.5 1690.5h0M1284.6 1700.1h0M1308.7 1698.5h0M1302.3 1703.6h0M1337.9 1695.6h0M1336.6 1703.4h0M1304.8 1716.4h0M1323 1711.6h0M1312.3 1711.4h0M1319.4 1716.9h0M1327.2 1715.7h0M1295.9 1720.8h0M1303.7 1718h0M1316.7 1721.8h0M1323 1718.7h0M1329.1 1719.7h0M1323.3 1730h0M1322.5 1729.9h0M1330.3 1731.7h0M1333.1 1730.7h0M1347.3 1719.4h0" stroke="#7A0E0E"/>
</g>
<rect x="1184.1" y="1548" width="261.7" height="249.8" fill="none" stroke="#333" stroke-width="1.2"/>
<text x="1315.4" y="1535.8" font-size="35.5" text-anchor="middle" font-style="italic" textLength="107" lengthAdjust="spacingAndGlyphs">IGHA2</text>
<g fill="none" stroke-linecap="round" stroke-width="4.3">
<path d="M1491.3 1551h0M1493.3 1554.1h0M1505.2 1552.9h0M1502.3 1556.3h0M1513.9 1555.2h0M1525.5 1557.5h0M1461.3 1562.1h0M1484 1562.4h0M1470.6 1567.8h0M1496.4 1567.8h0M1520.4 1566.4h0M1523.5 1566.4h0M1533.2 1566h0M1537.8 1570.3h0M1485.9 1575.2h0M1530 1575.2h0M1547.1 1579.9h0M1466.2 1581.4h0M1508.5 1580.7h0M1469.7 1585.3h0M1481.7 1585.7h0M1474.3 1589.1h0M1622.4 1588.1h0M1620.1 1588.8h0M1616.3 1589.9h0M1613.9 1591.1h0M1629.4 1593.3h0M1627.9 1594.1h0M1484 1593.8h0M1464.4 1595.8h0M1470.6 1595.6h0M1478.9 1596.4h0M1487.1 1597.6h0M1464.2 1599.2h0M1476.3 1601.5h0M1484.8 1601h0M1513.9 1600.1h0M1468.6 1603.5h0M1466.2 1604.6h0M1475.5 1604.6h0M1487.4 1605h0M1496.4 1606.4h0M1509.2 1608.4h0M1594.6 1598.1h0M1629.4 1604.3h0M1639.4 1602.9h0M1604.3 1604.1h0M1571.4 1606.1h0M1572.5 1608.7h0M1586.9 1607.2h0M1581.5 1610.3h0M1597.4 1608.9h0M1616.7 1607.4h0M1621.7 1609.2h0M1485.9 1609.5h0M1477.8 1611.5h0M1490.7 1610.9h0M1470.1 1612.8h0M1479.1 1613.8h0M1494.1 1615.7h0M1473.2 1617.4h0M1498 1618h0M1485.3 1619.2h0M1605.4 1610.9h0M1610.1 1614.2h0M1637.9 1610.8h0M1643.8 1611.2h0M1623.2 1614.6h0M1620.9 1615.9h0M1619.3 1617.7h0M1591.8 1616.6h0M1559.8 1615.9h0M1642.2 1618.5h0M1577.1 1620.8h0M1582.5 1624.2h0M1566 1624.7h0M1563.2 1626.5h0M1614.4 1623.1h0M1619 1623.4h0M1627.9 1624.2h0M1484 1625.7h0M1506.9 1627h0M1506.1 1628.5h0M1515.3 1627h0M1467.3 1628.5h0M1476.3 1630.4h0M1494.9 1630.1h0M1500.6 1629.6h0M1483.3 1632.1h0M1525.8 1633.9h0M1485.6 1635.5h0M1491 1635h0M1495.9 1635.9h0M1513.9 1635.2h0M1501.5 1637.5h0M1505.4 1637h0M1503.1 1639.3h0M1508 1640.1h0M1511.6 1639.6h0M1524.2 1640.9h0M1526.6 1640.4h0M1487.1 1640.9h0M1580.4 1632.1h0M1558.3 1634.4h0M1574 1636.7h0M1592 1634.7h0M1602.3 1633.1h0M1603.4 1635.8h0M1612.1 1635.5h0M1610.1 1637h0M1620.1 1633.9h0M1632.5 1636.2h0M1651 1632.7h0M1649.5 1637h0M1616.3 1640.1h0M1483.3 1642.4h0M1494.1 1643.2h0M1540.5 1642.4h0M1543.9 1645.5h0M1505.7 1645.5h0M1510.3 1645h0M1514.5 1644h0M1481.7 1648.9h0M1501.4 1650.1h0M1500.6 1654.8h0M1513.1 1655.5h0M1517.3 1654.5h0M1534.6 1652.1h0M1543.1 1654.3h0M1471.7 1653.7h0M1473.2 1656h0M1474.8 1656.8h0M1588.9 1644h0M1592.7 1644.7h0M1625.5 1644.4h0M1646.4 1644h0M1622.4 1648.9h0M1628.3 1648.6h0M1601.6 1649.4h0M1594.1 1651.4h0M1637.6 1652h0M1642.9 1652.9h0M1650 1656h0M1560.6 1654.8h0M1624 1655.8h0M1493.3 1659.4h0M1528.9 1659.4h0M1576.4 1658.3h0M1573.7 1661.7h0M1634.5 1658.2h0M1623.7 1661.7h0M1561.4 1663.7h0M1567.5 1665.6h0M1575.3 1664h0M1582.5 1666h0M1537.8 1664.5h0M1515 1665.1h0M1514.2 1667.9h0M1495.3 1670.2h0M1601.9 1665.6h0M1622.7 1667.1h0M1578.7 1669.1h0M1563.2 1669.4h0M1535.1 1672.1h0M1643.8 1671.3h0M1647.2 1672.2h0M1536.6 1675.3h0M1547.7 1675.3h0M1573.3 1675.9h0M1571.7 1677.9h0M1586.1 1674.4h0M1590 1676.7h0M1589.2 1679.5h0M1606.2 1674.5h0M1505.7 1680.7h0M1502.6 1681.5h0M1518.5 1679.8h0M1519.6 1682.1h0M1529.7 1682.5h0M1535.1 1681.5h0M1541.6 1682.1h0M1553.3 1679.2h0M1559.8 1681.8h0M1576.5 1680.5h0M1577.6 1683.3h0M1610.1 1684.1h0M1545.1 1684.6h0M1548.2 1685.6h0M1591.5 1688.7h0M1633.3 1687.2h0M1503.4 1688.3h0M1513.9 1687.6h0M1511.1 1691.5h0M1530.1 1690h0M1530.7 1696.4h0M1557.5 1688.7h0M1560.6 1689.5h0M1569.1 1690.3h0M1566.8 1692.6h0M1579.1 1689.2h0M1584.6 1690h0M1578.7 1694.1h0M1591 1695.7h0M1648 1690.7h0M1655.2 1692.9h0M1550.1 1696.4h0M1558 1699.5h0M1576 1697.2h0M1582.2 1701.1h0M1586.1 1701.1h0M1577.6 1702.6h0M1621.7 1700.6h0M1613.9 1701.8h0M1532.3 1703.4h0M1536.3 1705.2h0M1521.6 1708.8h0M1535.1 1716.2h0M1549.4 1711.9h0M1562.6 1706.5h0M1568.3 1708h0M1576 1711.1h0M1616.7 1704.9h0M1651 1703.7h0M1657.2 1705.7h0M1600.3 1709.6h0M1597.7 1711.1h0M1590 1711.9h0M1593.5 1714.2h0M1591.5 1715h0M1605.4 1713.4h0M1615.5 1711.9h0M1633 1711.9h0M1628.6 1713.9h0M1644.9 1710h0M1641.8 1711.9h0M1638.7 1714.5h0M1635.6 1716.5h0M1643.3 1717.3h0M1684 1710.8h0M1682.4 1715h0M1558.6 1718.5h0M1534.8 1727.3h0M1535.5 1730.4h0M1574.5 1722.4h0M1571.4 1723.5h0M1580.4 1720.4h0M1583 1726.9h0M1578.7 1727.8h0M1595.4 1726.6h0M1600 1719.6h0M1597.7 1721.1h0M1600.8 1727.3h0M1599.2 1729.6h0M1609.3 1727.8h0M1610.8 1731.2h0M1608.5 1732.7h0M1620.1 1720.4h0M1624 1718.8h0M1616.3 1726.6h0M1631.7 1726.1h0M1635.6 1726.6h0M1624.8 1731.2h0M1653.4 1724.5h0M1655.7 1723.5h0M1674.7 1719.1h0M1684.8 1726.1h0M1668.1 1728.1h0M1670.8 1730.4h0M1664.2 1730.4h0M1573.4 1733.5h0M1557.5 1740.9h0M1564.9 1741.5h0M1583 1738.4h0M1581.8 1740.4h0M1580.4 1742.3h0M1588.4 1740.4h0M1591.5 1737.8h0M1604.7 1743.5h0M1597.4 1744h0M1600.8 1745.9h0M1584.6 1746.6h0M1636.4 1738.1h0M1641.5 1735.4h0M1651.8 1737.1h0M1656 1736.9h0M1653.4 1741.7h0M1654.9 1744.3h0M1668.8 1741.7h0M1678.9 1737.4h0M1669.3 1744.3h0M1670.8 1745.4h0M1677.3 1745.9h0M1611.1 1748.9h0M1651.8 1749.7h0M1588.9 1752.3h0M1600 1749.7h0M1610.1 1755.6h0M1599.2 1755.4h0M1664.2 1752.3h0M1679.7 1756.7h0M1697.4 1754.8h0M1695.1 1758.2h0M1668.8 1758.7h0M1638.7 1759.7h0M1559.3 1760.1h0M1580.2 1762.5h0M1588.4 1765.9h0M1607 1765.6h0M1675.8 1761.8h0M1683.5 1762.4h0M1702.9 1762.5h0M1614.7 1766.7h0M1697.8 1765.5h0M1567.1 1770.1h0M1582.2 1768.2h0M1580.7 1772.4h0M1585.8 1771.8h0M1589.7 1774.7h0M1624.4 1770.2h0M1632.5 1770.2h0M1616.3 1771.3h0M1682.7 1770.6h0M1701.3 1768.2h0M1707.8 1771.6h0M1690.9 1774.1h0M1666.5 1776.4h0M1573.7 1779h0M1605.9 1779.8h0M1615.8 1781.8h0M1696.2 1779h0M1670.4 1787.8h0M1699 1784.4h0M1699.8 1785.5h0M1707.5 1785.2h0M1709.8 1787.2h0M1712.1 1786.3h0M1709 1788.3h0M1716.8 1794h0M1589.4 1678.7h0M1553.4 1676.4h0M1578.5 1678.3h0M1592.8 1684.4h0M1593.5 1686.8h0M1567.9 1690.8h0M1565.5 1694.3h0M1605.3 1687.2h0M1588.2 1696.7h0M1559.2 1700.1h0M1583.3 1698.5h0M1561 1705.8h0M1598.3 1708h0M1586.9 1711.4h0M1593.9 1716.9h0M1606.2 1714.5h0M1608.7 1718.2h0M1601.7 1715.7h0M1571.8 1720.7h0M1570.4 1720.8h0M1578.2 1718h0M1580 1729.1h0M1591.2 1721.8h0M1593 1728.6h0M1603.7 1719.7h0M1597.8 1730h0M1597 1729.9h0M1619.7 1726.3h0" stroke="#FDF6EC"/>
<path d="M1579.9 1611.8h0M1634.8 1673.7h0M1530.4 1713.4h0M1590 1704.9h0M1622.4 1734.3h0M1585.3 1748.9h0" stroke="#FBD3A2"/>
<path d="M1612.5 1598.7h0M1622.4 1603.8h0M1610.5 1623.9h0M1618.3 1643.6h0M1567.8 1656.3h0M1590 1667.6h0M1603.4 1692.6h0M1550.2 1700.3h0M1594.6 1700.3h0M1612.7 1697.5h0M1617 1719.6h0M1620.9 1725.8h0M1676.1 1741.7h0M1562.6 1750.2h0M1682 1766.4h0M1612.7 1773.6h0M1576.9 1703.6h0M1612.5 1695.6h0M1611.2 1703.4h0M1568.8 1710.6h0M1579.4 1716.4h0M1597.6 1718.7h0" stroke="#F9BB88"/>
<path d="M1628.2 1697.2h0M1592.7 1722.7h0M1682 1725h0M1623.2 1759.4h0M1671.2 1769.5h0M1714.1 1778.6h0" stroke="#F68E5E"/>
<path d="M1508 1684.4h0M1674.7 1726.6h0M1644.9 1776.4h0M1688.2 1779.8h0M1685.8 1780.6h0" stroke="#EC654A"/>
<path d="M1648.7 1742h0M1656.5 1770.2h0" stroke="#D63222"/>
<path d="M1465.9 1568.6h0M1467 1572.5h0M1513.4 1567.8h0M1481.7 1573.4h0M1496.1 1575.2h0M1491.1 1578.8h0M1517.9 1588.7h0M1493 1594.9h0M1489.4 1598.9h0M1620.1 1602.3h0M1648.7 1604.6h0M1482.2 1610.3h0M1500.6 1613.1h0M1475.1 1620.3h0M1614.2 1616.9h0M1568.3 1623.1h0M1520.1 1631.3h0M1516 1636.7h0M1506.5 1652.4h0M1508 1654.8h0M1654.1 1652.8h0M1478.6 1662h0M1609.3 1657.4h0M1516.5 1666.3h0M1597.4 1664.5h0M1613.5 1663.6h0M1641 1669h0M1633.3 1676.1h0M1666.2 1677.1h0M1504.6 1679.5h0M1528.1 1681h0M1613.2 1685.2h0M1620.1 1682.1h0M1636 1682.1h0M1595.1 1686.7h0M1617 1687.2h0M1523 1689h0M1527.3 1692.6h0M1523.5 1696.8h0M1554.4 1688h0M1573 1693.4h0M1602.3 1689.5h0M1639.8 1693.4h0M1556.7 1696.4h0M1563.7 1696.4h0M1561.4 1698h0M1546.2 1700.3h0M1579.1 1699.5h0M1590 1701.8h0M1572.5 1701.8h0M1634.8 1699.8h0M1569.1 1710.3h0M1574.5 1708.8h0M1579.1 1713.4h0M1579.9 1717.3h0M1625.1 1707.3h0M1606.2 1716.5h0M1613.5 1711.1h0M1648.7 1715.3h0M1602.3 1718.1h0M1550.5 1724.2h0M1547.4 1733.2h0M1604.7 1721.1h0M1607 1722.7h0M1604.7 1728.9h0M1617.8 1723.5h0M1639 1728.1h0M1626.3 1728.9h0M1645.9 1723.5h0M1571.4 1735.8h0M1594.6 1736.6h0M1601.1 1738.9h0M1603.1 1741.2h0M1663.1 1741.2h0M1681.2 1735.8h0M1632.5 1745.1h0M1656.5 1748.9h0M1647.2 1750.2h0M1642.5 1750.8h0M1571.4 1752h0M1599.2 1752.8h0M1616.3 1753.6h0M1679.2 1754.3h0M1633.3 1757.9h0M1630.9 1758.7h0M1613.2 1760.1h0M1620.9 1767h0M1638.7 1769h0M1610.1 1775.2h0M1708.6 1774.1h0M1661.6 1775.5h0M1676.9 1787.1h0M1569.5 1678.8h0M1557.1 1679.3h0M1578.4 1686h0M1616.1 1682.5h0M1557.8 1686.1h0M1558.7 1690.6h0M1579.6 1689.3h0M1605 1690.5h0M1581.3 1702.2h0M1597.6 1711.6h0M1604.8 1731.7h0M1607.7 1730.7h0M1621.9 1719.4h0" stroke="#7A0E0E"/>
</g>
<rect x="1458.6" y="1548" width="261.8" height="249.8" fill="none" stroke="#333" stroke-width="1.2"/>
<text x="1590" y="1535.8" font-size="35.5" text-anchor="middle" font-style="italic" textLength="109" lengthAdjust="spacingAndGlyphs">IGHG4</text>
<g fill="none" stroke-linecap="round" stroke-width="4.3">
<path d="M1790.9 1555.2h0M1738.2 1562.1h0M1773.4 1567.8h0M1797.4 1566.4h0M1800.5 1566.4h0M1810.3 1566h0M1814.9 1570.3h0M1758.7 1585.7h0M1741.3 1595.8h0M1753.2 1601.5h0M1790.9 1600.1h0M1743.2 1604.6h0M1752.5 1604.6h0M1848.6 1606.1h0M1874.6 1608.9h0M1767.7 1610.9h0M1762.2 1619.2h0M1840.3 1626.5h0M1783.2 1628.5h0M1792.3 1627h0M1760.2 1632.1h0M1802.8 1633.9h0M1768 1635h0M1793.1 1636.7h0M1780.1 1639.3h0M1889.3 1635.5h0M1782.7 1645.5h0M1787.3 1645h0M1758.7 1648.9h0M1783.5 1652.4h0M1785 1654.8h0M1820.2 1654.3h0M1748.6 1653.7h0M1824.8 1675.3h0M1781.6 1679.5h0M1897.4 1682.1h0M1790.9 1687.6h0M1800.5 1696.8h0M1861.7 1690h0M1867.2 1711.9h0M1881.9 1721.1h0M1909 1726.1h0M1959.4 1725h0M1848.6 1735.8h0M1859 1740.4h0M1932.3 1744.3h0M1956.3 1737.4h0M1946.7 1744.3h0M1848.6 1752h0M1876.5 1752.8h0M1893.5 1753.6h0M1980.3 1762.5h0M1954.3 1787.1h0M1987.3 1787.2h0M1893.4 1682.5h0M1870.1 1684.4h0M1865.4 1696.7h0M1899.1 1719.4h0" stroke="#FDF6EC"/>
<path d="M1922.2 1710h0" stroke="#FBD3A2"/>
<path d="M1824.2 1579.9h0M1868.2 1695.7h0M1867.2 1701.8h0M1902.3 1707.3h0M1870.7 1714.2h0M1910.3 1711.9h0M1919.1 1711.9h0M1885.8 1732.7h0M1861.7 1746.6h0M1877.2 1749.7h0M1916 1759.7h0M1947.8 1787.8h0M1882.6 1687.2h0" stroke="#F9BB88"/>
<path d="M1790.4 1567.8h0M1758.7 1573.4h0M1746.6 1585.3h0M1766.4 1598.9h0M1747 1612.8h0M1752 1620.3h0M1760.2 1642.4h0M1778.3 1650.1h0M1901.3 1655.8h0M1840.3 1669.4h0M1918.3 1669h0M1872.3 1686.7h0M1876.5 1729.6h0M1895.1 1723.5h0M1962.2 1726.1h0M1899.7 1734.3h0M1929.2 1737.1h0M1933.8 1748.9h0M1956.6 1754.3h0M1884.2 1765.6h0M1866.9 1774.7h0M1890 1773.6h0M1985.3 1771.6h0M1991.6 1778.6h0M1834.3 1679.3h0M1834.9 1686.1h0M1842.7 1694.3h0M1856.8 1689.3h0M1857.2 1729.1h0M1884.9 1730.7h0" stroke="#F68E5E"/>
<path d="M1755.9 1596.4h0M1881.6 1604.1h0M1754.8 1611.5h0M1756 1613.8h0M1774.9 1618h0M1753.2 1630.4h0M1778.5 1637.5h0M1801.3 1640.9h0M1851.2 1636.7h0M1880.7 1635.8h0M1811.7 1652.1h0M1751.7 1656.8h0M1927.3 1656h0M1791.2 1667.9h0M1848.9 1677.9h0M1785 1684.4h0M1868.7 1688.7h0M1863.3 1701.1h0M1890.7 1711.1h0M1888.1 1731.2h0M1902 1731.2h0M1857.6 1742.3h0M1862.5 1748.9h0M1918.8 1735.4h0M1876.5 1755.4h0M1909.8 1770.2h0M1986.5 1788.3h0M1868.4 1721.8h0M1875 1730h0" stroke="#EC654A"/>
<path d="M1779.3 1556.3h0M1771.1 1615.7h0M1887.3 1614.2h0M1761 1625.7h0M1794.3 1654.5h0M1793.5 1666.3h0M1772.3 1670.2h0M1890.7 1663.6h0M1867.2 1667.6h0M1782.7 1680.7h0M1812.1 1681.5h0M1818.7 1682.1h0M1807.2 1690h0M1837.7 1689.5h0M1846.2 1690.3h0M1809.3 1703.4h0M1807.5 1713.4h0M1856.3 1713.4h0M1877.2 1719.6h0M1923.3 1723.5h0M1888.4 1748.9h0M1836.5 1760.1h0M1857.4 1762.5h0M1973.7 1779h0M1860.4 1698.5h0M1874.8 1711.6h0M1883.4 1714.5h0" stroke="#D63222"/>
<path d="M1800 1689h0M1920.6 1717.3h0M1842.1 1741.5h0M1887.3 1755.6h0M1977.2 1785.5h0" stroke="#A81414"/>
<path d="M1768.3 1551h0M1770.3 1554.1h0M1782.2 1552.9h0M1802.5 1557.5h0M1761 1562.4h0M1747.5 1567.8h0M1742.9 1568.6h0M1743.9 1572.5h0M1762.8 1575.2h0M1773.1 1575.2h0M1807 1575.2h0M1768.1 1578.8h0M1743.2 1581.4h0M1785.5 1580.7h0M1751.2 1589.1h0M1794.9 1588.7h0M1899.7 1588.1h0M1897.4 1588.8h0M1893.5 1589.9h0M1891.2 1591.1h0M1906.7 1593.3h0M1905.1 1594.1h0M1761 1593.8h0M1747.5 1595.6h0M1770 1594.9h0M1764.1 1597.6h0M1741.2 1599.2h0M1761.8 1601h0M1745.5 1603.5h0M1764.4 1605h0M1773.4 1606.4h0M1786.3 1608.4h0M1871.8 1598.1h0M1889.8 1598.7h0M1897.4 1602.3h0M1899.7 1603.8h0M1906.7 1604.3h0M1916.8 1602.9h0M1926.1 1604.6h0M1849.7 1608.7h0M1864.1 1607.2h0M1858.6 1610.3h0M1857.1 1611.8h0M1894 1607.4h0M1898.9 1609.2h0M1762.8 1609.5h0M1759.1 1610.3h0M1777.6 1613.1h0M1750.1 1617.4h0M1882.7 1610.9h0M1915.2 1610.8h0M1921.1 1611.2h0M1900.5 1614.6h0M1898.2 1615.9h0M1896.6 1617.7h0M1891.5 1616.9h0M1869 1616.6h0M1836.9 1615.9h0M1919.6 1618.5h0M1854.3 1620.8h0M1859.7 1624.2h0M1845.5 1623.1h0M1843.1 1624.7h0M1887.8 1623.9h0M1891.7 1623.1h0M1896.3 1623.4h0M1905.1 1624.2h0M1783.9 1627h0M1744.2 1628.5h0M1771.8 1630.1h0M1777.6 1629.6h0M1797.1 1631.3h0M1762.5 1635.5h0M1772.9 1635.9h0M1790.9 1635.2h0M1782.4 1637h0M1785 1640.1h0M1788.6 1639.6h0M1803.6 1640.4h0M1764.1 1640.9h0M1857.6 1632.1h0M1835.4 1634.4h0M1869.2 1634.7h0M1879.6 1633.1h0M1887.3 1637h0M1897.4 1633.9h0M1909.8 1636.2h0M1928.4 1632.7h0M1926.8 1637h0M1893.5 1640.1h0M1771.1 1643.2h0M1817.6 1642.4h0M1821 1645.5h0M1791.5 1644h0M1777.6 1654.8h0M1790.1 1655.5h0M1750.1 1656h0M1866.1 1644h0M1870 1644.7h0M1895.5 1643.6h0M1902.8 1644.4h0M1923.7 1644h0M1899.7 1648.9h0M1905.6 1648.6h0M1878.8 1649.4h0M1871.3 1651.4h0M1914.9 1652h0M1920.2 1652.9h0M1931.5 1652.8h0M1837.7 1654.8h0M1845 1656.3h0M1770.3 1659.4h0M1755.6 1662h0M1805.9 1659.4h0M1853.5 1658.3h0M1850.9 1661.7h0M1886.5 1657.4h0M1911.8 1658.2h0M1901 1661.7h0M1838.5 1663.7h0M1844.7 1665.6h0M1852.4 1664h0M1859.7 1666h0M1814.9 1664.5h0M1792 1665.1h0M1874.6 1664.5h0M1879.1 1665.6h0M1900 1667.1h0M1855.8 1669.1h0M1812.1 1672.1h0M1921.1 1671.3h0M1924.5 1672.2h0M1813.7 1675.3h0M1850.4 1675.9h0M1863.3 1674.4h0M1867.2 1676.7h0M1866.4 1679.5h0M1883.4 1674.5h0M1912.1 1673.7h0M1910.6 1676.1h0M1943.6 1677.1h0M1779.6 1681.5h0M1795.6 1679.8h0M1796.6 1682.1h0M1805.2 1681h0M1806.7 1682.5h0M1830.4 1679.2h0M1836.9 1681.8h0M1853.7 1680.5h0M1854.8 1683.3h0M1887.3 1684.1h0M1890.4 1685.2h0M1913.4 1682.1h0M1822.2 1684.6h0M1825.3 1685.6h0M1894.3 1687.2h0M1910.6 1687.2h0M1780.4 1688.3h0M1788.1 1691.5h0M1804.4 1692.6h0M1807.8 1696.4h0M1831.5 1688h0M1834.6 1688.7h0M1843.9 1692.6h0M1850.1 1693.4h0M1856.3 1689.2h0M1855.8 1694.1h0M1879.6 1689.5h0M1880.7 1692.6h0M1917.1 1693.4h0M1925.3 1690.7h0M1932.6 1692.9h0M1827.2 1696.4h0M1833.8 1696.4h0M1840.8 1696.4h0M1838.5 1698h0M1835.1 1699.5h0M1823.3 1700.3h0M1827.3 1700.3h0M1853.2 1697.2h0M1856.3 1699.5h0M1859.4 1701.1h0M1871.8 1700.3h0M1849.7 1701.8h0M1854.8 1702.6h0M1890 1697.5h0M1905.5 1697.2h0M1912.1 1699.8h0M1898.9 1700.6h0M1891.2 1701.8h0M1813.4 1705.2h0M1798.7 1708.8h0M1812.1 1716.2h0M1826.6 1711.9h0M1839.7 1706.5h0M1845.5 1708h0M1846.2 1710.3h0M1851.7 1708.8h0M1853.2 1711.1h0M1857.1 1717.3h0M1867.2 1704.9h0M1894 1704.9h0M1928.4 1703.7h0M1934.6 1705.7h0M1877.5 1709.6h0M1874.9 1711.1h0M1868.7 1715h0M1882.7 1713.4h0M1883.4 1716.5h0M1892.7 1711.9h0M1905.9 1713.9h0M1916 1714.5h0M1912.9 1716.5h0M1926.1 1715.3h0M1961.4 1710.8h0M1959.9 1715h0M1879.6 1718.1h0M1835.7 1718.5h0M1827.6 1724.2h0M1811.8 1727.3h0M1812.6 1730.4h0M1824.5 1733.2h0M1851.7 1722.4h0M1848.6 1723.5h0M1857.6 1720.4h0M1860.2 1726.9h0M1855.8 1727.8h0M1870 1722.7h0M1872.6 1726.6h0M1874.9 1721.1h0M1884.2 1722.7h0M1878 1727.3h0M1881.9 1728.9h0M1886.5 1727.8h0M1894.3 1719.6h0M1897.4 1720.4h0M1901.3 1718.8h0M1893.5 1726.6h0M1898.2 1725.8h0M1912.9 1726.6h0M1916.3 1728.1h0M1903.6 1728.9h0M1930.7 1724.5h0M1933 1723.5h0M1952.1 1719.1h0M1952.1 1726.6h0M1945.4 1728.1h0M1948.2 1730.4h0M1941.6 1730.4h0M1850.6 1733.5h0M1834.6 1740.9h0M1860.2 1738.4h0M1865.6 1740.4h0M1868.7 1737.8h0M1871.8 1736.6h0M1878.3 1738.9h0M1880.3 1741.2h0M1881.9 1743.5h0M1874.6 1744h0M1878 1745.9h0M1913.7 1738.1h0M1933.3 1736.9h0M1926.1 1742h0M1930.7 1741.7h0M1940.5 1741.2h0M1946.2 1741.7h0M1953.5 1741.7h0M1958.6 1735.8h0M1948.2 1745.4h0M1954.7 1745.9h0M1909.8 1745.1h0M1929.2 1749.7h0M1924.5 1750.2h0M1919.9 1750.8h0M1839.7 1750.2h0M1866.1 1752.3h0M1941.6 1752.3h0M1957.1 1756.7h0M1974.9 1754.8h0M1972.6 1758.2h0M1946.2 1758.7h0M1910.6 1757.9h0M1908.2 1758.7h0M1900.5 1759.4h0M1890.4 1760.1h0M1865.6 1765.9h0M1953.2 1761.8h0M1960.9 1762.4h0M1892 1766.7h0M1898.2 1767h0M1959.4 1766.4h0M1975.2 1765.5h0M1844.2 1770.1h0M1859.4 1768.2h0M1857.9 1772.4h0M1863 1771.8h0M1901.7 1770.2h0M1916 1769h0M1893.5 1771.3h0M1887.3 1775.2h0M1933.8 1770.2h0M1948.5 1769.5h0M1960.2 1770.6h0M1978.8 1768.2h0M1986 1774.1h0M1968.4 1774.1h0M1938.9 1775.5h0M1943.9 1776.4h0M1922.2 1776.4h0M1850.9 1779h0M1883.1 1779.8h0M1893 1781.8h0M1965.6 1779.8h0M1963.3 1780.6h0M1976.4 1784.4h0M1985 1785.2h0M1989.6 1786.3h0M1994.3 1794h0M1846.7 1678.8h0M1866.6 1678.7h0M1830.5 1676.4h0M1855.7 1678.3h0M1855.6 1686h0M1870.7 1686.8h0M1835.9 1690.6h0M1845.1 1690.8h0M1882.3 1690.5h0M1836.3 1700.1h0M1858.4 1702.2h0M1854.1 1703.6h0M1889.7 1695.6h0M1888.4 1703.4h0M1838.2 1705.8h0M1845.9 1710.6h0M1856.6 1716.4h0M1875.5 1708h0M1864.1 1711.4h0M1871.1 1716.9h0M1885.9 1718.2h0M1878.9 1715.7h0M1849 1720.7h0M1847.6 1720.8h0M1855.4 1718h0M1870.2 1728.6h0M1874.8 1718.7h0M1880.9 1719.7h0M1874.3 1729.9h0M1882.1 1731.7h0M1897 1726.3h0" stroke="#7A0E0E"/>
</g>
<rect x="1735.5" y="1548" width="262.4" height="249.8" fill="none" stroke="#333" stroke-width="1.2"/>
<text x="1867.2" y="1535.8" font-size="35.5" text-anchor="middle" font-style="italic" textLength="93" lengthAdjust="spacingAndGlyphs">IGHM</text>
<g fill="none" stroke-linecap="round" stroke-width="4.3">
<path d="M1216.8 1847.6h0M1218.8 1850.7h0M1230.7 1849.5h0M1227.8 1852.8h0M1239.4 1851.8h0M1251 1854.1h0M1186.8 1858.7h0M1209.5 1859h0M1196.1 1864.4h0M1191.4 1865.2h0M1192.5 1869h0M1221.9 1864.4h0M1238.9 1864.4h0M1245.9 1863h0M1248.9 1863h0M1258.7 1862.5h0M1263.3 1866.9h0M1207.2 1869.9h0M1211.4 1871.8h0M1221.6 1871.8h0M1255.4 1871.8h0M1216.6 1875.3h0M1272.6 1876.4h0M1191.7 1878h0M1233.9 1877.2h0M1195.1 1881.8h0M1207.2 1882.3h0M1199.8 1885.7h0M1243.4 1885.2h0M1347.9 1884.6h0M1345.6 1885.4h0M1341.7 1886.4h0M1353.3 1890.6h0M1209.5 1890.3h0M1204.4 1892.9h0M1212.6 1894.1h0M1214.9 1895.4h0M1189.7 1895.7h0M1201.8 1898h0M1210.3 1897.5h0M1239.4 1896.6h0M1194.1 1900h0M1191.7 1901.1h0M1201 1901.1h0M1212.9 1901.5h0M1234.7 1904.9h0M1320.1 1894.6h0M1338 1895.2h0M1345.6 1898.8h0M1347.9 1900.3h0M1354.8 1900.8h0M1374.2 1901.1h0M1329.8 1900.6h0M1296.9 1902.6h0M1297.9 1905.2h0M1312.3 1903.7h0M1306.9 1906.8h0M1305.4 1908.3h0M1322.8 1905.4h0M1347.1 1905.7h0M1211.4 1906h0M1207.7 1906.8h0M1203.3 1908h0M1216.2 1907.4h0M1226.1 1909.5h0M1204.6 1910.3h0M1219.6 1912.2h0M1198.7 1913.9h0M1223.4 1914.5h0M1200.6 1916.8h0M1210.8 1915.7h0M1335.5 1910.6h0M1363.3 1907.2h0M1369.2 1907.7h0M1348.6 1911.1h0M1344.8 1914.2h0M1339.7 1913.4h0M1317.3 1913.1h0M1285.3 1912.3h0M1367.7 1914.9h0M1302.6 1917.2h0M1308 1920.6h0M1293.8 1919.6h0M1291.5 1921.1h0M1288.7 1922.9h0M1339.8 1919.6h0M1344.5 1919.9h0M1353.3 1920.6h0M1232.4 1923.4h0M1231.6 1925h0M1240.8 1923.4h0M1192.8 1925h0M1201.8 1926.8h0M1220.3 1926.5h0M1226.1 1926h0M1208.8 1928.5h0M1245.5 1927.7h0M1251.3 1930.3h0M1211.1 1931.9h0M1216.5 1931.4h0M1221.4 1932.3h0M1239.4 1931.6h0M1241.5 1933.1h0M1227 1933.9h0M1230.9 1933.4h0M1228.5 1935.7h0M1233.5 1936.5h0M1249.7 1937.3h0M1252 1936.8h0M1212.6 1937.3h0M1305.8 1928.5h0M1299.5 1933.1h0M1317.4 1931.1h0M1327.8 1929.6h0M1328.9 1932.2h0M1337.5 1931.9h0M1335.5 1933.4h0M1345.6 1930.3h0M1357.9 1932.7h0M1376.5 1929.1h0M1374.9 1933.4h0M1341.7 1936.5h0M1208.8 1938.8h0M1219.6 1939.6h0M1265.9 1938.8h0M1269.3 1941.9h0M1231.2 1941.9h0M1235.8 1941.4h0M1240 1940.4h0M1226.8 1946.5h0M1231.9 1948.8h0M1233.5 1951.1h0M1242.8 1950.8h0M1260.1 1948.5h0M1268.6 1950.7h0M1197.2 1950.1h0M1198.7 1952.4h0M1200.2 1953.1h0M1314.3 1940.4h0M1318.2 1941.1h0M1343.7 1940.1h0M1351 1940.8h0M1371.8 1940.4h0M1347.9 1945.3h0M1353.8 1945h0M1363 1948.4h0M1368.3 1949.3h0M1379.6 1949.1h0M1375.4 1952.4h0M1286 1951.1h0M1293.3 1952.7h0M1204.1 1958.4h0M1254.4 1955.8h0M1301.8 1954.7h0M1299.2 1958.1h0M1334.7 1953.8h0M1359.9 1954.5h0M1286.8 1960.1h0M1293 1961.9h0M1300.7 1960.4h0M1263.3 1960.9h0M1242 1962.7h0M1239.7 1964.2h0M1220.8 1966.6h0M1322.8 1960.9h0M1338.9 1959.9h0M1304.1 1965.5h0M1288.7 1965.8h0M1366.4 1965.3h0M1369.2 1967.6h0M1372.6 1968.6h0M1262.1 1971.6h0M1273.2 1971.6h0M1360.2 1970.1h0M1358.7 1972.4h0M1391.6 1973.5h0M1230.1 1975.8h0M1231.2 1977h0M1244 1976.1h0M1245.1 1978.4h0M1253.6 1977.3h0M1255.1 1978.9h0M1260.5 1977.8h0M1267 1978.4h0M1278.8 1975.5h0M1303 1979.7h0M1338.6 1981.5h0M1345.6 1978.4h0M1361.5 1978.4h0M1270.6 1980.9h0M1228.8 1984.6h0M1239.4 1984h0M1248.5 1985.4h0M1255.6 1986.3h0M1252.8 1988.9h0M1248.9 1993.1h0M1256.2 1992.7h0M1283 1985h0M1292.2 1988.9h0M1304.6 1985.5h0M1327.8 1985.8h0M1328.9 1988.9h0M1316.5 1992h0M1373.4 1987h0M1275.5 1992.7h0M1282.2 1992.7h0M1286.8 1994.3h0M1283.4 1995.8h0M1301.5 1993.5h0M1304.6 1995.8h0M1307.7 1997.4h0M1311.5 1997.4h0M1315.4 1998.1h0M1320.1 1996.6h0M1303 1998.9h0M1338.1 1993.8h0M1353.6 1993.5h0M1255.9 2009.7h0M1274.9 2008.2h0M1293.8 2004.3h0M1294.5 2006.6h0M1300 2005.1h0M1304.6 2009.7h0M1305.4 2013.5h0M1350.5 2003.5h0M1382.7 2002h0M1325.8 2005.8h0M1323.1 2007.4h0M1315.4 2008.2h0M1330.9 2009.7h0M1331.6 2012.8h0M1338.9 2007.4h0M1358.4 2008.2h0M1354.1 2010.2h0M1370.3 2006.3h0M1367.2 2008.2h0M1361 2012.8h0M1368.7 2013.5h0M1374.2 2011.5h0M1407.9 2011.2h0M1327.8 2014.3h0M1284 2014.8h0M1276 2020.5h0M1261 2026.6h0M1272.9 2029.4h0M1300 2018.6h0M1305.8 2016.6h0M1308.5 2023.1h0M1304.1 2024h0M1320.8 2022.8h0M1330.1 2017.4h0M1330.1 2025.1h0M1336.3 2027.4h0M1334 2029h0M1345.6 2016.6h0M1346.3 2022h0M1351.7 2025.1h0M1381.1 2019.7h0M1407.4 2021.3h0M1396.3 2026.6h0M1296.9 2032h0M1283 2037.1h0M1308.5 2034.7h0M1313.9 2036.7h0M1330.1 2039.7h0M1322.8 2040.2h0M1326.2 2042.1h0M1381.4 2033.1h0M1374.2 2038.2h0M1378.8 2037.9h0M1380.3 2040.5h0M1388.5 2037.4h0M1394.3 2037.9h0M1404.3 2033.6h0M1406.6 2032h0M1402.8 2042.1h0M1381.9 2045.1h0M1377.2 2045.9h0M1368 2047h0M1288.1 2046.4h0M1296.9 2048.2h0M1341.7 2049.8h0M1335.5 2051.8h0M1324.7 2051.6h0M1389.6 2048.5h0M1405.1 2052.8h0M1420.5 2054.4h0M1358.7 2054.1h0M1356.4 2054.8h0M1364.1 2055.9h0M1305.7 2058.7h0M1401.2 2057.9h0M1408.9 2058.5h0M1407.4 2062.5h0M1423.2 2061.6h0M1292.5 2066.2h0M1315.1 2070.9h0M1341.7 2067.5h0M1381.9 2066.4h0M1426.7 2064.4h0M1370.3 2072.6h0M1299.2 2075.2h0M1331.3 2076h0M1413.6 2076h0M1395.8 2084h0M1402.3 2083.2h0M1435.2 2083.3h0M1437.5 2082.4h0M1434.4 2084.4h0M1442.2 2090.1h0M1439.5 2074.7h0M1295 1975.2h0M1278.8 1972.7h0M1282.6 1975.7h0M1303.8 1982.3h0M1318.3 1980.8h0M1284.2 1986.9h0M1330.5 1986.8h0M1306.7 1998.5h0M1308.7 1994.8h0M1302.3 1999.9h0M1337.9 1991.9h0M1294.2 2006.9h0M1304.8 2012.7h0M1319.4 2013.2h0M1331.6 2010.7h0M1297.3 2016.9h0M1305.5 2025.3h0M1323.3 2026.2h0M1322.5 2026.1h0M1330.3 2027.9h0" stroke="#FDF6EC"/>
<path d="M1349.4 2015.1h0M1338.1 2069.8h0M1335.5 2071.3h0M1323 2007.9h0M1316.7 2018h0" stroke="#FBD3A2"/>
<path d="M1279.9 1984.3h0M1298.4 1989.7h0M1317 2034h0M1291 1990.6h0M1336.6 1999.7h0M1347.3 2015.6h0M1345.2 2022.6h0" stroke="#F9BB88"/>
<path d="M1320.5 1983h0M1326.2 2023.6h0M1324.7 2025.9h0M1378.8 2020.8h0M1372.6 2046.4h0M1313.6 1993h0M1329.1 2016h0" stroke="#F68E5E"/>
<path d="M1228.1 1977.8h0M1400.1 2015.4h0M1422.8 2051h0M1394.3 2054.8h0" stroke="#EC654A"/>
<path d="M1237 1936h0M1207.2 1945.3h0M1371.4 2019.7h0M1396.6 2065.6h0" stroke="#D63222"/>
<path d="M1339.4 1887.7h0M1354.8 1889.8h0M1189.9 1892.3h0M1196.1 1892.1h0M1218.5 1891.4h0M1221.9 1902.9h0M1364.9 1899.4h0M1342.2 1903.8h0M1195.6 1909.2h0M1330.9 1907.4h0M1346.3 1912.3h0M1336 1920.3h0M1209.5 1922.2h0M1283.7 1930.8h0M1226.1 1951.1h0M1238.6 1951.9h0M1327 1945.8h0M1319.6 1947.8h0M1349.4 1952.2h0M1218.8 1955.8h0M1349.1 1958.1h0M1308 1962.4h0M1240.4 1961.5h0M1327.3 1961.9h0M1315.4 1963.9h0M1348.2 1963.5h0M1260.5 1968.4h0M1298.7 1972.3h0M1297.2 1974.3h0M1311.5 1970.7h0M1315.4 1973h0M1314.6 1975.8h0M1331.6 1970.9h0M1285.3 1978.1h0M1302 1976.9h0M1335.5 1980.4h0M1233.5 1980.7h0M1273.7 1982h0M1317 1985h0M1342.5 1983.5h0M1358.7 1983.5h0M1236.6 1987.8h0M1286 1985.8h0M1294.5 1986.6h0M1310 1986.3h0M1304.1 1990.4h0M1365.2 1989.7h0M1380.6 1989.2h0M1289.1 1992.7h0M1271.7 1996.6h0M1275.7 1996.6h0M1297.9 1998.1h0M1360.2 1996.1h0M1347.1 1996.9h0M1339.4 1998.1h0M1257.8 1999.7h0M1261.8 2001.5h0M1247.1 2005.1h0M1260.5 2012.5h0M1288.1 2002.8h0M1301.5 2007.4h0M1315.4 2001.2h0M1342.2 2001.2h0M1376.5 2000h0M1319 2010.5h0M1317 2011.2h0M1340.9 2008.2h0M1364.1 2010.8h0M1409.4 2007.1h0M1260.2 2023.6h0M1296.9 2019.7h0M1318.2 2018.9h0M1325.5 2015.9h0M1323.1 2017.4h0M1332.4 2018.9h0M1334.7 2024h0M1342.5 2015.9h0M1343.2 2019.7h0M1341.7 2022.8h0M1357.2 2022.3h0M1361 2022.8h0M1364.4 2024.3h0M1350.2 2027.4h0M1400.1 2022.8h0M1410.2 2022.3h0M1393.5 2024.3h0M1389.6 2026.6h0M1347.9 2030.5h0M1298.9 2029.7h0M1290.4 2037.7h0M1307.2 2036.7h0M1305.8 2038.5h0M1320.1 2032.8h0M1326.5 2035.1h0M1328.6 2037.4h0M1310 2042.8h0M1310.8 2045.1h0M1361.8 2034.3h0M1366.9 2031.6h0M1377.2 2033.3h0M1401.5 2037.9h0M1394.7 2040.5h0M1396.3 2041.6h0M1357.9 2041.3h0M1336.6 2045.1h0M1314.3 2048.5h0M1325.5 2045.9h0M1324.7 2049h0M1404.6 2050.5h0M1348.6 2055.6h0M1338.6 2056.2h0M1284.8 2056.2h0M1313.9 2062.1h0M1332.4 2061.8h0M1428.3 2058.7h0M1340.1 2062.9h0M1346.3 2063.2h0M1307.7 2064.4h0M1306.1 2068.6h0M1311.2 2067.9h0M1349.9 2066.4h0M1357.9 2066.4h0M1364.1 2065.2h0M1408.2 2066.7h0M1433.2 2067.8h0M1434 2070.3h0M1416.4 2070.3h0M1387 2071.6h0M1391.9 2072.6h0M1341.2 2078h0M1411.3 2076.7h0M1421.6 2075.2h0M1424.4 2080.6h0M1425.2 2081.7h0M1432.9 2081.3h0M1314.9 1975h0M1304 1974.6h0M1341.6 1978.8h0M1318.9 1983.1h0M1283.2 1982.4h0M1293.4 1987.1h0M1305.1 1985.7h0M1330.8 1983.5h0M1284.6 1996.4h0M1286.5 2002.1h0M1323.8 2004.3h0M1312.3 2007.7h0M1334.1 2014.4h0M1327.2 2012h0M1295.9 2017.1h0M1303.7 2014.3h0M1318.5 2024.9h0M1323 2014.9h0M1333.1 2027h0" stroke="#7A0E0E"/>
</g>
<rect x="1184.1" y="1844.6" width="261.7" height="249.3" fill="none" stroke="#333" stroke-width="1.2"/>
<text x="1315.4" y="1832.5" font-size="35.5" text-anchor="middle" font-style="italic" textLength="108" lengthAdjust="spacingAndGlyphs">IGHG1</text>
<g fill="none" stroke-linecap="round" stroke-width="4.3">
<path d="M1491.3 1847.6h0M1493.3 1850.7h0M1505.2 1849.5h0M1502.3 1852.8h0M1513.9 1851.8h0M1525.5 1854.1h0M1461.3 1858.7h0M1484 1859h0M1470.6 1864.4h0M1465.9 1865.2h0M1467 1869h0M1496.4 1864.4h0M1513.4 1864.4h0M1520.4 1863h0M1523.5 1863h0M1533.2 1862.5h0M1537.8 1866.9h0M1481.7 1869.9h0M1485.9 1871.8h0M1496.1 1871.8h0M1530 1871.8h0M1491.1 1875.3h0M1547.1 1876.4h0M1466.2 1878h0M1508.5 1877.2h0M1469.7 1881.8h0M1481.7 1882.3h0M1517.9 1885.2h0M1622.4 1884.6h0M1620.1 1885.4h0M1616.3 1886.4h0M1613.9 1887.7h0M1627.9 1890.6h0M1484 1890.3h0M1464.4 1892.3h0M1470.6 1892.1h0M1478.9 1892.9h0M1493 1891.4h0M1489.4 1895.4h0M1464.2 1895.7h0M1476.3 1898h0M1484.8 1897.5h0M1513.9 1896.6h0M1468.6 1900h0M1466.2 1901.1h0M1475.5 1901.1h0M1487.4 1901.5h0M1496.4 1902.9h0M1509.2 1904.9h0M1594.6 1894.6h0M1612.5 1895.2h0M1620.1 1898.8h0M1629.4 1900.8h0M1639.4 1899.4h0M1648.7 1901.1h0M1604.3 1900.6h0M1571.4 1902.6h0M1572.5 1905.2h0M1586.9 1903.7h0M1581.5 1906.8h0M1579.9 1908.3h0M1597.4 1905.4h0M1616.7 1903.8h0M1621.7 1905.7h0M1485.9 1906h0M1482.2 1906.8h0M1477.8 1908h0M1490.7 1907.4h0M1470.1 1909.2h0M1500.6 1909.5h0M1479.1 1910.3h0M1494.1 1912.2h0M1473.2 1913.9h0M1498 1914.5h0M1475.1 1916.8h0M1485.3 1915.7h0M1605.4 1907.4h0M1610.1 1910.6h0M1637.9 1907.2h0M1643.8 1907.7h0M1623.2 1911.1h0M1620.9 1912.3h0M1619.3 1914.2h0M1614.2 1913.4h0M1591.8 1913.1h0M1559.8 1912.3h0M1642.2 1914.9h0M1577.1 1917.2h0M1582.5 1920.6h0M1568.3 1919.6h0M1566 1921.1h0M1563.2 1922.9h0M1610.5 1920.3h0M1614.4 1919.6h0M1619 1919.9h0M1627.9 1920.6h0M1484 1922.2h0M1506.9 1923.4h0M1506.1 1925h0M1515.3 1923.4h0M1467.3 1925h0M1476.3 1926.8h0M1494.9 1926.5h0M1500.6 1926h0M1483.3 1928.5h0M1520.1 1927.7h0M1525.8 1930.3h0M1485.6 1931.9h0M1491 1931.4h0M1495.9 1932.3h0M1513.9 1931.6h0M1516 1933.1h0M1501.5 1933.9h0M1505.4 1933.4h0M1503.1 1935.7h0M1508 1936.5h0M1511.6 1936h0M1524.2 1937.3h0M1526.6 1936.8h0M1487.1 1937.3h0M1558.3 1930.8h0M1574 1933.1h0M1592 1931.1h0M1602.3 1929.6h0M1603.4 1932.2h0M1612.1 1931.9h0M1610.1 1933.4h0M1620.1 1930.3h0M1632.5 1932.7h0M1651 1929.1h0M1649.5 1933.4h0M1616.3 1936.5h0M1483.3 1938.8h0M1494.1 1939.6h0M1540.5 1938.8h0M1543.9 1941.9h0M1505.7 1941.9h0M1510.3 1941.4h0M1514.5 1940.4h0M1481.7 1945.3h0M1501.4 1946.5h0M1506.5 1948.8h0M1500.6 1951.1h0M1508 1951.1h0M1513.1 1951.9h0M1517.3 1950.8h0M1534.6 1948.5h0M1543.1 1950.7h0M1471.7 1950.1h0M1473.2 1952.4h0M1474.8 1953.1h0M1588.9 1940.4h0M1592.7 1941.1h0M1625.5 1940.8h0M1646.4 1940.4h0M1622.4 1945.3h0M1628.3 1945h0M1601.6 1945.8h0M1594.1 1947.8h0M1637.6 1948.4h0M1642.9 1949.3h0M1654.1 1949.1h0M1650 1952.4h0M1560.6 1951.1h0M1567.8 1952.7h0M1624 1952.2h0M1493.3 1955.8h0M1478.6 1958.4h0M1528.9 1955.8h0M1576.4 1954.7h0M1573.7 1958.1h0M1609.3 1953.8h0M1634.5 1954.5h0M1623.7 1958.1h0M1561.4 1960.1h0M1567.5 1961.9h0M1575.3 1960.4h0M1582.5 1962.4h0M1537.8 1960.9h0M1515 1961.5h0M1516.5 1962.7h0M1514.2 1964.2h0M1495.3 1966.6h0M1597.4 1960.9h0M1601.9 1961.9h0M1613.5 1959.9h0M1578.7 1965.5h0M1535.1 1968.4h0M1641 1965.3h0M1643.8 1967.6h0M1647.2 1968.6h0M1536.6 1971.6h0M1547.7 1971.6h0M1573.3 1972.3h0M1586.1 1970.7h0M1590 1973h0M1589.2 1975.8h0M1634.8 1970.1h0M1633.3 1972.4h0M1666.2 1973.5h0M1504.6 1975.8h0M1505.7 1977h0M1502.6 1977.8h0M1518.5 1976.1h0M1519.6 1978.4h0M1528.1 1977.3h0M1529.7 1978.9h0M1535.1 1977.8h0M1541.6 1978.4h0M1553.3 1975.5h0M1559.8 1978.1h0M1576.5 1976.9h0M1577.6 1979.7h0M1610.1 1980.4h0M1613.2 1981.5h0M1620.1 1978.4h0M1636 1978.4h0M1508 1980.7h0M1545.1 1980.9h0M1595.1 1983h0M1591.5 1985h0M1617 1983.5h0M1503.4 1984.6h0M1513.9 1984h0M1511.1 1987.8h0M1523 1985.4h0M1530.1 1986.3h0M1527.3 1988.9h0M1523.5 1993.1h0M1530.7 1992.7h0M1554.4 1984.3h0M1557.5 1985h0M1560.6 1985.8h0M1566.8 1988.9h0M1584.6 1986.3h0M1578.7 1990.4h0M1602.3 1985.8h0M1603.4 1988.9h0M1591 1992h0M1639.8 1989.7h0M1648 1987h0M1655.2 1989.2h0M1550.1 1992.7h0M1556.7 1992.7h0M1563.7 1992.7h0M1561.4 1994.3h0M1558 1995.8h0M1546.2 1996.6h0M1550.2 1996.6h0M1576 1993.5h0M1579.1 1995.8h0M1582.2 1997.4h0M1590 1998.1h0M1594.6 1996.6h0M1577.6 1998.9h0M1612.7 1993.8h0M1628.2 1993.5h0M1634.8 1996.1h0M1621.7 1996.9h0M1613.9 1998.1h0M1532.3 1999.7h0M1536.3 2001.5h0M1521.6 2005.1h0M1530.4 2009.7h0M1535.1 2012.5h0M1549.4 2008.2h0M1568.3 2004.3h0M1569.1 2006.6h0M1574.5 2005.1h0M1576 2007.4h0M1579.1 2009.7h0M1579.9 2013.5h0M1590 2001.2h0M1616.7 2001.2h0M1625.1 2003.5h0M1651 2000h0M1657.2 2002h0M1600.3 2005.8h0M1597.7 2007.4h0M1590 2008.2h0M1593.5 2010.5h0M1605.4 2009.7h0M1606.2 2012.8h0M1615.5 2008.2h0M1633 2008.2h0M1628.6 2010.2h0M1644.9 2006.3h0M1641.8 2008.2h0M1638.7 2010.8h0M1635.6 2012.8h0M1643.3 2013.5h0M1648.7 2011.5h0M1684 2007.1h0M1682.4 2011.2h0M1602.3 2014.3h0M1558.6 2014.8h0M1550.5 2020.5h0M1547.4 2029.4h0M1574.5 2018.6h0M1571.4 2019.7h0M1580.4 2016.6h0M1583 2023.1h0M1578.7 2024h0M1595.4 2022.8h0M1597.7 2017.4h0M1604.7 2017.4h0M1600.8 2023.6h0M1604.7 2025.1h0M1609.3 2024h0M1610.8 2027.4h0M1608.5 2029h0M1620.1 2016.6h0M1624 2015.1h0M1617.8 2019.7h0M1616.3 2022.8h0M1620.9 2022h0M1635.6 2022.8h0M1639 2024.3h0M1626.3 2025.1h0M1624.8 2027.4h0M1645.9 2019.7h0M1653.4 2020.8h0M1655.7 2019.7h0M1674.7 2015.4h0M1674.7 2022.8h0M1682 2021.3h0M1684.8 2022.3h0M1668.1 2024.3h0M1670.8 2026.6h0M1664.2 2026.6h0M1622.4 2030.5h0M1573.4 2029.7h0M1557.5 2037.1h0M1564.9 2037.7h0M1581.8 2036.7h0M1580.4 2038.5h0M1591.5 2034h0M1594.6 2032.8h0M1601.1 2035.1h0M1603.1 2037.4h0M1604.7 2039.7h0M1597.4 2040.2h0M1600.8 2042.1h0M1584.6 2042.8h0M1585.3 2045.1h0M1636.4 2034.3h0M1641.5 2031.6h0M1651.8 2033.3h0M1656 2033.1h0M1648.7 2038.2h0M1654.9 2040.5h0M1663.1 2037.4h0M1668.8 2037.9h0M1676.1 2037.9h0M1681.2 2032h0M1669.3 2040.5h0M1670.8 2041.6h0M1677.3 2042.1h0M1632.5 2041.3h0M1656.5 2045.1h0M1651.8 2045.9h0M1647.2 2046.4h0M1642.5 2047h0M1562.6 2046.4h0M1571.4 2048.2h0M1588.9 2048.5h0M1599.2 2049h0M1610.1 2051.8h0M1664.2 2048.5h0M1679.2 2050.5h0M1679.7 2052.8h0M1697.4 2051h0M1695.1 2054.4h0M1668.8 2054.8h0M1633.3 2054.1h0M1623.2 2055.6h0M1613.2 2056.2h0M1580.2 2058.7h0M1607 2061.8h0M1675.8 2057.9h0M1683.5 2058.5h0M1702.9 2058.7h0M1697.8 2061.6h0M1567.1 2066.2h0M1582.2 2064.4h0M1585.8 2067.9h0M1589.7 2070.9h0M1624.4 2066.4h0M1632.5 2066.4h0M1638.7 2065.2h0M1616.3 2067.5h0M1612.7 2069.8h0M1610.1 2071.3h0M1656.5 2066.4h0M1671.2 2065.6h0M1682.7 2066.7h0M1701.3 2064.4h0M1707.8 2067.8h0M1708.6 2070.3h0M1690.9 2070.3h0M1661.6 2071.6h0M1666.5 2072.6h0M1644.9 2072.6h0M1573.7 2075.2h0M1605.9 2076h0M1615.8 2078h0M1688.2 2076h0M1685.8 2076.7h0M1696.2 2075.2h0M1670.4 2084h0M1676.9 2083.2h0M1699 2080.6h0M1699.8 2081.7h0M1707.5 2081.3h0M1709.8 2083.3h0M1709 2084.4h0M1716.8 2090.1h0M1714.1 2074.7h0M1589.4 1975h0M1553.4 1972.7h0M1557.1 1975.7h0M1578.5 1974.6h0M1578.4 1982.3h0M1616.1 1978.8h0M1592.8 1980.8h0M1593.5 1983.1h0M1557.8 1982.4h0M1558.7 1986.9h0M1567.9 1987.1h0M1565.5 1990.6h0M1579.6 1985.7h0M1605.3 1983.5h0M1605 1986.8h0M1588.2 1993h0M1559.2 1996.4h0M1581.3 1998.5h0M1583.3 1994.8h0M1576.9 1999.9h0M1612.5 1991.9h0M1611.2 1999.7h0M1561 2002.1h0M1568.8 2006.9h0M1579.4 2012.7h0M1598.3 2004.3h0M1597.6 2007.9h0M1586.9 2007.7h0M1593.9 2013.2h0M1601.7 2012h0M1571.8 2016.9h0M1570.4 2017.1h0M1578.2 2014.3h0M1580 2025.3h0M1591.2 2018h0M1593 2024.9h0M1597.6 2014.9h0M1597.8 2026.2h0M1604.8 2027.9h0M1607.7 2027h0M1621.9 2015.6h0M1619.7 2022.6h0" stroke="#FDF6EC"/>
<path d="M1606.2 1970.9h0M1631.7 2022.3h0" stroke="#FBD3A2"/>
<path d="M1580.4 1928.5h0M1590 1963.9h0M1571.7 1974.3h0M1591.5 2011.2h0M1613.5 2007.4h0M1607 2018.9h0M1599.2 2051.6h0M1559.3 2056.2h0M1569.5 1975.2h0" stroke="#F9BB88"/>
<path d="M1629.4 1889.8h0M1622.4 1900.3h0M1548.2 1982h0M1569.1 1986.6h0M1572.5 1998.1h0M1535.5 2026.6h0M1592.7 2018.9h0M1611.1 2045.1h0M1600 2045.9h0M1588.4 2062.1h0M1580.7 2068.6h0" stroke="#F68E5E"/>
<path d="M1487.1 1894.1h0M1579.1 1985.5h0M1534.8 2023.6h0M1617 2015.9h0M1571.4 2032h0M1588.4 2036.7h0M1678.9 2033.6h0M1630.9 2054.8h0M1638.7 2055.9h0M1597 2026.1h0" stroke="#EC654A"/>
<path d="M1653.4 2037.9h0" stroke="#D63222"/>
<path d="M1474.3 1885.7h0M1618.3 1940.1h0M1622.7 1963.5h0M1563.2 1965.8h0M1633.3 1983.5h0M1573 1989.7h0M1586.1 1997.4h0M1562.6 2002.8h0M1600 2015.9h0M1599.2 2025.9h0M1583 2034.7h0M1616.3 2049.8h0M1614.7 2062.9h0M1620.9 2063.2h0M1682 2062.5h0M1712.1 2082.4h0M1606.2 2010.7h0M1608.7 2014.4h0M1603.7 2016h0" stroke="#7A0E0E"/>
</g>
<rect x="1458.6" y="1844.6" width="261.8" height="249.3" fill="none" stroke="#333" stroke-width="1.2"/>
<text x="1590" y="1832.5" font-size="35.5" text-anchor="middle" font-style="italic" textLength="110" lengthAdjust="spacingAndGlyphs">IGHG2</text>
<g fill="none" stroke-linecap="round" stroke-width="4.3">
<path d="M1768.3 1847.6h0M1770.3 1850.7h0M1782.2 1849.5h0M1779.3 1852.8h0M1790.9 1851.8h0M1738.2 1858.7h0M1761 1859h0M1747.5 1864.4h0M1742.9 1865.2h0M1743.9 1869h0M1773.4 1864.4h0M1790.4 1864.4h0M1797.4 1863h0M1800.5 1863h0M1810.3 1862.5h0M1758.7 1869.9h0M1762.8 1871.8h0M1773.1 1871.8h0M1807 1871.8h0M1768.1 1875.3h0M1824.2 1876.4h0M1785.5 1877.2h0M1746.6 1881.8h0M1758.7 1882.3h0M1751.2 1885.7h0M1899.7 1884.6h0M1897.4 1885.4h0M1893.5 1886.4h0M1905.1 1890.6h0M1761 1890.3h0M1741.3 1892.3h0M1747.5 1892.1h0M1770 1891.4h0M1764.1 1894.1h0M1766.4 1895.4h0M1753.2 1898h0M1761.8 1897.5h0M1790.9 1896.6h0M1745.5 1900h0M1764.4 1901.5h0M1786.3 1904.9h0M1871.8 1894.6h0M1889.8 1895.2h0M1899.7 1900.3h0M1906.7 1900.8h0M1916.8 1899.4h0M1926.1 1901.1h0M1881.6 1900.6h0M1848.6 1902.6h0M1849.7 1905.2h0M1864.1 1903.7h0M1858.6 1906.8h0M1857.1 1908.3h0M1874.6 1905.4h0M1894 1903.8h0M1898.9 1905.7h0M1762.8 1906h0M1754.8 1908h0M1767.7 1907.4h0M1747 1909.2h0M1777.6 1909.5h0M1756 1910.3h0M1771.1 1912.2h0M1750.1 1913.9h0M1774.9 1914.5h0M1752 1916.8h0M1762.2 1915.7h0M1882.7 1907.4h0M1887.3 1910.6h0M1915.2 1907.2h0M1900.5 1911.1h0M1898.2 1912.3h0M1896.6 1914.2h0M1891.5 1913.4h0M1836.9 1912.3h0M1919.6 1914.9h0M1859.7 1920.6h0M1843.1 1921.1h0M1840.3 1922.9h0M1887.8 1920.3h0M1891.7 1919.6h0M1896.3 1919.9h0M1905.1 1920.6h0M1761 1922.2h0M1783.2 1925h0M1744.2 1925h0M1753.2 1926.8h0M1771.8 1926.5h0M1777.6 1926h0M1760.2 1928.5h0M1797.1 1927.7h0M1802.8 1930.3h0M1762.5 1931.9h0M1768 1931.4h0M1772.9 1932.3h0M1790.9 1931.6h0M1778.5 1933.9h0M1782.4 1933.4h0M1780.1 1935.7h0M1785 1936.5h0M1788.6 1936h0M1801.3 1937.3h0M1803.6 1936.8h0M1764.1 1937.3h0M1857.6 1928.5h0M1851.2 1933.1h0M1869.2 1931.1h0M1879.6 1929.6h0M1880.7 1932.2h0M1889.3 1931.9h0M1887.3 1933.4h0M1897.4 1930.3h0M1909.8 1932.7h0M1928.4 1929.1h0M1926.8 1933.4h0M1893.5 1936.5h0M1760.2 1938.8h0M1771.1 1939.6h0M1817.6 1938.8h0M1821 1941.9h0M1791.5 1940.4h0M1758.7 1945.3h0M1783.5 1948.8h0M1790.1 1951.9h0M1794.3 1950.8h0M1811.7 1948.5h0M1820.2 1950.7h0M1748.6 1950.1h0M1750.1 1952.4h0M1751.7 1953.1h0M1866.1 1940.4h0M1870 1941.1h0M1895.5 1940.1h0M1902.8 1940.8h0M1923.7 1940.4h0M1899.7 1945.3h0M1878.8 1945.8h0M1871.3 1947.8h0M1914.9 1948.4h0M1920.2 1949.3h0M1837.7 1951.1h0M1901.3 1952.2h0M1755.6 1958.4h0M1805.9 1955.8h0M1911.8 1954.5h0M1901 1958.1h0M1859.7 1962.4h0M1792 1961.5h0M1793.5 1962.7h0M1791.2 1964.2h0M1874.6 1960.9h0M1879.1 1961.9h0M1890.7 1959.9h0M1900 1963.5h0M1855.8 1965.5h0M1840.3 1965.8h0M1812.1 1968.4h0M1918.3 1965.3h0M1924.5 1968.6h0M1813.7 1971.6h0M1824.8 1971.6h0M1848.9 1974.3h0M1863.3 1970.7h0M1867.2 1973h0M1866.4 1975.8h0M1912.1 1970.1h0M1910.6 1972.4h0M1943.6 1973.5h0M1782.7 1977h0M1779.6 1977.8h0M1796.6 1978.4h0M1805.2 1977.3h0M1806.7 1978.9h0M1812.1 1977.8h0M1818.7 1978.4h0M1830.4 1975.5h0M1853.7 1976.9h0M1854.8 1979.7h0M1887.3 1980.4h0M1897.4 1978.4h0M1822.2 1980.9h0M1872.3 1983h0M1868.7 1985h0M1894.3 1983.5h0M1780.4 1984.6h0M1790.9 1984h0M1788.1 1987.8h0M1800 1985.4h0M1807.2 1986.3h0M1804.4 1988.9h0M1807.8 1992.7h0M1843.9 1988.9h0M1850.1 1989.7h0M1917.1 1989.7h0M1925.3 1987h0M1932.6 1989.2h0M1838.5 1994.3h0M1823.3 1996.6h0M1853.2 1993.5h0M1856.3 1995.8h0M1859.4 1997.4h0M1863.3 1997.4h0M1871.8 1996.6h0M1849.7 1998.1h0M1890 1993.8h0M1891.2 1998.1h0M1809.3 1999.7h0M1798.7 2005.1h0M1826.6 2008.2h0M1845.5 2004.3h0M1846.2 2006.6h0M1853.2 2007.4h0M1867.2 2001.2h0M1902.3 2003.5h0M1928.4 2000h0M1934.6 2002h0M1877.5 2005.8h0M1870.7 2010.5h0M1868.7 2011.2h0M1890.7 2007.4h0M1910.3 2008.2h0M1905.9 2010.2h0M1922.2 2006.3h0M1919.1 2008.2h0M1916 2010.8h0M1920.6 2013.5h0M1961.4 2007.1h0M1959.9 2011.2h0M1879.6 2014.3h0M1827.6 2020.5h0M1811.8 2023.6h0M1824.5 2029.4h0M1851.7 2018.6h0M1848.6 2019.7h0M1860.2 2023.1h0M1872.6 2022.8h0M1877.2 2015.9h0M1881.9 2017.4h0M1878 2023.6h0M1886.5 2024h0M1888.1 2027.4h0M1885.8 2029h0M1897.4 2016.6h0M1895.1 2019.7h0M1893.5 2022.8h0M1909 2022.3h0M1912.9 2022.8h0M1916.3 2024.3h0M1903.6 2025.1h0M1902 2027.4h0M1923.3 2019.7h0M1930.7 2020.8h0M1933 2019.7h0M1952.1 2022.8h0M1959.4 2021.3h0M1945.4 2024.3h0M1948.2 2026.6h0M1899.7 2030.5h0M1850.6 2029.7h0M1848.6 2032h0M1834.6 2037.1h0M1860.2 2034.7h0M1857.6 2038.5h0M1871.8 2032.8h0M1878.3 2035.1h0M1878 2042.1h0M1861.7 2042.8h0M1862.5 2045.1h0M1918.8 2031.6h0M1929.2 2033.3h0M1933.3 2033.1h0M1926.1 2038.2h0M1930.7 2037.9h0M1932.3 2040.5h0M1940.5 2037.4h0M1946.2 2037.9h0M1953.5 2037.9h0M1956.3 2033.6h0M1958.6 2032h0M1946.7 2040.5h0M1948.2 2041.6h0M1954.7 2042.1h0M1909.8 2041.3h0M1888.4 2045.1h0M1933.8 2045.1h0M1929.2 2045.9h0M1919.9 2047h0M1839.7 2046.4h0M1848.6 2048.2h0M1866.1 2048.5h0M1877.2 2045.9h0M1876.5 2049h0M1887.3 2051.8h0M1941.6 2048.5h0M1957.1 2052.8h0M1974.9 2051h0M1972.6 2054.4h0M1946.2 2054.8h0M1910.6 2054.1h0M1916 2055.9h0M1884.2 2061.8h0M1980.3 2058.7h0M1898.2 2063.2h0M1975.2 2061.6h0M1844.2 2066.2h0M1857.9 2068.6h0M1863 2067.9h0M1901.7 2066.4h0M1890 2069.8h0M1933.8 2066.4h0M1948.5 2065.6h0M1978.8 2064.4h0M1986 2070.3h0M1968.4 2070.3h0M1938.9 2071.6h0M1943.9 2072.6h0M1883.1 2076h0M1965.6 2076h0M1963.3 2076.7h0M1947.8 2084h0M1954.3 2083.2h0M1976.4 2080.6h0M1977.2 2081.7h0M1985 2081.3h0M1987.3 2083.3h0M1989.6 2082.4h0M1994.3 2090.1h0M1991.6 2074.7h0M1846.7 1975.2h0M1866.6 1975h0M1834.3 1975.7h0M1855.6 1982.3h0M1870.1 1980.8h0M1834.9 1982.4h0M1842.7 1990.6h0M1882.6 1983.5h0M1882.3 1986.8h0M1860.4 1994.8h0M1838.2 2002.1h0M1875.5 2004.3h0M1864.1 2007.7h0M1871.1 2013.2h0M1883.4 2010.7h0M1885.9 2014.4h0M1878.9 2012h0M1849 2016.9h0M1868.4 2018h0M1870.2 2024.9h0M1874.8 2014.9h0M1880.9 2016h0M1875 2026.2h0M1897 2022.6h0" stroke="#FDF6EC"/>
<path d="M1890.4 1981.5h0" stroke="#FBD3A2"/>
<path d="M1931.5 1949.1h0M1855.8 1990.4h0M1854.8 1998.9h0M1867.2 2008.2h0M1865.6 2036.7h0M1856.8 1985.7h0" stroke="#F9BB88"/>
<path d="M1850.4 1972.3h0M1846.2 1986.6h0M1857.6 2016.6h0M1884.2 2018.9h0M1959.4 2062.5h0M1870.7 1983.1h0M1835.9 1986.9h0M1854.1 1999.9h0" stroke="#F68E5E"/>
<path d="M1802.5 1854.1h0M1773.4 1902.9h0" stroke="#EC654A"/>
<path d="M1960.2 2066.7h0M1922.2 2072.6h0" stroke="#D63222"/>
<path d="M1814.9 1866.9h0M1743.2 1878h0M1794.9 1885.2h0M1891.2 1887.7h0M1906.7 1889.8h0M1755.9 1892.9h0M1741.2 1895.7h0M1743.2 1901.1h0M1752.5 1901.1h0M1897.4 1898.8h0M1759.1 1906.8h0M1921.1 1907.7h0M1869 1913.1h0M1854.3 1917.2h0M1845.5 1919.6h0M1783.9 1923.4h0M1792.3 1923.4h0M1793.1 1933.1h0M1835.4 1930.8h0M1782.7 1941.9h0M1787.3 1941.4h0M1778.3 1946.5h0M1777.6 1951.1h0M1785 1951.1h0M1905.6 1945h0M1927.3 1952.4h0M1845 1952.7h0M1770.3 1955.8h0M1853.5 1954.7h0M1850.9 1958.1h0M1886.5 1953.8h0M1838.5 1960.1h0M1844.7 1961.9h0M1852.4 1960.4h0M1814.9 1960.9h0M1772.3 1966.6h0M1867.2 1963.9h0M1921.1 1967.6h0M1883.4 1970.9h0M1781.6 1975.8h0M1795.6 1976.1h0M1836.9 1978.1h0M1913.4 1978.4h0M1785 1980.7h0M1825.3 1982h0M1910.6 1983.5h0M1800.5 1993.1h0M1831.5 1984.3h0M1834.6 1985h0M1837.7 1985.8h0M1856.3 1985.5h0M1861.7 1986.3h0M1879.6 1985.8h0M1880.7 1988.9h0M1868.2 1992h0M1827.2 1992.7h0M1833.8 1992.7h0M1840.8 1992.7h0M1835.1 1995.8h0M1827.3 1996.6h0M1867.2 1998.1h0M1905.5 1993.5h0M1912.1 1996.1h0M1898.9 1996.9h0M1813.4 2001.5h0M1807.5 2009.7h0M1812.1 2012.5h0M1839.7 2002.8h0M1851.7 2005.1h0M1856.3 2009.7h0M1857.1 2013.5h0M1894 2001.2h0M1874.9 2007.4h0M1882.7 2009.7h0M1883.4 2012.8h0M1892.7 2008.2h0M1912.9 2012.8h0M1926.1 2011.5h0M1835.7 2014.8h0M1812.6 2026.6h0M1855.8 2024h0M1870 2018.9h0M1874.9 2017.4h0M1876.5 2025.9h0M1881.9 2025.1h0M1894.3 2015.9h0M1901.3 2015.1h0M1898.2 2022h0M1952.1 2015.4h0M1962.2 2022.3h0M1941.6 2026.6h0M1842.1 2037.7h0M1859 2036.7h0M1868.7 2034h0M1880.3 2037.4h0M1881.9 2039.7h0M1874.6 2040.2h0M1913.7 2034.3h0M1924.5 2046.4h0M1893.5 2049.8h0M1876.5 2051.6h0M1956.6 2050.5h0M1908.2 2054.8h0M1900.5 2055.6h0M1890.4 2056.2h0M1836.5 2056.2h0M1857.4 2058.7h0M1865.6 2062.1h0M1953.2 2057.9h0M1960.9 2058.5h0M1892 2062.9h0M1859.4 2064.4h0M1866.9 2070.9h0M1909.8 2066.4h0M1916 2065.2h0M1893.5 2067.5h0M1887.3 2071.3h0M1985.3 2067.8h0M1850.9 2075.2h0M1893 2078h0M1973.7 2075.2h0M1986.5 2084.4h0M1830.5 1972.7h0M1855.7 1974.6h0M1893.4 1978.8h0M1845.1 1987.1h0M1865.4 1993h0M1836.3 1996.4h0M1858.4 1998.5h0M1889.7 1991.9h0M1888.4 1999.7h0M1845.9 2006.9h0M1856.6 2012.7h0M1874.8 2007.9h0M1847.6 2017.1h0M1855.4 2014.3h0M1857.2 2025.3h0M1874.3 2026.1h0M1882.1 2027.9h0M1884.9 2027h0M1899.1 2015.6h0" stroke="#7A0E0E"/>
</g>
<rect x="1735.5" y="1844.6" width="262.4" height="249.3" fill="none" stroke="#333" stroke-width="1.2"/>
<text x="1867.2" y="1832.5" font-size="35.5" text-anchor="middle" font-style="italic" textLength="110" lengthAdjust="spacingAndGlyphs">IGHG3</text>
<g fill="none" stroke-linecap="round" stroke-width="4.3">
<path d="M1216.8 2151.6h0M1218.8 2154.7h0M1230.7 2153.5h0M1227.8 2156.8h0M1251 2158.1h0M1186.8 2162.7h0M1209.5 2163h0M1196.1 2168.4h0M1191.4 2169.2h0M1221.9 2168.4h0M1245.9 2167h0M1248.9 2167h0M1258.7 2166.5h0M1263.3 2170.9h0M1207.2 2173.9h0M1211.4 2175.8h0M1221.6 2175.8h0M1255.4 2175.8h0M1191.7 2182h0M1195.1 2185.8h0M1207.2 2186.3h0M1243.4 2189.2h0M1339.4 2191.7h0M1353.3 2194.6h0M1209.5 2194.3h0M1189.9 2196.3h0M1196.1 2196.1h0M1218.5 2195.4h0M1212.6 2198.1h0M1189.7 2199.7h0M1201.8 2202h0M1210.3 2201.5h0M1194.1 2204h0M1191.7 2205.1h0M1201 2205.1h0M1212.9 2205.5h0M1221.9 2206.9h0M1234.7 2208.9h0M1338 2199.2h0M1347.1 2209.7h0M1211.4 2210h0M1207.7 2210.8h0M1203.3 2212h0M1216.2 2211.4h0M1195.6 2213.2h0M1226.1 2213.5h0M1204.6 2214.3h0M1219.6 2216.2h0M1198.7 2217.9h0M1200.6 2220.8h0M1210.8 2219.7h0M1330.9 2211.4h0M1363.3 2211.2h0M1346.3 2216.3h0M1285.3 2216.3h0M1344.5 2223.9h0M1209.5 2226.2h0M1232.4 2227.4h0M1231.6 2229h0M1240.8 2227.4h0M1192.8 2229h0M1201.8 2230.8h0M1220.3 2230.5h0M1226.1 2230h0M1208.8 2232.5h0M1251.3 2234.3h0M1211.1 2235.9h0M1216.5 2235.4h0M1221.4 2236.3h0M1239.4 2235.6h0M1241.5 2237.1h0M1227 2237.9h0M1230.9 2237.4h0M1228.5 2239.7h0M1233.5 2240.5h0M1237 2240h0M1249.7 2241.3h0M1252 2240.8h0M1337.5 2235.9h0M1208.8 2242.8h0M1219.6 2243.6h0M1265.9 2242.8h0M1269.3 2245.9h0M1231.2 2245.9h0M1235.8 2245.4h0M1240 2244.4h0M1207.2 2249.3h0M1226.8 2250.5h0M1231.9 2252.8h0M1226.1 2255.1h0M1233.5 2255.1h0M1238.6 2255.9h0M1242.8 2254.8h0M1260.1 2252.5h0M1268.6 2254.7h0M1197.2 2254.1h0M1198.7 2256.4h0M1318.2 2245.1h0M1343.7 2244.1h0M1351 2244.8h0M1327 2249.8h0M1319.6 2251.8h0M1368.3 2253.3h0M1349.4 2256.2h0M1218.8 2259.8h0M1204.1 2262.4h0M1254.4 2259.8h0M1334.7 2257.8h0M1359.9 2258.5h0M1308 2266.4h0M1263.3 2264.9h0M1240.4 2265.5h0M1242 2266.7h0M1239.7 2268.2h0M1220.8 2270.6h0M1315.4 2267.9h0M1348.2 2267.5h0M1304.1 2269.5h0M1260.5 2272.4h0M1369.2 2271.6h0M1262.1 2275.6h0M1273.2 2275.6h0M1331.6 2274.9h0M1360.2 2274.1h0M1230.1 2279.8h0M1231.2 2281h0M1228.1 2281.8h0M1244 2280.1h0M1245.1 2282.4h0M1253.6 2281.3h0M1255.1 2282.9h0M1267 2282.4h0M1285.3 2282.1h0M1233.5 2284.7h0M1270.6 2284.9h0M1228.8 2288.6h0M1239.4 2288h0M1236.6 2291.8h0M1248.5 2289.4h0M1255.6 2290.3h0M1252.8 2292.9h0M1248.9 2297.1h0M1256.2 2296.7h0M1294.5 2290.6h0M1298.4 2293.7h0M1304.6 2289.5h0M1327.8 2289.8h0M1316.5 2296h0M1365.2 2293.7h0M1286.8 2298.3h0M1339.4 2302.1h0M1247.1 2309.1h0M1255.9 2313.7h0M1274.9 2312.2h0M1288.1 2306.8h0M1293.8 2308.3h0M1300 2309.1h0M1301.5 2311.4h0M1342.2 2305.2h0M1350.5 2307.5h0M1382.7 2306h0M1325.8 2309.8h0M1354.1 2314.2h0M1367.2 2312.2h0M1407.9 2315.2h0M1276 2324.5h0M1272.9 2333.4h0M1320.8 2326.8h0M1361 2326.8h0M1351.7 2329.1h0M1378.8 2324.8h0M1400.1 2326.8h0M1393.5 2328.3h0M1389.6 2330.6h0M1298.9 2333.7h0M1307.2 2340.7h0M1320.1 2336.8h0M1380.3 2344.5h0M1404.3 2337.6h0M1406.6 2336h0M1396.3 2345.6h0M1336.6 2349.1h0M1288.1 2350.4h0M1314.3 2352.5h0M1324.7 2355.6h0M1389.6 2352.5h0M1364.1 2359.9h0M1284.8 2360.2h0M1408.9 2362.5h0M1349.9 2370.4h0M1357.9 2370.4h0M1364.1 2369.2h0M1396.6 2369.6h0M1331.3 2380h0M1341.2 2382h0M1411.3 2380.7h0M1395.8 2388h0M1424.4 2384.6h0M1435.2 2387.3h0M1442.2 2394.1h0M1314.9 2279h0M1278.8 2276.7h0M1293.4 2291.1h0M1305.1 2289.7h0M1286.5 2306.1h0M1294.2 2310.9h0M1334.1 2318.4h0M1297.3 2320.9h0M1303.7 2318.3h0M1323 2318.9h0M1347.3 2319.6h0" stroke="#FDF6EC"/>
<path d="M1349.1 2262.1h0M1286.8 2264.1h0M1298.7 2276.3h0M1297.2 2278.3h0M1311.5 2274.7h0M1278.8 2279.5h0M1320.5 2287h0M1317 2289h0M1286 2289.8h0M1289.1 2296.7h0M1303 2302.9h0M1353.6 2297.5h0M1360.2 2300.1h0M1315.4 2305.2h0M1319 2314.5h0M1338.9 2311.4h0M1327.8 2318.3h0M1284 2318.8h0M1296.9 2323.7h0M1325.5 2319.9h0M1330.1 2321.4h0M1332.4 2322.9h0M1336.3 2331.4h0M1343.2 2323.7h0M1364.4 2328.3h0M1350.2 2331.4h0M1313.9 2340.7h0M1322.8 2344.2h0M1326.2 2346.1h0M1348.6 2359.6h0M1340.1 2366.9h0M1292.5 2370.2h0M1341.7 2371.5h0M1282.6 2279.7h0M1304 2278.6h0M1341.6 2282.8h0M1291 2294.6h0M1323 2311.9h0M1312.3 2311.7h0M1319.4 2317.2h0M1331.6 2314.7h0M1323.3 2330.2h0M1322.5 2330.1h0M1330.3 2331.9h0" stroke="#FDE6C6"/>
<path d="M1320.1 2198.6h0M1354.8 2204.8h0M1364.9 2203.4h0M1374.2 2205.1h0M1329.8 2204.6h0M1296.9 2206.6h0M1305.4 2212.3h0M1322.8 2209.4h0M1317.3 2217.1h0M1291.5 2225.1h0M1336 2224.3h0M1339.8 2223.6h0M1353.3 2224.6h0M1283.7 2234.8h0M1299.5 2237.1h0M1317.4 2235.1h0M1327.8 2233.6h0M1328.9 2236.2h0M1374.9 2237.4h0M1341.7 2240.5h0M1371.8 2244.4h0M1347.9 2249.3h0M1363 2252.4h0M1375.4 2256.4h0M1286 2255.1h0M1299.2 2262.1h0M1300.7 2264.4h0M1338.9 2263.9h0M1372.6 2272.6h0M1315.4 2277h0M1314.6 2279.8h0M1358.7 2276.4h0M1391.6 2277.5h0M1303 2283.7h0M1345.6 2282.4h0M1342.5 2287.5h0M1358.7 2287.5h0M1279.9 2288.3h0M1292.2 2292.9h0M1275.5 2296.7h0M1283.4 2299.8h0M1271.7 2300.6h0M1307.7 2301.4h0M1320.1 2300.6h0M1297.9 2302.1h0M1338.1 2297.8h0M1347.1 2300.9h0M1257.8 2303.7h0M1260.5 2316.5h0M1294.5 2310.6h0M1304.6 2313.7h0M1317 2315.2h0M1330.9 2313.7h0M1331.6 2316.8h0M1340.9 2312.2h0M1370.3 2310.3h0M1361 2316.8h0M1368.7 2317.5h0M1261 2330.6h0M1300 2322.6h0M1305.8 2320.6h0M1308.5 2327.1h0M1304.1 2328h0M1334.7 2328h0M1334 2333h0M1349.4 2319.1h0M1341.7 2326.8h0M1346.3 2326h0M1357.2 2326.3h0M1407.4 2325.3h0M1347.9 2334.5h0M1296.9 2336h0M1283 2341.1h0M1290.4 2341.7h0M1305.8 2342.5h0M1317 2338h0M1326.5 2339.1h0M1328.6 2341.4h0M1330.1 2343.7h0M1310.8 2349.1h0M1366.9 2335.6h0M1388.5 2341.4h0M1377.2 2349.9h0M1325.5 2349.9h0M1324.7 2353h0M1341.7 2353.8h0M1358.7 2358.1h0M1356.4 2358.8h0M1332.4 2365.8h0M1346.3 2367.2h0M1306.1 2372.6h0M1315.1 2374.9h0M1433.2 2371.8h0M1434 2374.3h0M1299.2 2379.2h0M1402.3 2387.2h0M1318.9 2287.1h0M1313.6 2297h0M1302.3 2303.9h0M1337.9 2295.9h0M1304.8 2316.7h0M1323.8 2308.3h0M1295.9 2321.1h0M1318.5 2328.9h0M1333.1 2331h0" stroke="#FBD3A2"/>
<path d="M1272.6 2180.4h0M1347.9 2188.6h0M1341.7 2190.4h0M1345.6 2202.8h0M1347.9 2204.3h0M1312.3 2207.7h0M1306.9 2210.8h0M1335.5 2214.6h0M1344.8 2218.2h0M1339.7 2217.4h0M1302.6 2221.2h0M1308 2224.6h0M1293.8 2223.6h0M1288.7 2226.9h0M1305.8 2232.5h0M1335.5 2237.4h0M1345.6 2234.3h0M1357.9 2236.7h0M1376.5 2233.1h0M1314.3 2244.4h0M1353.8 2249h0M1293.3 2256.7h0M1293 2265.9h0M1322.8 2264.9h0M1327.3 2265.9h0M1288.7 2269.8h0M1366.4 2269.3h0M1302 2280.9h0M1335.5 2284.4h0M1338.6 2285.5h0M1361.5 2282.4h0M1273.7 2286h0M1283 2289h0M1310 2290.3h0M1304.1 2294.4h0M1328.9 2292.9h0M1373.4 2291h0M1380.6 2293.2h0M1282.2 2296.7h0M1275.7 2300.6h0M1301.5 2297.5h0M1304.6 2299.8h0M1311.5 2301.4h0M1315.4 2302.1h0M1261.8 2305.5h0M1305.4 2317.5h0M1323.1 2311.4h0M1315.4 2312.2h0M1358.4 2312.2h0M1364.1 2314.8h0M1260.2 2327.6h0M1318.2 2322.9h0M1323.1 2321.4h0M1326.2 2327.6h0M1324.7 2329.9h0M1330.1 2329.1h0M1342.5 2319.9h0M1345.6 2320.6h0M1410.2 2326.3h0M1396.3 2330.6h0M1308.5 2338.7h0M1310 2346.8h0M1361.8 2338.3h0M1357.9 2345.3h0M1381.9 2349.1h0M1296.9 2352.2h0M1335.5 2355.8h0M1338.6 2360.2h0M1305.7 2362.7h0M1313.9 2366.1h0M1401.2 2361.9h0M1307.7 2368.4h0M1311.2 2371.9h0M1338.1 2373.8h0M1335.5 2375.3h0M1426.7 2368.4h0M1421.6 2379.2h0M1439.5 2378.7h0M1295 2279.2h0M1303.8 2286.3h0M1318.3 2284.8h0M1283.2 2286.4h0M1284.2 2290.9h0M1330.8 2287.5h0M1330.5 2290.8h0M1284.6 2300.4h0M1306.7 2302.5h0M1308.7 2298.8h0M1336.6 2303.7h0M1327.2 2316h0M1305.5 2329.3h0M1316.7 2322h0M1329.1 2320h0M1345.2 2326.6h0" stroke="#F9BB88"/>
<path d="M1345.6 2189.4h0M1354.8 2193.8h0M1297.9 2209.2h0M1342.2 2207.8h0M1369.2 2211.7h0M1348.6 2215.1h0M1367.7 2218.9h0M1379.6 2253.1h0M1301.8 2258.7h0M1409.4 2311.1h0M1377.2 2337.3h0M1374.2 2342.2h0M1378.8 2341.9h0M1401.5 2341.9h0M1394.7 2344.5h0M1402.8 2346.1h0M1372.6 2350.4h0M1422.8 2355h0M1407.4 2366.5h0M1423.2 2365.6h0M1408.2 2370.7h0M1387 2375.6h0M1413.6 2380h0M1432.9 2385.3h0M1437.5 2386.4h0" stroke="#F68E5E"/>
<path d="M1233.9 2181.2h0M1199.8 2189.7h0M1200.2 2257.1h0M1260.5 2281.8h0M1376.5 2304h0M1400.1 2319.4h0M1368 2351h0M1404.6 2354.5h0M1405.1 2356.8h0M1420.5 2358.4h0M1428.3 2362.7h0M1416.4 2374.3h0M1434.4 2388.4h0" stroke="#EC654A"/>
<path d="M1238.9 2168.4h0M1216.6 2179.3h0M1214.9 2199.4h0M1212.6 2241.3h0M1374.2 2315.5h0M1371.4 2323.7h0M1381.1 2323.7h0M1381.4 2337.1h0M1394.3 2341.9h0M1394.3 2358.8h0M1381.9 2370.4h0M1391.9 2376.6h0M1370.3 2376.6h0M1425.2 2385.7h0" stroke="#D63222"/>
<path d="M1192.5 2173h0M1204.4 2196.9h0M1223.4 2218.5h0M1245.5 2231.7h0" stroke="#A81414"/>
<path d="M1239.4 2155.8h0M1239.4 2200.6h0" stroke="#7A0E0E"/>
</g>
<rect x="1184.1" y="2148.6" width="261.7" height="249.3" fill="none" stroke="#333" stroke-width="1.2"/>
<text x="1315.4" y="2134" font-size="35.5" text-anchor="middle" font-style="italic" textLength="102" lengthAdjust="spacingAndGlyphs">STAT1</text>
<g fill="none" stroke-linecap="round" stroke-width="4.3">
<path d="M1620.1 2189.4h0M1581.5 2210.8h0M1506.9 2227.4h0M1592.7 2245.1h0M1646.4 2244.4h0M1560.6 2255.1h0M1578.7 2328h0M1600 2319.9h0M1600.8 2327.6h0M1588.4 2366.1h0M1675.8 2361.9h0M1699.8 2385.7h0M1553.4 2276.7h0M1561 2306.1h0M1570.4 2321.1h0M1597 2330.1h0" stroke="#FDF6EC"/>
<path d="M1623.7 2262.1h0M1561.4 2264.1h0M1606.2 2274.9h0M1610.1 2284.4h0M1591.5 2289h0M1573 2293.7h0M1563.7 2296.7h0M1579.1 2299.8h0M1628.2 2297.5h0M1634.8 2300.1h0M1562.6 2306.8h0M1568.3 2308.3h0M1593.5 2314.5h0M1628.6 2314.2h0M1535.5 2330.6h0M1604.7 2321.4h0M1610.8 2331.4h0M1617 2319.9h0M1620.1 2320.6h0M1624 2319.1h0M1594.6 2336.8h0M1585.3 2349.1h0M1599.2 2353h0M1616.3 2353.8h0M1607 2365.8h0M1620.9 2367.2h0M1612.7 2373.8h0M1615.8 2382h0M1558.7 2290.9h0M1583.3 2298.8h0M1568.8 2310.9h0M1586.9 2311.7h0M1593.9 2317.2h0" stroke="#FBD3A2"/>
<path d="M1558.3 2234.8h0M1590 2267.9h0M1571.7 2278.3h0M1586.1 2274.7h0M1548.2 2286h0M1595.1 2287h0M1617 2287.5h0M1566.8 2292.9h0M1584.6 2290.3h0M1603.4 2292.9h0M1546.2 2300.6h0M1576 2297.5h0M1612.7 2297.8h0M1621.7 2300.9h0M1521.6 2309.1h0M1535.1 2316.5h0M1549.4 2312.2h0M1574.5 2309.1h0M1600.3 2309.8h0M1597.7 2311.4h0M1605.4 2313.7h0M1606.2 2316.8h0M1558.6 2318.8h0M1592.7 2322.9h0M1607 2322.9h0M1608.5 2333h0M1639 2328.3h0M1622.4 2334.5h0M1564.9 2341.7h0M1580.4 2342.5h0M1591.5 2338h0M1603.1 2341.4h0M1600.8 2346.1h0M1584.6 2346.8h0M1562.6 2350.4h0M1571.4 2352.2h0M1599.2 2355.6h0M1613.2 2360.2h0M1580.7 2372.6h0M1585.8 2371.9h0M1616.3 2371.5h0M1569.5 2279.2h0M1593.5 2287.1h0M1581.3 2302.5h0M1606.2 2314.7h0M1601.7 2316h0M1578.2 2318.3h0M1580 2329.3h0M1619.7 2326.6h0" stroke="#F9BB88"/>
<path d="M1547.1 2180.4h0M1575.3 2264.4h0M1582.5 2266.4h0M1563.2 2269.8h0M1573.3 2276.3h0M1589.2 2279.8h0M1634.8 2274.1h0M1613.2 2285.5h0M1554.4 2288.3h0M1557.5 2289h0M1648 2291h0M1550.2 2300.6h0M1577.6 2302.9h0M1536.3 2305.5h0M1530.4 2313.7h0M1591.5 2315.2h0M1615.5 2312.2h0M1633 2312.2h0M1550.5 2324.5h0M1574.5 2322.6h0M1580.4 2320.6h0M1604.7 2329.1h0M1609.3 2328h0M1620.9 2326h0M1645.9 2323.7h0M1668.1 2328.3h0M1670.8 2330.6h0M1557.5 2341.1h0M1651.8 2337.3h0M1648.7 2342.2h0M1611.1 2349.1h0M1651.8 2349.9h0M1588.9 2352.5h0M1695.1 2358.4h0M1702.9 2362.7h0M1582.2 2368.4h0M1624.4 2370.4h0M1610.1 2375.3h0M1708.6 2374.3h0M1573.7 2379.2h0M1712.1 2386.4h0M1589.4 2279h0M1578.5 2278.6h0M1616.1 2282.8h0M1567.9 2291.1h0M1565.5 2294.6h0M1605.3 2287.5h0M1603.7 2320h0M1604.8 2331.9h0M1607.7 2331h0" stroke="#F68E5E"/>
<path d="M1567.5 2265.9h0M1597.4 2264.9h0M1643.8 2271.6h0M1647.2 2272.6h0M1590 2277h0M1633.3 2276.4h0M1559.8 2282.1h0M1576.5 2280.9h0M1636 2282.4h0M1560.6 2289.8h0M1602.3 2289.8h0M1639.8 2293.7h0M1655.2 2293.2h0M1556.7 2296.7h0M1558 2299.8h0M1586.1 2301.4h0M1590 2302.1h0M1613.9 2302.1h0M1576 2311.4h0M1625.1 2307.5h0M1613.5 2311.4h0M1644.9 2310.3h0M1635.6 2316.8h0M1643.3 2317.5h0M1599.2 2329.9h0M1616.3 2326.8h0M1631.7 2326.3h0M1635.6 2326.8h0M1583 2338.7h0M1604.7 2343.7h0M1641.5 2335.6h0M1656 2337.1h0M1676.1 2341.9h0M1670.8 2345.6h0M1656.5 2349.1h0M1600 2349.9h0M1679.2 2354.5h0M1630.9 2358.8h0M1623.2 2359.6h0M1697.8 2365.6h0M1638.7 2369.2h0M1605.9 2380h0M1696.2 2379.2h0M1676.9 2387.2h0M1707.5 2385.3h0M1578.4 2286.3h0M1557.8 2286.4h0M1598.3 2308.3h0M1597.6 2311.9h0M1597.6 2318.9h0M1597.8 2330.2h0M1621.9 2319.6h0" stroke="#EC654A"/>
<path d="M1493.3 2154.7h0M1513.4 2168.4h0M1496.1 2175.8h0M1484 2194.3h0M1466.2 2205.1h0M1571.4 2206.6h0M1579.9 2212.3h0M1482.2 2210.8h0M1494.1 2216.2h0M1475.1 2220.8h0M1485.3 2219.7h0M1610.1 2214.6h0M1591.8 2217.1h0M1582.5 2224.6h0M1476.3 2230.8h0M1494.9 2230.5h0M1483.3 2232.5h0M1520.1 2231.7h0M1511.6 2240h0M1510.3 2245.4h0M1500.6 2255.1h0M1471.7 2254.1h0M1625.5 2244.8h0M1601.6 2249.8h0M1637.6 2252.4h0M1654.1 2253.1h0M1478.6 2262.4h0M1537.8 2264.9h0M1601.9 2265.9h0M1622.7 2267.5h0M1666.2 2277.5h0M1504.6 2279.8h0M1528.1 2281.3h0M1535.1 2281.8h0M1553.3 2279.5h0M1577.6 2283.7h0M1508 2284.7h0M1503.4 2288.6h0M1511.1 2291.8h0M1523 2289.4h0M1569.1 2290.6h0M1579.1 2289.5h0M1578.7 2294.4h0M1550.1 2296.7h0M1582.2 2301.4h0M1594.6 2300.6h0M1532.3 2303.7h0M1590 2305.2h0M1657.2 2306h0M1590 2312.2h0M1641.8 2312.2h0M1638.7 2314.8h0M1648.7 2315.5h0M1684 2311.1h0M1682.4 2315.2h0M1602.3 2318.3h0M1571.4 2323.7h0M1583 2327.1h0M1597.7 2321.4h0M1617.8 2323.7h0M1626.3 2329.1h0M1624.8 2331.4h0M1684.8 2326.3h0M1571.4 2336h0M1601.1 2339.1h0M1636.4 2338.3h0M1654.9 2344.5h0M1678.9 2337.6h0M1669.3 2344.5h0M1632.5 2345.3h0M1647.2 2350.4h0M1642.5 2351h0M1679.7 2356.8h0M1668.8 2358.8h0M1559.3 2360.2h0M1580.2 2362.7h0M1567.1 2370.2h0M1589.7 2374.9h0M1682.7 2370.7h0M1707.8 2371.8h0M1690.9 2374.3h0M1644.9 2376.6h0M1688.2 2380h0M1709 2388.4h0M1557.1 2279.7h0M1579.6 2289.7h0M1605 2290.8h0M1588.2 2297h0M1559.2 2300.4h0M1612.5 2295.9h0M1611.2 2303.7h0M1571.8 2320.9h0M1593 2328.9h0" stroke="#D63222"/>
<path d="M1505.2 2153.5h0M1470.6 2168.4h0M1481.7 2186.3h0M1474.3 2189.7h0M1478.9 2196.9h0M1493 2195.4h0M1487.1 2198.1h0M1513.9 2200.6h0M1473.2 2217.9h0M1643.8 2211.7h0M1642.2 2218.9h0M1627.9 2224.6h0M1467.3 2229h0M1525.8 2234.3h0M1603.4 2236.2h0M1610.1 2237.4h0M1540.5 2242.8h0M1517.3 2254.8h0M1588.9 2244.4h0M1650 2256.4h0M1634.5 2258.5h0M1516.5 2266.7h0M1535.1 2272.4h0M1502.6 2281.8h0M1518.5 2280.1h0M1530.7 2296.7h0M1674.7 2319.4h0M1674.7 2326.8h0M1664.2 2330.6h0M1681.2 2336h0M1664.2 2352.5h0M1697.4 2355h0M1656.5 2370.4h0M1661.6 2375.6h0M1670.4 2388h0" stroke="#A81414"/>
<path d="M1491.3 2151.6h0M1502.3 2156.8h0M1513.9 2155.8h0M1525.5 2158.1h0M1461.3 2162.7h0M1484 2163h0M1465.9 2169.2h0M1467 2173h0M1496.4 2168.4h0M1520.4 2167h0M1523.5 2167h0M1533.2 2166.5h0M1537.8 2170.9h0M1481.7 2173.9h0M1485.9 2175.8h0M1530 2175.8h0M1491.1 2179.3h0M1466.2 2182h0M1508.5 2181.2h0M1469.7 2185.8h0M1517.9 2189.2h0M1622.4 2188.6h0M1616.3 2190.4h0M1613.9 2191.7h0M1629.4 2193.8h0M1627.9 2194.6h0M1464.4 2196.3h0M1470.6 2196.1h0M1489.4 2199.4h0M1464.2 2199.7h0M1476.3 2202h0M1484.8 2201.5h0M1468.6 2204h0M1475.5 2205.1h0M1487.4 2205.5h0M1496.4 2206.9h0M1509.2 2208.9h0M1594.6 2198.6h0M1612.5 2199.2h0M1620.1 2202.8h0M1622.4 2204.3h0M1629.4 2204.8h0M1639.4 2203.4h0M1648.7 2205.1h0M1604.3 2204.6h0M1572.5 2209.2h0M1586.9 2207.7h0M1597.4 2209.4h0M1616.7 2207.8h0M1621.7 2209.7h0M1485.9 2210h0M1477.8 2212h0M1490.7 2211.4h0M1470.1 2213.2h0M1500.6 2213.5h0M1479.1 2214.3h0M1498 2218.5h0M1605.4 2211.4h0M1637.9 2211.2h0M1623.2 2215.1h0M1620.9 2216.3h0M1619.3 2218.2h0M1614.2 2217.4h0M1559.8 2216.3h0M1577.1 2221.2h0M1568.3 2223.6h0M1566 2225.1h0M1563.2 2226.9h0M1610.5 2224.3h0M1614.4 2223.6h0M1619 2223.9h0M1484 2226.2h0M1506.1 2229h0M1515.3 2227.4h0M1500.6 2230h0M1485.6 2235.9h0M1491 2235.4h0M1495.9 2236.3h0M1513.9 2235.6h0M1516 2237.1h0M1501.5 2237.9h0M1505.4 2237.4h0M1503.1 2239.7h0M1508 2240.5h0M1524.2 2241.3h0M1526.6 2240.8h0M1487.1 2241.3h0M1580.4 2232.5h0M1574 2237.1h0M1592 2235.1h0M1602.3 2233.6h0M1612.1 2235.9h0M1620.1 2234.3h0M1632.5 2236.7h0M1651 2233.1h0M1649.5 2237.4h0M1616.3 2240.5h0M1483.3 2242.8h0M1494.1 2243.6h0M1543.9 2245.9h0M1505.7 2245.9h0M1514.5 2244.4h0M1481.7 2249.3h0M1501.4 2250.5h0M1506.5 2252.8h0M1508 2255.1h0M1513.1 2255.9h0M1534.6 2252.5h0M1543.1 2254.7h0M1473.2 2256.4h0M1474.8 2257.1h0M1618.3 2244.1h0M1622.4 2249.3h0M1628.3 2249h0M1594.1 2251.8h0M1642.9 2253.3h0M1567.8 2256.7h0M1624 2256.2h0M1493.3 2259.8h0M1528.9 2259.8h0M1576.4 2258.7h0M1573.7 2262.1h0M1609.3 2257.8h0M1515 2265.5h0M1514.2 2268.2h0M1495.3 2270.6h0M1613.5 2263.9h0M1578.7 2269.5h0M1641 2269.3h0M1536.6 2275.6h0M1547.7 2275.6h0M1505.7 2281h0M1519.6 2282.4h0M1529.7 2282.9h0M1541.6 2282.4h0M1620.1 2282.4h0M1545.1 2284.9h0M1633.3 2287.5h0M1513.9 2288h0M1530.1 2290.3h0M1527.3 2292.9h0M1523.5 2297.1h0M1591 2296h0M1561.4 2298.3h0M1572.5 2302.1h0M1569.1 2310.6h0M1579.1 2313.7h0M1579.9 2317.5h0M1616.7 2305.2h0M1651 2304h0M1534.8 2327.6h0M1547.4 2333.4h0M1595.4 2326.8h0M1653.4 2324.8h0M1655.7 2323.7h0M1682 2325.3h0M1573.4 2333.7h0M1581.8 2340.7h0M1588.4 2340.7h0M1597.4 2344.2h0M1653.4 2341.9h0M1663.1 2341.4h0M1668.8 2341.9h0M1677.3 2346.1h0M1610.1 2355.8h0M1633.3 2358.1h0M1638.7 2359.9h0M1683.5 2362.5h0M1614.7 2366.9h0M1682 2366.5h0M1632.5 2370.4h0M1671.2 2369.6h0M1701.3 2368.4h0M1666.5 2376.6h0M1685.8 2380.7h0M1699 2384.6h0M1709.8 2387.3h0M1716.8 2394.1h0M1714.1 2378.7h0M1592.8 2284.8h0M1576.9 2303.9h0M1579.4 2316.7h0M1608.7 2318.4h0M1591.2 2322h0" stroke="#7A0E0E"/>
</g>
<rect x="1458.6" y="2148.6" width="261.8" height="249.3" fill="none" stroke="#333" stroke-width="1.2"/>
<text x="1590" y="2134" font-size="35.5" text-anchor="middle" font-style="italic" textLength="100" lengthAdjust="spacingAndGlyphs">ISG15</text>
<g fill="none" stroke-linecap="round" stroke-width="4.3">
<path d="M1768.3 2151.6h0M1782.2 2153.5h0M1779.3 2156.8h0M1802.5 2158.1h0M1738.2 2162.7h0M1761 2163h0M1747.5 2168.4h0M1742.9 2169.2h0M1773.4 2168.4h0M1800.5 2167h0M1814.9 2170.9h0M1758.7 2173.9h0M1762.8 2175.8h0M1807 2175.8h0M1768.1 2179.3h0M1743.2 2182h0M1758.7 2186.3h0M1751.2 2189.7h0M1794.9 2189.2h0M1741.3 2196.3h0M1747.5 2196.1h0M1770 2195.4h0M1764.1 2198.1h0M1766.4 2199.4h0M1741.2 2199.7h0M1753.2 2202h0M1761.8 2201.5h0M1790.9 2200.6h0M1745.5 2204h0M1743.2 2205.1h0M1752.5 2205.1h0M1764.4 2205.5h0M1786.3 2208.9h0M1926.1 2205.1h0M1858.6 2210.8h0M1894 2207.8h0M1762.8 2210h0M1759.1 2210.8h0M1754.8 2212h0M1767.7 2211.4h0M1747 2213.2h0M1756 2214.3h0M1771.1 2216.2h0M1750.1 2217.9h0M1774.9 2218.5h0M1752 2220.8h0M1900.5 2215.1h0M1843.1 2225.1h0M1761 2226.2h0M1792.3 2227.4h0M1744.2 2229h0M1753.2 2230.8h0M1777.6 2230h0M1760.2 2232.5h0M1797.1 2231.7h0M1802.8 2234.3h0M1762.5 2235.9h0M1778.5 2237.9h0M1782.4 2237.4h0M1788.6 2240h0M1801.3 2241.3h0M1803.6 2240.8h0M1835.4 2234.8h0M1760.2 2242.8h0M1771.1 2243.6h0M1817.6 2242.8h0M1782.7 2245.9h0M1791.5 2244.4h0M1758.7 2249.3h0M1783.5 2252.8h0M1777.6 2255.1h0M1794.3 2254.8h0M1811.7 2252.5h0M1923.7 2244.4h0M1871.3 2251.8h0M1931.5 2253.1h0M1837.7 2255.1h0M1845 2256.7h0M1770.3 2259.8h0M1755.6 2262.4h0M1805.9 2259.8h0M1911.8 2258.5h0M1838.5 2264.1h0M1814.9 2264.9h0M1792 2265.5h0M1793.5 2266.7h0M1791.2 2268.2h0M1918.3 2269.3h0M1813.7 2275.6h0M1883.4 2274.9h0M1912.1 2274.1h0M1782.7 2281h0M1779.6 2281.8h0M1806.7 2282.9h0M1854.8 2283.7h0M1887.3 2284.4h0M1890.4 2285.5h0M1897.4 2282.4h0M1822.2 2284.9h0M1894.3 2287.5h0M1788.1 2291.8h0M1800 2289.4h0M1807.2 2290.3h0M1807.8 2296.7h0M1834.6 2289h0M1850.1 2293.7h0M1840.8 2296.7h0M1867.2 2302.1h0M1871.8 2300.6h0M1891.2 2302.1h0M1845.5 2308.3h0M1846.2 2310.6h0M1857.1 2317.5h0M1874.9 2311.4h0M1883.4 2316.8h0M1881.9 2321.4h0M1885.8 2333h0M1909 2326.3h0M1916.3 2328.3h0M1902 2331.4h0M1959.4 2325.3h0M1962.2 2326.3h0M1880.3 2341.4h0M1926.1 2342.2h0M1946.2 2341.9h0M1910.6 2358.1h0M1890.4 2360.2h0M1953.2 2361.9h0M1844.2 2370.2h0M1857.9 2372.6h0M1863 2371.9h0M1866.9 2374.9h0M1893.5 2371.5h0M1890 2373.8h0M1933.8 2370.4h0M1960.2 2370.7h0M1850.9 2379.2h0M1986.5 2388.4h0M1994.3 2394.1h0M1845.1 2291.1h0M1842.7 2294.6h0M1889.7 2295.9h0M1888.4 2303.7h0M1874.8 2311.9h0M1864.1 2311.7h0M1883.4 2314.7h0M1885.9 2318.4h0M1874.8 2318.9h0M1875 2330.2h0" stroke="#FDF6EC"/>
<path d="M1901 2262.1h0M1874.6 2264.9h0M1848.9 2278.3h0M1910.6 2276.4h0M1825.3 2286h0M1837.7 2289.8h0M1925.3 2291h0M1827.2 2296.7h0M1835.1 2299.8h0M1853.2 2297.5h0M1890 2297.8h0M1813.4 2305.5h0M1812.1 2316.5h0M1894 2305.2h0M1890.7 2311.4h0M1892.7 2312.2h0M1912.9 2316.8h0M1812.6 2330.6h0M1824.5 2333.4h0M1860.2 2327.1h0M1872.6 2326.8h0M1874.9 2321.4h0M1884.2 2322.9h0M1878 2327.6h0M1876.5 2329.9h0M1881.9 2329.1h0M1901.3 2319.1h0M1868.7 2338h0M1874.6 2344.2h0M1878 2346.1h0M1909.8 2345.3h0M1888.4 2349.1h0M1876.5 2353h0M1876.5 2355.6h0M1857.4 2362.7h0M1884.2 2365.8h0M1892 2366.9h0M1866.6 2279h0M1870.1 2284.8h0M1870.7 2287.1h0M1882.3 2290.8h0M1836.3 2300.4h0M1858.4 2302.5h0M1860.4 2298.8h0M1845.9 2310.9h0M1878.9 2316h0M1849 2320.9h0M1855.4 2318.3h0M1880.9 2320h0M1884.9 2331h0M1899.1 2319.6h0M1897 2326.6h0" stroke="#FBD3A2"/>
<path d="M1891.2 2191.7h0M1897.4 2202.8h0M1895.5 2244.1h0M1878.8 2249.8h0M1844.7 2265.9h0M1867.2 2267.9h0M1855.8 2269.5h0M1840.3 2269.8h0M1866.4 2279.8h0M1943.6 2277.5h0M1843.9 2292.9h0M1861.7 2290.3h0M1932.6 2293.2h0M1823.3 2300.6h0M1856.3 2299.8h0M1898.9 2300.9h0M1798.7 2309.1h0M1826.6 2312.2h0M1839.7 2306.8h0M1853.2 2311.4h0M1902.3 2307.5h0M1877.5 2309.8h0M1868.7 2315.2h0M1910.3 2312.2h0M1905.9 2314.2h0M1916 2314.8h0M1835.7 2318.8h0M1848.6 2323.7h0M1857.6 2320.6h0M1855.8 2328h0M1894.3 2319.9h0M1850.6 2333.7h0M1834.6 2341.1h0M1860.2 2338.7h0M1859 2340.7h0M1861.7 2346.8h0M1913.7 2338.3h0M1887.3 2355.8h0M1916 2359.9h0M1865.6 2366.1h0M1859.4 2368.4h0M1834.3 2279.7h0M1893.4 2282.8h0M1834.9 2286.4h0M1882.6 2287.5h0M1865.4 2297h0M1854.1 2303.9h0M1838.2 2306.1h0M1875.5 2308.3h0M1874.3 2330.1h0" stroke="#F9BB88"/>
<path d="M1790.4 2168.4h0M1824.2 2180.4h0M1746.6 2185.8h0M1899.7 2188.6h0M1905.1 2194.6h0M1761 2194.3h0M1864.1 2207.7h0M1882.7 2211.4h0M1887.3 2214.6h0M1915.2 2211.2h0M1891.5 2217.4h0M1859.7 2224.6h0M1840.3 2226.9h0M1891.7 2223.6h0M1793.1 2237.1h0M1870 2245.1h0M1914.9 2252.4h0M1920.2 2253.3h0M1853.5 2258.7h0M1852.4 2264.4h0M1772.3 2270.6h0M1879.1 2265.9h0M1890.7 2263.9h0M1850.4 2276.3h0M1867.2 2277h0M1836.9 2282.1h0M1853.7 2280.9h0M1868.7 2289h0M1910.6 2287.5h0M1831.5 2288.3h0M1856.3 2289.5h0M1868.2 2296h0M1833.8 2296.7h0M1838.5 2298.3h0M1863.3 2301.4h0M1849.7 2302.1h0M1807.5 2313.7h0M1920.6 2317.5h0M1827.6 2324.5h0M1811.8 2327.6h0M1870 2322.9h0M1886.5 2328h0M1895.1 2323.7h0M1903.6 2329.1h0M1923.3 2323.7h0M1848.6 2336h0M1918.8 2335.6h0M1933.3 2337.1h0M1932.3 2344.5h0M1940.5 2341.4h0M1848.6 2352.2h0M1908.2 2358.8h0M1980.3 2362.7h0M1968.4 2374.3h0M1938.9 2375.6h0M1883.1 2380h0M1855.7 2278.6h0M1835.9 2290.9h0M1857.2 2329.3h0M1882.1 2331.9h0" stroke="#F68E5E"/>
<path d="M1743.9 2173h0M1773.1 2175.8h0M1785.5 2181.2h0M1755.9 2196.9h0M1889.8 2199.2h0M1916.8 2203.4h0M1898.9 2209.7h0M1921.1 2211.7h0M1869 2217.1h0M1854.3 2221.2h0M1845.5 2223.6h0M1896.3 2223.9h0M1905.1 2224.6h0M1790.9 2235.6h0M1764.1 2241.3h0M1857.6 2232.5h0M1879.6 2233.6h0M1897.4 2234.3h0M1928.4 2233.1h0M1821 2245.9h0M1787.3 2245.4h0M1905.6 2249h0M1927.3 2256.4h0M1850.9 2262.1h0M1886.5 2257.8h0M1859.7 2266.4h0M1812.1 2272.4h0M1921.1 2271.6h0M1824.8 2275.6h0M1863.3 2274.7h0M1913.4 2282.4h0M1872.3 2287h0M1846.2 2290.6h0M1879.6 2289.8h0M1859.4 2301.4h0M1854.8 2302.9h0M1905.5 2297.5h0M1912.1 2300.1h0M1867.2 2305.2h0M1928.4 2304h0M1867.2 2312.2h0M1870.7 2314.5h0M1882.7 2313.7h0M1879.6 2318.3h0M1851.7 2322.6h0M1877.2 2319.9h0M1888.1 2331.4h0M1897.4 2320.6h0M1893.5 2326.8h0M1898.2 2326h0M1912.9 2326.8h0M1952.1 2319.4h0M1865.6 2340.7h0M1871.8 2336.8h0M1878.3 2339.1h0M1881.9 2343.7h0M1929.2 2337.3h0M1956.3 2337.6h0M1946.7 2344.5h0M1929.2 2349.9h0M1924.5 2350.4h0M1919.9 2351h0M1839.7 2350.4h0M1866.1 2352.5h0M1877.2 2349.9h0M1893.5 2353.8h0M1956.6 2354.5h0M1957.1 2356.8h0M1974.9 2355h0M1972.6 2358.4h0M1898.2 2367.2h0M1901.7 2370.4h0M1909.8 2370.4h0M1916 2369.2h0M1986 2374.3h0M1943.9 2376.6h0M1893 2382h0M1963.3 2380.7h0M1947.8 2388h0M1977.2 2385.7h0M1846.7 2279.2h0M1830.5 2276.7h0M1855.6 2286.3h0M1856.8 2289.7h0M1856.6 2316.7h0M1871.1 2317.2h0M1847.6 2321.1h0M1868.4 2322h0M1870.2 2328.9h0" stroke="#EC654A"/>
<path d="M1897.4 2189.4h0M1906.7 2193.8h0M1899.7 2204.3h0M1906.7 2204.8h0M1848.6 2206.6h0M1849.7 2209.2h0M1857.1 2212.3h0M1874.6 2209.4h0M1777.6 2213.5h0M1762.2 2219.7h0M1898.2 2216.3h0M1836.9 2216.3h0M1919.6 2218.9h0M1887.8 2224.3h0M1783.9 2227.4h0M1780.1 2239.7h0M1869.2 2235.1h0M1889.3 2235.9h0M1887.3 2237.4h0M1909.8 2236.7h0M1926.8 2237.4h0M1893.5 2240.5h0M1790.1 2255.9h0M1751.7 2257.1h0M1902.8 2244.8h0M1900 2267.5h0M1924.5 2272.6h0M1795.6 2280.1h0M1796.6 2282.4h0M1805.2 2281.3h0M1812.1 2281.8h0M1818.7 2282.4h0M1830.4 2279.5h0M1785 2284.7h0M1790.9 2288h0M1804.4 2292.9h0M1855.8 2294.4h0M1880.7 2292.9h0M1917.1 2293.7h0M1827.3 2300.6h0M1809.3 2303.7h0M1851.7 2309.1h0M1856.3 2313.7h0M1934.6 2306h0M1922.2 2310.3h0M1919.1 2312.2h0M1926.1 2315.5h0M1959.9 2315.2h0M1933 2323.7h0M1952.1 2326.8h0M1945.4 2328.3h0M1948.2 2330.6h0M1941.6 2330.6h0M1899.7 2334.5h0M1842.1 2341.7h0M1857.6 2342.5h0M1862.5 2349.1h0M1953.5 2341.9h0M1948.2 2345.6h0M1941.6 2352.5h0M1946.2 2358.8h0M1900.5 2359.6h0M1836.5 2360.2h0M1959.4 2366.5h0M1975.2 2365.6h0M1887.3 2375.3h0M1965.6 2380h0M1973.7 2379.2h0M1976.4 2384.6h0M1989.6 2386.4h0M1991.6 2378.7h0" stroke="#D63222"/>
<path d="M1770.3 2154.7h0M1797.4 2167h0M1810.3 2166.5h0M1893.5 2190.4h0M1773.4 2206.9h0M1881.6 2204.6h0M1896.6 2218.2h0M1783.2 2229h0M1768 2235.4h0M1772.9 2236.3h0M1785 2240.5h0M1851.2 2237.1h0M1880.7 2236.2h0M1778.3 2250.5h0M1785 2255.1h0M1820.2 2254.7h0M1748.6 2254.1h0M1750.1 2256.4h0M1866.1 2244.4h0M1899.7 2249.3h0M1901.3 2256.2h0M1781.6 2279.8h0M1780.4 2288.6h0M1800.5 2297.1h0M1930.7 2341.9h0M1960.9 2362.5h0M1948.5 2369.6h0M1978.8 2368.4h0M1985.3 2371.8h0M1922.2 2376.6h0M1954.3 2387.2h0M1985 2385.3h0M1987.3 2387.3h0" stroke="#A81414"/>
<path d="M1790.9 2155.8h0M1871.8 2198.6h0M1771.8 2230.5h0M1961.4 2311.1h0M1930.7 2324.8h0M1958.6 2336h0M1954.7 2346.1h0M1933.8 2349.1h0" stroke="#7A0E0E"/>
</g>
<rect x="1735.5" y="2148.6" width="262.4" height="249.3" fill="none" stroke="#333" stroke-width="1.2"/>
<text x="1867.2" y="2134" font-size="35.5" text-anchor="middle" font-style="italic" textLength="70" lengthAdjust="spacingAndGlyphs">MX1</text>
<rect x="1185" y="2405.7" width="814" height="21.5" fill="url(#orrd)"/>
<text x="1180.5" y="2451" font-size="18.5" font-weight="bold" stroke="#1a1a1a" stroke-width="0.35" stroke-linejoin="round">Low</text>
<text x="1997" y="2450" font-size="18.5" text-anchor="end" font-weight="bold" stroke="#1a1a1a" stroke-width="0.35" stroke-linejoin="round">High</text>
<text x="1434" y="2451.5" font-size="21" font-style="italic" textLength="171" lengthAdjust="spacingAndGlyphs">scaled expression</text>
</g>
<g id="panel-g">
<rect x="113.6" y="2008.5" width="211.9" height="36" fill="#BFBFBF" stroke="#2a2a2a" stroke-width="1.4"/>
<rect x="113.6" y="2044.5" width="211.9" height="380.7" fill="#fff" stroke="#2a2a2a" stroke-width="1.4"/>
<text x="137" y="2039.4" font-size="28.3" textLength="128.2" lengthAdjust="spacingAndGlyphs">PCs<tspan dy="-3">_</tspan><tspan dy="3">SC0</tspan></text>
<circle cx="302.8" cy="2026.3" r="14" fill="#ED1C24" stroke="#1a1a1a" stroke-width="1"/>
<text x="107.6" y="2147.5" font-size="24.5" text-anchor="end" font-weight="bold" stroke="#1a1a1a" stroke-width="0.35" stroke-linejoin="round">100</text>
<text x="107.6" y="2279.8" font-size="24.5" text-anchor="end" font-weight="bold" stroke="#1a1a1a" stroke-width="0.35" stroke-linejoin="round">50</text>
<text x="107.6" y="2412" font-size="24.5" text-anchor="end" font-weight="bold" stroke="#1a1a1a" stroke-width="0.35" stroke-linejoin="round">0</text>
<path d="M113.6 2138.8h-5.6M113.6 2271.1h-5.6M113.6 2403.3h-5.6M143.7 2423.2v-6M194.3 2423.2v-6M244.5 2423.2v-6M294.9 2423.2v-6" fill="none" stroke="#333" stroke-width="1.1"/>
<g clip-path="url(#clip_g1)">
<line x1="143.7" y1="2138.8" x2="143.7" y2="2403.3" stroke="#333" stroke-width="1.1"/>
<rect x="138.3" y="2216.4" width="10.8" height="77.2" fill="#6ABF69" stroke="#555" stroke-width="1"/>
<line x1="194.3" y1="2138.8" x2="194.3" y2="2238" stroke="#333" stroke-width="1.1"/>
<rect x="188.9" y="2185.6" width="10.8" height="32.6" fill="#DADAEB" stroke="#555" stroke-width="1"/>
<line x1="244.5" y1="2138.8" x2="244.5" y2="2403.3" stroke="#333" stroke-width="1.1"/>
<rect x="239.1" y="2214.8" width="10.8" height="85.5" fill="#9E9AC8" stroke="#555" stroke-width="1"/>
<line x1="239.1" y1="2266.6" x2="249.9" y2="2266.6" stroke="#555" stroke-width="1"/>
<line x1="294.9" y1="2138.8" x2="294.9" y2="2274.9" stroke="#333" stroke-width="1.1"/>
<rect x="289.5" y="2178.4" width="10.8" height="96.5" fill="#54278F" stroke="#555" stroke-width="1"/>
<line x1="289.5" y1="2231.3" x2="300.3" y2="2231.3" stroke="#555" stroke-width="1"/>
<path d="M138.7 2138.8h0M148.7 2138.8h0M143.7 2205.8h0M143.7 2227.2h0M134.3 2271.1h0M143.7 2271.1h0M153.1 2271.1h0M138.7 2297.6h0M148.7 2297.6h0M143.7 2315.6h0M143.7 2403.3h0M194.3 2138.8h0M189.3 2182.2h0M199.3 2182.2h0M184.9 2208.1h0M194.3 2208.1h0M203.7 2208.1h0M194.3 2220.5h0M194.3 2238h0M194.3 2403.3h0M244.5 2138.8h0M244.5 2179.5h0M244.5 2227.2h0M244.5 2262.5h0M244.5 2271.1h0M244.5 2297.6h0M244.5 2307.5h0M244.5 2403.3h0M294.9 2138.8h0M294.9 2191.9h0M290 2274.9h0M299.8 2274.9h0" fill="none" stroke="#000" stroke-width="10.8" stroke-linecap="round"/>
</g>
<path d="M143.7 2069.6V2061.4H294.9V2069.6" fill="none" stroke="#1a1a1a" stroke-width="1.1"/>
<text x="219.5" y="2058.6" font-size="19.5" text-anchor="middle">ns</text>
<path d="M143.7 2101.6V2093.4H244.5V2101.6" fill="none" stroke="#1a1a1a" stroke-width="1.1"/>
<text x="194.3" y="2090.7" font-size="19.5" text-anchor="middle">ns</text>
<path d="M143.7 2133.3V2125.1H194.3V2133.3" fill="none" stroke="#1a1a1a" stroke-width="1.1"/>
<text x="169.1" y="2122.7" font-size="19.5" text-anchor="middle">ns</text>
<text x="128.7" y="2463" font-size="28.6" text-anchor="middle" font-weight="bold" stroke="#1a1a1a" stroke-width="0.35" stroke-linejoin="round" transform="rotate(-33 128.7 2463)">pHC</text>
<text x="186.5" y="2463" font-size="28.6" text-anchor="middle" font-weight="bold" stroke="#1a1a1a" stroke-width="0.35" stroke-linejoin="round" transform="rotate(-33 186.5 2463)">G1</text>
<text x="236.7" y="2463" font-size="28.6" text-anchor="middle" font-weight="bold" stroke="#1a1a1a" stroke-width="0.35" stroke-linejoin="round" transform="rotate(-33 236.7 2463)">G2</text>
<text x="291.8" y="2467.1" font-size="28.6" text-anchor="middle" font-weight="bold" stroke="#1a1a1a" stroke-width="0.35" stroke-linejoin="round" transform="rotate(-33 291.8 2467.1)">G3</text>
<rect x="381.5" y="2008.5" width="211.9" height="36" fill="#BFBFBF" stroke="#2a2a2a" stroke-width="1.4"/>
<rect x="381.5" y="2044.5" width="211.9" height="380.7" fill="#fff" stroke="#2a2a2a" stroke-width="1.4"/>
<text x="413.2" y="2039.4" font-size="28.3" textLength="126" lengthAdjust="spacingAndGlyphs">PCs<tspan dy="-3">_</tspan><tspan dy="3">SC1</tspan></text>
<circle cx="570.5" cy="2025.2" r="14" fill="#B5E2E4" stroke="#1a1a1a" stroke-width="1"/>
<text x="375.5" y="2147.5" font-size="24.5" text-anchor="end" font-weight="bold" stroke="#1a1a1a" stroke-width="0.35" stroke-linejoin="round">100</text>
<text x="375.5" y="2279.8" font-size="24.5" text-anchor="end" font-weight="bold" stroke="#1a1a1a" stroke-width="0.35" stroke-linejoin="round">50</text>
<text x="375.5" y="2412" font-size="24.5" text-anchor="end" font-weight="bold" stroke="#1a1a1a" stroke-width="0.35" stroke-linejoin="round">0</text>
<path d="M381.5 2138.8h-5.6M381.5 2271.1h-5.6M381.5 2403.3h-5.6M411.9 2423.2v-6M462.3 2423.2v-6M512.7 2423.2v-6M563 2423.2v-6" fill="none" stroke="#333" stroke-width="1.1"/>
<g clip-path="url(#clip_g2)">
<line x1="411.9" y1="2138.8" x2="411.9" y2="2403.3" stroke="#333" stroke-width="1.1"/>
<rect x="406.5" y="2255.5" width="10.8" height="147.8" fill="#6ABF69" stroke="#555" stroke-width="1"/>
<line x1="462.3" y1="2363.3" x2="462.3" y2="2403.3" stroke="#333" stroke-width="1.1"/>
<rect x="456.9" y="2375.2" width="10.8" height="28.1" fill="#DADAEB" stroke="#555" stroke-width="1"/>
<line x1="512.7" y1="2238" x2="512.7" y2="2403.3" stroke="#333" stroke-width="1.1"/>
<rect x="507.3" y="2282.3" width="10.8" height="87.7" fill="#9E9AC8" stroke="#555" stroke-width="1"/>
<line x1="507.3" y1="2306.4" x2="518.1" y2="2306.4" stroke="#555" stroke-width="1"/>
<rect x="557.6" y="2391.9" width="10.8" height="11.4" fill="#54278F" stroke="#555" stroke-width="1"/>
<path d="M411.9 2138.8h0M411.9 2227.2h0M411.9 2240.7h0M407.1 2271.1h0M416.7 2271.1h0M411.9 2315.6h0M411.9 2355.4h0M398.4 2403.3h0M407.4 2403.3h0M416.4 2403.3h0M425.4 2403.3h0M462.3 2138.8h0M462.3 2363.3h0M453.3 2379h0M462.3 2379h0M471.3 2379h0M462.3 2391.9h0M453.3 2403.3h0M462.3 2403.3h0M471.3 2403.3h0M512.7 2138.8h0M512.7 2238h0M508 2297.6h0M517.5 2297.6h0M512.7 2314.9h0M512.7 2359.2h0M508 2403.3h0M517.5 2403.3h0M563 2356.5h0M554 2403.3h0M563 2403.3h0M572 2403.3h0" fill="none" stroke="#000" stroke-width="10.8" stroke-linecap="round"/>
</g>
<path d="M411.9 2077.5V2069.3H563V2077.5" fill="none" stroke="#1a1a1a" stroke-width="1.1"/>
<text x="488.6" y="2063.7" font-size="19.5" text-anchor="middle">p=0.019</text>
<path d="M411.9 2101.6V2093.4H512.7V2101.6" fill="none" stroke="#1a1a1a" stroke-width="1.1"/>
<text x="462.7" y="2090.7" font-size="19.5" text-anchor="middle">ns</text>
<path d="M411.9 2133.3V2125.1H462.3V2133.3" fill="none" stroke="#1a1a1a" stroke-width="1.1"/>
<text x="437.3" y="2122.7" font-size="19.5" text-anchor="middle">ns</text>
<text x="401.6" y="2463.1" font-size="28.6" text-anchor="middle" font-weight="bold" stroke="#1a1a1a" stroke-width="0.35" stroke-linejoin="round" transform="rotate(-33 401.6 2463.1)">pHC</text>
<text x="458.5" y="2463" font-size="28.6" text-anchor="middle" font-weight="bold" stroke="#1a1a1a" stroke-width="0.35" stroke-linejoin="round" transform="rotate(-33 458.5 2463)">G1</text>
<text x="508.4" y="2463" font-size="28.6" text-anchor="middle" font-weight="bold" stroke="#1a1a1a" stroke-width="0.35" stroke-linejoin="round" transform="rotate(-33 508.4 2463)">G2</text>
<text x="562.9" y="2467.1" font-size="28.6" text-anchor="middle" font-weight="bold" stroke="#1a1a1a" stroke-width="0.35" stroke-linejoin="round" transform="rotate(-33 562.9 2467.1)">G3</text>
<rect x="636.7" y="2008.5" width="211.7" height="36" fill="#BFBFBF" stroke="#2a2a2a" stroke-width="1.4"/>
<rect x="636.7" y="2044.5" width="211.7" height="380.7" fill="#fff" stroke="#2a2a2a" stroke-width="1.4"/>
<text x="663.7" y="2039.4" font-size="28.3" textLength="128.2" lengthAdjust="spacingAndGlyphs">PCs<tspan dy="-3">_</tspan><tspan dy="3">SC2</tspan></text>
<circle cx="825.6" cy="2026.3" r="14" fill="#6E92CE" stroke="#1a1a1a" stroke-width="1"/>
<text x="630.7" y="2094.2" font-size="24.5" text-anchor="end" font-weight="bold" stroke="#1a1a1a" stroke-width="0.35" stroke-linejoin="round">60</text>
<text x="630.7" y="2200.4" font-size="24.5" text-anchor="end" font-weight="bold" stroke="#1a1a1a" stroke-width="0.35" stroke-linejoin="round">40</text>
<text x="630.7" y="2306.3" font-size="24.5" text-anchor="end" font-weight="bold" stroke="#1a1a1a" stroke-width="0.35" stroke-linejoin="round">20</text>
<text x="630.7" y="2412" font-size="24.5" text-anchor="end" font-weight="bold" stroke="#1a1a1a" stroke-width="0.35" stroke-linejoin="round">0</text>
<path d="M636.7 2085.5h-5.6M636.7 2191.7h-5.6M636.7 2297.6h-5.6M636.7 2403.3h-5.6M667.1 2423.2v-6M717.4 2423.2v-6M767.8 2423.2v-6M818.2 2423.2v-6" fill="none" stroke="#333" stroke-width="1.1"/>
<g clip-path="url(#clip_g3)">
<rect x="661.7" y="2365.6" width="10.8" height="37.7" fill="#6ABF69" stroke="#555" stroke-width="1"/>
<line x1="717.4" y1="2204.7" x2="717.4" y2="2403.3" stroke="#333" stroke-width="1.1"/>
<rect x="712" y="2286.8" width="10.8" height="116.5" fill="#DADAEB" stroke="#555" stroke-width="1"/>
<line x1="767.8" y1="2226.8" x2="767.8" y2="2400.4" stroke="#333" stroke-width="1.1"/>
<rect x="762.4" y="2315.4" width="10.8" height="85" fill="#9E9AC8" stroke="#555" stroke-width="1"/>
<line x1="762.4" y1="2382.4" x2="773.2" y2="2382.4" stroke="#555" stroke-width="1"/>
<line x1="818.2" y1="2138.8" x2="818.2" y2="2403.3" stroke="#333" stroke-width="1.1"/>
<rect x="812.8" y="2196.8" width="10.8" height="127.1" fill="#54278F" stroke="#555" stroke-width="1"/>
<line x1="812.8" y1="2256.9" x2="823.6" y2="2256.9" stroke="#555" stroke-width="1"/>
<path d="M662.5 2138.8h0M671.7 2138.8h0M662.5 2362.2h0M671.7 2362.2h0M640.1 2403.3h0M649.1 2403.3h0M658.1 2403.3h0M667.1 2403.3h0M676.1 2403.3h0M685.1 2403.3h0M694.1 2403.3h0M717.4 2204.7h0M717.4 2271.1h0M712.6 2285h0M722.1 2285h0M717.4 2307.1h0M717.4 2365.5h0M708.4 2403.3h0M717.4 2403.3h0M726.4 2403.3h0M767.8 2226.8h0M767.8 2297.6h0M767.8 2322.1h0M767.8 2368.2h0M754.3 2400.4h0M763.3 2400.4h0M772.3 2400.4h0M781.3 2400.4h0M818.2 2138.8h0M818.2 2216.4h0M818.2 2297.6h0M818.2 2403.3h0" fill="none" stroke="#000" stroke-width="10.8" stroke-linecap="round"/>
</g>
<path d="M667.1 2069.6V2061.4H818.2V2069.6" fill="none" stroke="#1a1a1a" stroke-width="1.1"/>
<text x="742.6" y="2058.6" font-size="19.5" text-anchor="middle">ns</text>
<path d="M667.1 2101.6V2093.4H767.8V2101.6" fill="none" stroke="#1a1a1a" stroke-width="1.1"/>
<text x="717.7" y="2090.7" font-size="19.5" text-anchor="middle">ns</text>
<path d="M667.1 2133.3V2125.1H717.4V2133.3" fill="none" stroke="#1a1a1a" stroke-width="1.1"/>
<text x="692" y="2122.7" font-size="19.5" text-anchor="middle">ns</text>
<text x="656.1" y="2463.1" font-size="28.6" text-anchor="middle" font-weight="bold" stroke="#1a1a1a" stroke-width="0.35" stroke-linejoin="round" transform="rotate(-33 656.1 2463.1)">pHC</text>
<text x="713.4" y="2463" font-size="28.6" text-anchor="middle" font-weight="bold" stroke="#1a1a1a" stroke-width="0.35" stroke-linejoin="round" transform="rotate(-33 713.4 2463)">G1</text>
<text x="763.6" y="2463" font-size="28.6" text-anchor="middle" font-weight="bold" stroke="#1a1a1a" stroke-width="0.35" stroke-linejoin="round" transform="rotate(-33 763.6 2463)">G2</text>
<text x="818.1" y="2467.1" font-size="28.6" text-anchor="middle" font-weight="bold" stroke="#1a1a1a" stroke-width="0.35" stroke-linejoin="round" transform="rotate(-33 818.1 2467.1)">G3</text>
<rect x="891.7" y="2008.5" width="211.9" height="36" fill="#BFBFBF" stroke="#2a2a2a" stroke-width="1.4"/>
<rect x="891.7" y="2044.5" width="211.9" height="380.7" fill="#fff" stroke="#2a2a2a" stroke-width="1.4"/>
<text x="982.8" y="2039.4" font-size="28.3" textLength="30.9" lengthAdjust="spacingAndGlyphs">All</text>
<text x="885.7" y="2142.5" font-size="24.5" text-anchor="end" font-weight="bold" stroke="#1a1a1a" stroke-width="0.35" stroke-linejoin="round">30</text>
<text x="885.7" y="2233.7" font-size="24.5" text-anchor="end" font-weight="bold" stroke="#1a1a1a" stroke-width="0.35" stroke-linejoin="round">20</text>
<text x="885.7" y="2324.8" font-size="24.5" text-anchor="end" font-weight="bold" stroke="#1a1a1a" stroke-width="0.35" stroke-linejoin="round">10</text>
<text x="885.7" y="2416.5" font-size="24.5" text-anchor="end" font-weight="bold" stroke="#1a1a1a" stroke-width="0.35" stroke-linejoin="round">0</text>
<path d="M891.7 2133.8h-5.6M891.7 2225h-5.6M891.7 2316.1h-5.6M891.7 2400.2h-5.6M922.1 2423.2v-6M972.5 2423.2v-6M1022.9 2423.2v-6M1073.3 2423.2v-6" fill="none" stroke="#333" stroke-width="1.1"/>
<g clip-path="url(#clip_g4)">
<rect x="916.7" y="2388" width="10.8" height="13" fill="#6ABF69" stroke="#555" stroke-width="1"/>
<line x1="972.5" y1="2360.4" x2="972.5" y2="2398" stroke="#333" stroke-width="1.1"/>
<rect x="967.1" y="2373.4" width="10.8" height="22.6" fill="#DADAEB" stroke="#555" stroke-width="1"/>
<rect x="1017.5" y="2386.9" width="10.8" height="13.5" fill="#9E9AC8" stroke="#555" stroke-width="1"/>
<rect x="1067.9" y="2388" width="10.8" height="14.7" fill="#54278F" stroke="#555" stroke-width="1"/>
<path d="M922.1 2315.4h0M913.1 2384.7h0M922.1 2384.7h0M931.1 2384.7h0M895.1 2403.3h0M904.1 2403.3h0M913.1 2403.3h0M922.1 2403.3h0M931.1 2403.3h0M940.1 2403.3h0M949.1 2403.3h0M972.5 2360.4h0M967.8 2371.2h0M977.2 2371.2h0M967.8 2387.4h0M977.2 2387.4h0M959 2398.6h0M968 2398.6h0M977 2398.6h0M986 2398.6h0M1022.9 2139.5h0M1018.3 2383.5h0M1027.5 2383.5h0M1004.9 2401.5h0M1013.9 2401.5h0M1022.9 2401.5h0M1031.9 2401.5h0M1040.9 2401.5h0M1073.3 2379h0M1073.3 2390.7h0M1068.6 2402.7h0M1078 2402.7h0" fill="none" stroke="#000" stroke-width="10.8" stroke-linecap="round"/>
</g>
<path d="M922.1 2069.6V2061.4H1073.3V2069.6" fill="none" stroke="#1a1a1a" stroke-width="1.1"/>
<text x="997.5" y="2058.6" font-size="19.5" text-anchor="middle">ns</text>
<path d="M922.1 2101.6V2093.4H1022.9V2101.6" fill="none" stroke="#1a1a1a" stroke-width="1.1"/>
<text x="972.7" y="2090.7" font-size="19.5" text-anchor="middle">ns</text>
<path d="M922.1 2133.3V2125.1H972.5V2133.3" fill="none" stroke="#1a1a1a" stroke-width="1.1"/>
<text x="947.3" y="2122.7" font-size="19.5" text-anchor="middle">ns</text>
<text x="914.3" y="2461.9" font-size="28.6" text-anchor="middle" font-weight="bold" stroke="#1a1a1a" stroke-width="0.35" stroke-linejoin="round" transform="rotate(-33 914.3 2461.9)">pHC</text>
<text x="971.2" y="2461.9" font-size="28.6" text-anchor="middle" font-weight="bold" stroke="#1a1a1a" stroke-width="0.35" stroke-linejoin="round" transform="rotate(-33 971.2 2461.9)">G1</text>
<text x="1021.8" y="2461.9" font-size="28.6" text-anchor="middle" font-weight="bold" stroke="#1a1a1a" stroke-width="0.35" stroke-linejoin="round" transform="rotate(-33 1021.8 2461.9)">G2</text>
<text x="1076.3" y="2466.1" font-size="28.6" text-anchor="middle" font-weight="bold" stroke="#1a1a1a" stroke-width="0.35" stroke-linejoin="round" transform="rotate(-33 1076.3 2466.1)">G3</text>
<text x="50" y="2284.6" font-size="27.5" text-anchor="middle" font-weight="bold" stroke="#1a1a1a" stroke-width="0.35" stroke-linejoin="round" transform="rotate(-90 50 2284.6)">% of PCs</text>
</g>
<text x="10" y="88" font-size="62.5" font-weight="bold" stroke="#1a1a1a" stroke-width="0.35" stroke-linejoin="round">a</text>
<text x="849" y="89" font-size="62.5" font-weight="bold" stroke="#1a1a1a" stroke-width="0.35" stroke-linejoin="round">b</text>
<text x="15" y="536.5" font-size="62.5" font-weight="bold" stroke="#1a1a1a" stroke-width="0.35" stroke-linejoin="round">c</text>
<text x="9" y="1208" font-size="62.5" font-weight="bold" stroke="#1a1a1a" stroke-width="0.35" stroke-linejoin="round">d</text>
<text x="-2" y="1616" font-size="62.5" font-weight="bold" stroke="#1a1a1a" stroke-width="0.35" stroke-linejoin="round">e</text>
<text x="1153" y="1199" font-size="62.5" font-weight="bold" stroke="#1a1a1a" stroke-width="0.35" stroke-linejoin="round">f</text>
<text x="22" y="2010" font-size="62.5" font-weight="bold" stroke="#1a1a1a" stroke-width="0.35" stroke-linejoin="round">g</text>
</svg>
</body>
</html>
